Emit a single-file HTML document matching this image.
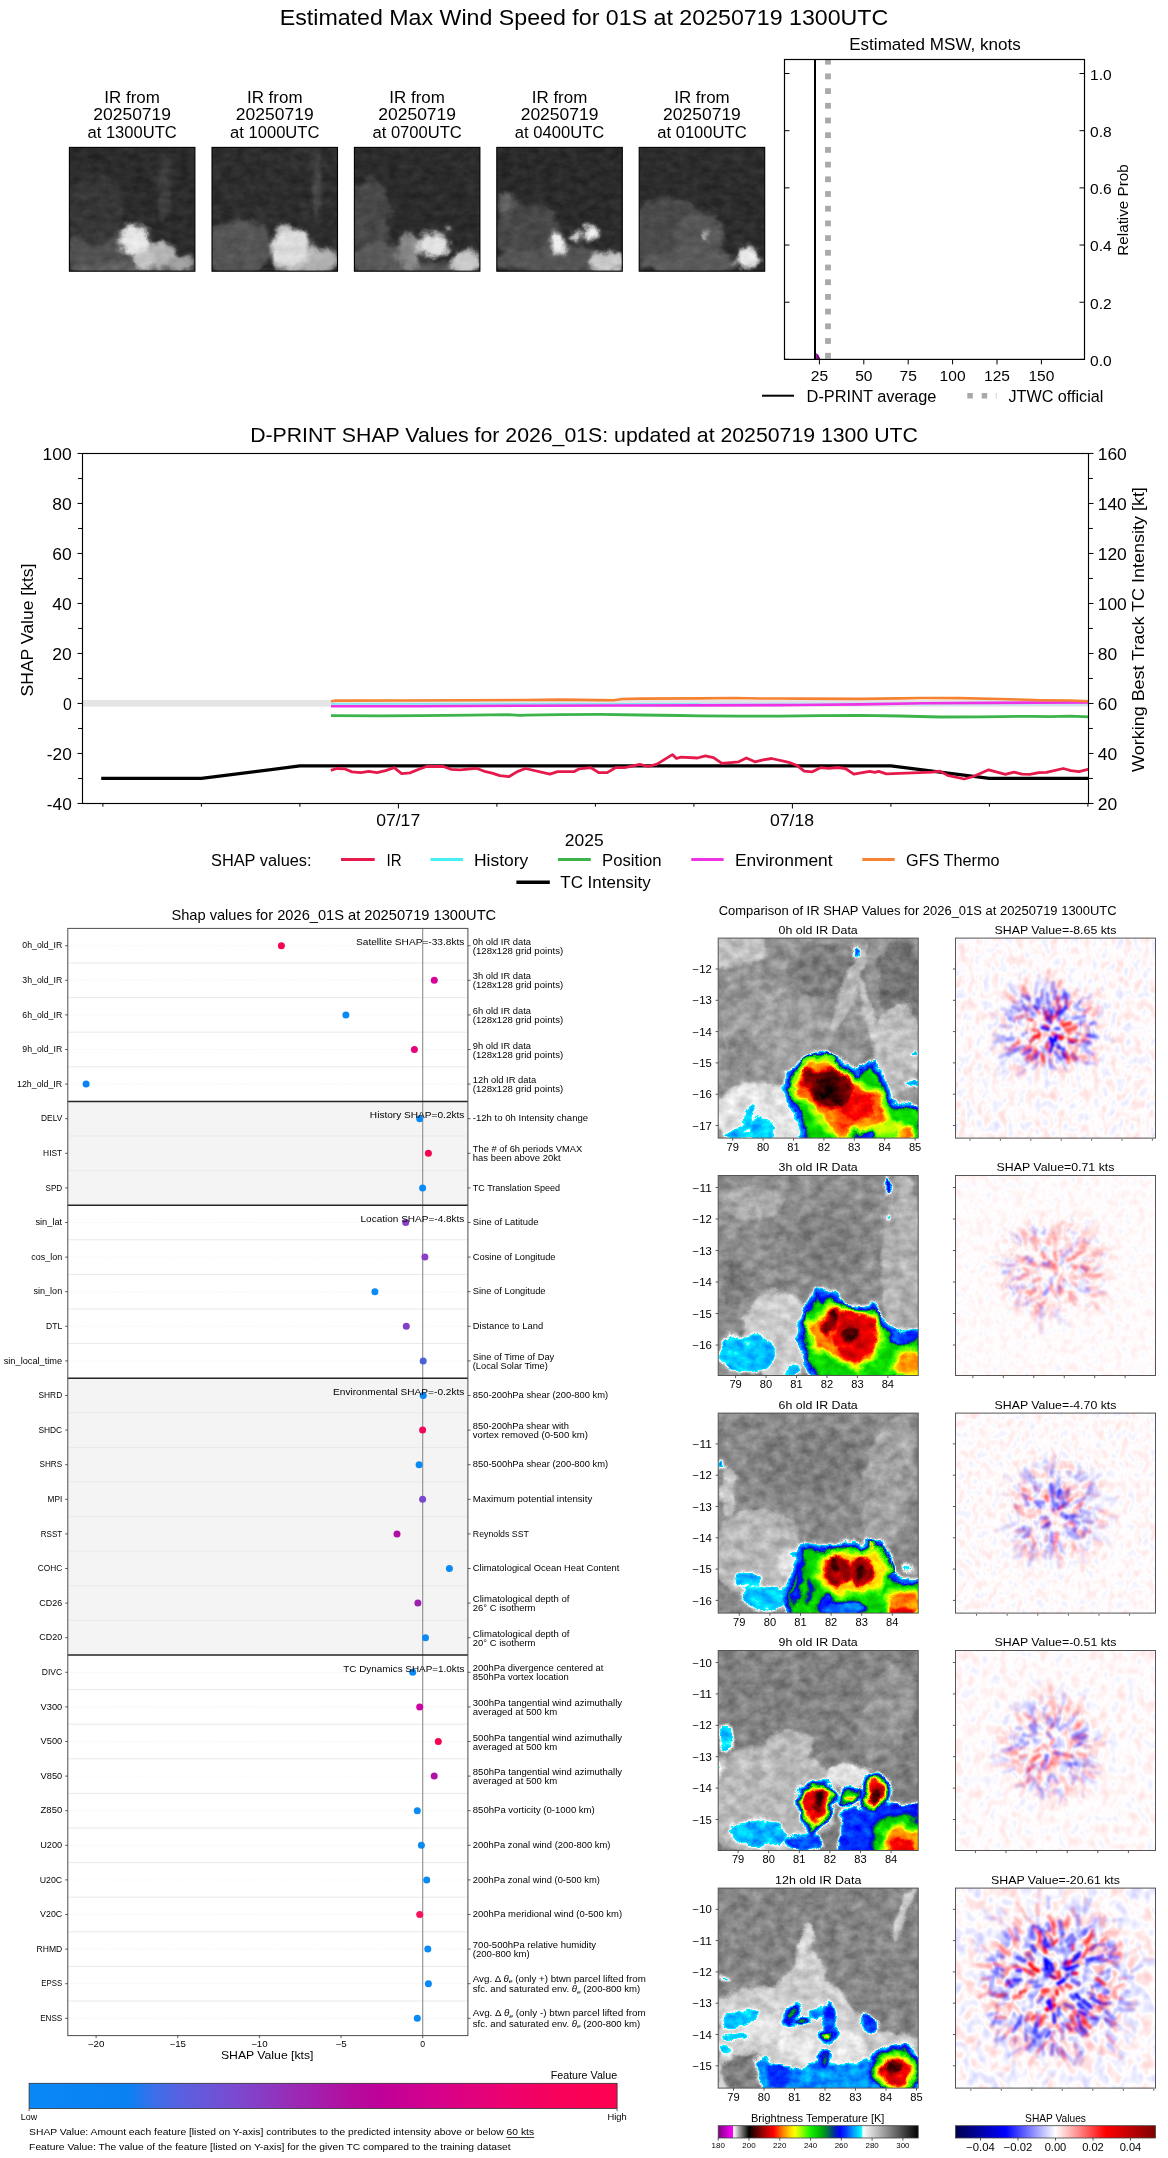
<!DOCTYPE html>
<html><head><meta charset="utf-8"><title>D-PRINT 01S</title>
<style>
html,body{margin:0;padding:0;background:#fff;}
body{width:1168px;height:2158px;overflow:hidden;}
svg{display:block;font-family:"Liberation Sans",sans-serif;}
text{fill:#000;}
</style></head><body>
<svg width="1168" height="2158" viewBox="0 0 1168 2158">
<defs>
<filter id="gt0" filterUnits="userSpaceOnUse" x="49.4" y="127.4" width="165.5" height="163.8" color-interpolation-filters="sRGB">
<feGaussianBlur in="SourceGraphic" stdDeviation="2.2" result="b"/>
<feTurbulence type="fractalNoise" baseFrequency="0.07" numOctaves="3" seed="3" result="t"/>
<feDisplacementMap in="b" in2="t" scale="12" xChannelSelector="R" yChannelSelector="G" result="d"/>
<feTurbulence type="fractalNoise" baseFrequency="0.09 0.13" numOctaves="3" seed="11" result="t2"/>
<feColorMatrix in="t2" type="matrix" values="1 0 0 0 0 1 0 0 0 0 1 0 0 0 0 0 0 0 0 1" result="n"/>
<feComposite in="d" in2="n" operator="arithmetic" k1="0" k2="1" k3="0.12" k4="-0.06"/>
</filter>
<clipPath id="ct0"><rect x="69.4" y="147.4" width="125.5" height="123.8"/></clipPath>
<filter id="gt1" filterUnits="userSpaceOnUse" x="192.0" y="127.4" width="165.5" height="163.8" color-interpolation-filters="sRGB">
<feGaussianBlur in="SourceGraphic" stdDeviation="2.2" result="b"/>
<feTurbulence type="fractalNoise" baseFrequency="0.07" numOctaves="3" seed="4" result="t"/>
<feDisplacementMap in="b" in2="t" scale="12" xChannelSelector="R" yChannelSelector="G" result="d"/>
<feTurbulence type="fractalNoise" baseFrequency="0.09 0.13" numOctaves="3" seed="12" result="t2"/>
<feColorMatrix in="t2" type="matrix" values="1 0 0 0 0 1 0 0 0 0 1 0 0 0 0 0 0 0 0 1" result="n"/>
<feComposite in="d" in2="n" operator="arithmetic" k1="0" k2="1" k3="0.12" k4="-0.06"/>
</filter>
<clipPath id="ct1"><rect x="212.0" y="147.4" width="125.5" height="123.8"/></clipPath>
<filter id="gt2" filterUnits="userSpaceOnUse" x="334.4" y="127.4" width="165.5" height="163.8" color-interpolation-filters="sRGB">
<feGaussianBlur in="SourceGraphic" stdDeviation="2.2" result="b"/>
<feTurbulence type="fractalNoise" baseFrequency="0.07" numOctaves="3" seed="5" result="t"/>
<feDisplacementMap in="b" in2="t" scale="12" xChannelSelector="R" yChannelSelector="G" result="d"/>
<feTurbulence type="fractalNoise" baseFrequency="0.09 0.13" numOctaves="3" seed="13" result="t2"/>
<feColorMatrix in="t2" type="matrix" values="1 0 0 0 0 1 0 0 0 0 1 0 0 0 0 0 0 0 0 1" result="n"/>
<feComposite in="d" in2="n" operator="arithmetic" k1="0" k2="1" k3="0.12" k4="-0.06"/>
</filter>
<clipPath id="ct2"><rect x="354.4" y="147.4" width="125.5" height="123.8"/></clipPath>
<filter id="gt3" filterUnits="userSpaceOnUse" x="476.8" y="127.4" width="165.5" height="163.8" color-interpolation-filters="sRGB">
<feGaussianBlur in="SourceGraphic" stdDeviation="2.2" result="b"/>
<feTurbulence type="fractalNoise" baseFrequency="0.07" numOctaves="3" seed="6" result="t"/>
<feDisplacementMap in="b" in2="t" scale="12" xChannelSelector="R" yChannelSelector="G" result="d"/>
<feTurbulence type="fractalNoise" baseFrequency="0.09 0.13" numOctaves="3" seed="14" result="t2"/>
<feColorMatrix in="t2" type="matrix" values="1 0 0 0 0 1 0 0 0 0 1 0 0 0 0 0 0 0 0 1" result="n"/>
<feComposite in="d" in2="n" operator="arithmetic" k1="0" k2="1" k3="0.12" k4="-0.06"/>
</filter>
<clipPath id="ct3"><rect x="496.8" y="147.4" width="125.5" height="123.8"/></clipPath>
<filter id="gt4" filterUnits="userSpaceOnUse" x="619.2" y="127.4" width="165.5" height="163.8" color-interpolation-filters="sRGB">
<feGaussianBlur in="SourceGraphic" stdDeviation="2.2" result="b"/>
<feTurbulence type="fractalNoise" baseFrequency="0.07" numOctaves="3" seed="7" result="t"/>
<feDisplacementMap in="b" in2="t" scale="12" xChannelSelector="R" yChannelSelector="G" result="d"/>
<feTurbulence type="fractalNoise" baseFrequency="0.09 0.13" numOctaves="3" seed="15" result="t2"/>
<feColorMatrix in="t2" type="matrix" values="1 0 0 0 0 1 0 0 0 0 1 0 0 0 0 0 0 0 0 1" result="n"/>
<feComposite in="d" in2="n" operator="arithmetic" k1="0" k2="1" k3="0.12" k4="-0.06"/>
</filter>
<clipPath id="ct4"><rect x="639.2" y="147.4" width="125.5" height="123.8"/></clipPath>
<linearGradient id="rb" x1="0" x2="1" y1="0" y2="0">
<stop offset="0" stop-color="#0a88f7"/><stop offset="0.17" stop-color="#0a80f2"/><stop offset="0.21" stop-color="#3a70ea"/>
<stop offset="0.26" stop-color="#5a60e0"/><stop offset="0.35" stop-color="#7a4ad0"/><stop offset="0.45" stop-color="#9a2ab6"/>
<stop offset="0.55" stop-color="#b40c9e"/><stop offset="0.60" stop-color="#c00098"/><stop offset="0.70" stop-color="#d6008a"/>
<stop offset="0.80" stop-color="#ea0072"/><stop offset="0.90" stop-color="#f8005a"/><stop offset="1" stop-color="#ff0050"/></linearGradient>
<filter id="fir0" filterUnits="userSpaceOnUse" x="693.2" y="913.1" width="250.0" height="250.0" color-interpolation-filters="sRGB">
<feGaussianBlur in="SourceGraphic" stdDeviation="1.5" result="b"/>
<feTurbulence type="fractalNoise" baseFrequency="0.06" numOctaves="4" seed="2" result="t"/>
<feDisplacementMap in="b" in2="t" scale="11" xChannelSelector="R" yChannelSelector="G" result="d"/>
<feTurbulence type="fractalNoise" baseFrequency="0.08 0.10" numOctaves="3" seed="1" result="t2"/>
<feColorMatrix in="t2" type="matrix" values="0 0 1 0 0 0 0 1 0 0 0 0 1 0 0 0 0 0 0 1" result="n"/>
<feComposite in="d" in2="n" operator="arithmetic" k1="0" k2="1" k3="0.09" k4="-0.045" result="f"/>
<feComponentTransfer in="f"><feFuncR type="table" tableValues="0.000 0.014 0.028 0.042 0.056 0.069 0.083 0.097 0.111 0.125 0.139 0.153 0.167 0.181 0.194 0.208 0.222 0.236 0.250 0.264 0.278 0.292 0.306 0.319 0.333 0.347 0.361 0.375 0.389 0.403 0.417 0.431 0.444 0.458 0.472 0.486 0.500 0.514 0.528 0.542 0.556 0.569 0.583 0.597 0.611 0.625 0.639 0.653 0.667 0.681 0.694 0.708 0.722 0.736 0.750 0.764 0.778 0.792 0.806 0.819 0.833 0.847 0.861 0.875 0.889 0.903 0.917 0.931 0.944 0.958 0.972 0.986 1.000 0.392 0.000 0.000 0.000 0.000 0.000 0.000 0.000 0.000 0.000 0.000 0.000 0.000 0.000 0.000 0.000 0.000 0.000 0.000 0.000 0.000 0.000 0.000 0.000 0.000 0.000 0.000 0.000 0.000 0.000 0.000 0.000 0.000 0.000 0.000 0.000 0.000 0.000 0.000 0.000 0.000 0.000 0.000 0.000 0.000 0.000 0.000 0.000 0.000 0.000 0.000 0.000 0.000 0.000 0.000 0.000 0.007 0.013 0.020 0.026 0.033 0.039 0.046 0.052 0.059 0.065 0.072 0.078 0.122 0.165 0.208 0.251 0.294 0.337 0.380 0.424 0.467 0.510 0.559 0.608 0.657 0.706 0.755 0.804 0.853 0.902 0.951 1.000 1.000 1.000 1.000 1.000 1.000 1.000 1.000 1.000 1.000 1.000 1.000 1.000 1.000 1.000 1.000 1.000 1.000 1.000 1.000 1.000 1.000 1.000 1.000 1.000 1.000 1.000 1.000 1.000 0.972 0.944 0.917 0.889 0.861 0.833 0.806 0.778 0.750 0.722 0.694 0.667 0.635 0.604 0.573 0.541 0.510 0.478 0.447 0.416 0.384 0.353 0.318 0.282 0.247 0.212 0.176 0.141 0.106 0.071 0.035 0.000 0.050 0.100 0.150 0.200 0.250 0.300 0.350 0.400 0.450 0.500 0.550 0.600 0.650 0.700 0.750 0.800 0.850 0.900 0.950 1.000 1.000 0.974 0.948 0.921 0.895 0.869 0.843 0.817 0.790 0.764 0.738 0.712 0.685 0.659 0.633 0.607 0.581 0.554 0.528 0.502"/><feFuncG type="table" tableValues="0.000 0.014 0.028 0.042 0.056 0.069 0.083 0.097 0.111 0.125 0.139 0.153 0.167 0.181 0.194 0.208 0.222 0.236 0.250 0.264 0.278 0.292 0.306 0.319 0.333 0.347 0.361 0.375 0.389 0.403 0.417 0.431 0.444 0.458 0.472 0.486 0.500 0.514 0.528 0.542 0.556 0.569 0.583 0.597 0.611 0.625 0.639 0.653 0.667 0.681 0.694 0.708 0.722 0.736 0.750 0.764 0.778 0.792 0.806 0.819 0.833 0.847 0.861 0.875 0.889 0.903 0.917 0.931 0.944 0.958 0.972 0.986 1.000 0.997 0.980 0.945 0.910 0.875 0.839 0.804 0.769 0.733 0.698 0.663 0.627 0.588 0.549 0.510 0.471 0.431 0.392 0.353 0.314 0.275 0.235 0.206 0.176 0.147 0.118 0.088 0.059 0.029 0.000 0.025 0.049 0.074 0.098 0.123 0.147 0.172 0.196 0.230 0.265 0.299 0.333 0.368 0.402 0.436 0.471 0.496 0.522 0.547 0.573 0.598 0.624 0.649 0.675 0.700 0.725 0.743 0.761 0.779 0.797 0.815 0.833 0.851 0.869 0.887 0.905 0.923 0.941 0.947 0.953 0.959 0.965 0.971 0.976 0.982 0.988 0.994 1.000 1.000 1.000 1.000 1.000 1.000 1.000 1.000 1.000 1.000 1.000 0.977 0.954 0.931 0.908 0.886 0.863 0.827 0.791 0.755 0.718 0.682 0.646 0.610 0.574 0.538 0.502 0.460 0.418 0.376 0.335 0.293 0.251 0.209 0.167 0.125 0.084 0.042 0.000 0.000 0.000 0.000 0.000 0.000 0.000 0.000 0.000 0.000 0.000 0.000 0.000 0.000 0.000 0.000 0.000 0.000 0.000 0.000 0.000 0.000 0.000 0.000 0.000 0.000 0.000 0.000 0.000 0.000 0.000 0.000 0.000 0.050 0.100 0.150 0.200 0.250 0.300 0.350 0.400 0.450 0.500 0.550 0.600 0.650 0.700 0.750 0.800 0.850 0.900 0.950 1.000 0.000 0.000 0.000 0.000 0.000 0.000 0.000 0.000 0.000 0.000 0.000 0.000 0.000 0.000 0.000 0.000 0.000 0.000 0.000 0.000"/><feFuncB type="table" tableValues="0.000 0.014 0.028 0.042 0.056 0.069 0.083 0.097 0.111 0.125 0.139 0.153 0.167 0.181 0.194 0.208 0.222 0.236 0.250 0.264 0.278 0.292 0.306 0.319 0.333 0.347 0.361 0.375 0.389 0.403 0.417 0.431 0.444 0.458 0.472 0.486 0.500 0.514 0.528 0.542 0.556 0.569 0.583 0.597 0.611 0.625 0.639 0.653 0.667 0.681 0.694 0.708 0.722 0.736 0.750 0.764 0.778 0.792 0.806 0.819 0.833 0.847 0.861 0.875 0.889 0.903 0.917 0.931 0.944 0.958 0.972 0.986 1.000 1.000 1.000 1.000 1.000 1.000 1.000 1.000 1.000 1.000 1.000 1.000 1.000 1.000 1.000 1.000 1.000 1.000 1.000 1.000 1.000 1.000 1.000 0.998 0.995 0.993 0.990 0.988 0.985 0.983 0.980 0.931 0.882 0.833 0.784 0.735 0.686 0.637 0.588 0.544 0.500 0.456 0.412 0.368 0.324 0.279 0.235 0.212 0.188 0.165 0.141 0.118 0.094 0.071 0.047 0.024 0.000 0.000 0.000 0.000 0.000 0.000 0.000 0.000 0.000 0.000 0.000 0.000 0.000 0.000 0.000 0.000 0.000 0.000 0.000 0.000 0.000 0.000 0.000 0.000 0.000 0.000 0.000 0.000 0.000 0.000 0.000 0.000 0.000 0.000 0.000 0.000 0.000 0.000 0.000 0.000 0.000 0.000 0.000 0.000 0.000 0.000 0.000 0.000 0.000 0.000 0.000 0.000 0.000 0.000 0.000 0.000 0.000 0.000 0.000 0.000 0.000 0.000 0.000 0.000 0.000 0.000 0.000 0.000 0.000 0.000 0.000 0.000 0.000 0.000 0.000 0.000 0.000 0.000 0.000 0.000 0.000 0.000 0.000 0.000 0.000 0.000 0.000 0.000 0.000 0.000 0.000 0.000 0.000 0.050 0.100 0.150 0.200 0.250 0.300 0.350 0.400 0.450 0.500 0.550 0.600 0.650 0.700 0.750 0.800 0.850 0.900 0.950 1.000 1.000 0.974 0.948 0.921 0.895 0.869 0.843 0.817 0.790 0.764 0.738 0.712 0.685 0.659 0.633 0.607 0.581 0.554 0.528 0.502"/></feComponentTransfer>
</filter>
<clipPath id="cir0"><rect x="718.2" y="938.1" width="200.0" height="200.0"/></clipPath>
<filter id="fsh0" filterUnits="userSpaceOnUse" x="955.5" y="938.1" width="200.0" height="200.0" color-interpolation-filters="sRGB">
<feGaussianBlur in="SourceGraphic" stdDeviation="9" result="a"/>
<feTurbulence type="fractalNoise" baseFrequency="0.12 0.09" numOctaves="2" seed="4" result="t"/>
<feColorMatrix in="t" type="matrix" values="1 0 0 0 0 1 0 0 0 0 1 0 0 0 0 0 0 0 0 1" result="n"/>
<feComposite in="n" in2="a" operator="arithmetic" k1="1.6" k2="0" k3="-0.8" k4="0.504" result="m"/>
<feColorMatrix in="m" type="matrix" values="1 0 0 0 0 1 0 0 0 0 1 0 0 0 0 0 0 0 0 1" result="m2"/>
<feComponentTransfer in="m2"><feFuncR type="table" tableValues="0 0 1 1 0.5"/><feFuncG type="table" tableValues="0 0 1 0 0"/><feFuncB type="table" tableValues="0.3 1 1 0 0"/></feComponentTransfer>
</filter>
<clipPath id="csh0"><rect x="955.5" y="938.1" width="200.0" height="200.0"/></clipPath>
<filter id="fir1" filterUnits="userSpaceOnUse" x="693.2" y="1150.5" width="250.0" height="250.0" color-interpolation-filters="sRGB">
<feGaussianBlur in="SourceGraphic" stdDeviation="1.5" result="b"/>
<feTurbulence type="fractalNoise" baseFrequency="0.06" numOctaves="4" seed="5" result="t"/>
<feDisplacementMap in="b" in2="t" scale="11" xChannelSelector="R" yChannelSelector="G" result="d"/>
<feTurbulence type="fractalNoise" baseFrequency="0.08 0.10" numOctaves="3" seed="6" result="t2"/>
<feColorMatrix in="t2" type="matrix" values="0 0 1 0 0 0 0 1 0 0 0 0 1 0 0 0 0 0 0 1" result="n"/>
<feComposite in="d" in2="n" operator="arithmetic" k1="0" k2="1" k3="0.09" k4="-0.045" result="f"/>
<feComponentTransfer in="f"><feFuncR type="table" tableValues="0.000 0.014 0.028 0.042 0.056 0.069 0.083 0.097 0.111 0.125 0.139 0.153 0.167 0.181 0.194 0.208 0.222 0.236 0.250 0.264 0.278 0.292 0.306 0.319 0.333 0.347 0.361 0.375 0.389 0.403 0.417 0.431 0.444 0.458 0.472 0.486 0.500 0.514 0.528 0.542 0.556 0.569 0.583 0.597 0.611 0.625 0.639 0.653 0.667 0.681 0.694 0.708 0.722 0.736 0.750 0.764 0.778 0.792 0.806 0.819 0.833 0.847 0.861 0.875 0.889 0.903 0.917 0.931 0.944 0.958 0.972 0.986 1.000 0.392 0.000 0.000 0.000 0.000 0.000 0.000 0.000 0.000 0.000 0.000 0.000 0.000 0.000 0.000 0.000 0.000 0.000 0.000 0.000 0.000 0.000 0.000 0.000 0.000 0.000 0.000 0.000 0.000 0.000 0.000 0.000 0.000 0.000 0.000 0.000 0.000 0.000 0.000 0.000 0.000 0.000 0.000 0.000 0.000 0.000 0.000 0.000 0.000 0.000 0.000 0.000 0.000 0.000 0.000 0.000 0.007 0.013 0.020 0.026 0.033 0.039 0.046 0.052 0.059 0.065 0.072 0.078 0.122 0.165 0.208 0.251 0.294 0.337 0.380 0.424 0.467 0.510 0.559 0.608 0.657 0.706 0.755 0.804 0.853 0.902 0.951 1.000 1.000 1.000 1.000 1.000 1.000 1.000 1.000 1.000 1.000 1.000 1.000 1.000 1.000 1.000 1.000 1.000 1.000 1.000 1.000 1.000 1.000 1.000 1.000 1.000 1.000 1.000 1.000 1.000 0.972 0.944 0.917 0.889 0.861 0.833 0.806 0.778 0.750 0.722 0.694 0.667 0.635 0.604 0.573 0.541 0.510 0.478 0.447 0.416 0.384 0.353 0.318 0.282 0.247 0.212 0.176 0.141 0.106 0.071 0.035 0.000 0.050 0.100 0.150 0.200 0.250 0.300 0.350 0.400 0.450 0.500 0.550 0.600 0.650 0.700 0.750 0.800 0.850 0.900 0.950 1.000 1.000 0.974 0.948 0.921 0.895 0.869 0.843 0.817 0.790 0.764 0.738 0.712 0.685 0.659 0.633 0.607 0.581 0.554 0.528 0.502"/><feFuncG type="table" tableValues="0.000 0.014 0.028 0.042 0.056 0.069 0.083 0.097 0.111 0.125 0.139 0.153 0.167 0.181 0.194 0.208 0.222 0.236 0.250 0.264 0.278 0.292 0.306 0.319 0.333 0.347 0.361 0.375 0.389 0.403 0.417 0.431 0.444 0.458 0.472 0.486 0.500 0.514 0.528 0.542 0.556 0.569 0.583 0.597 0.611 0.625 0.639 0.653 0.667 0.681 0.694 0.708 0.722 0.736 0.750 0.764 0.778 0.792 0.806 0.819 0.833 0.847 0.861 0.875 0.889 0.903 0.917 0.931 0.944 0.958 0.972 0.986 1.000 0.997 0.980 0.945 0.910 0.875 0.839 0.804 0.769 0.733 0.698 0.663 0.627 0.588 0.549 0.510 0.471 0.431 0.392 0.353 0.314 0.275 0.235 0.206 0.176 0.147 0.118 0.088 0.059 0.029 0.000 0.025 0.049 0.074 0.098 0.123 0.147 0.172 0.196 0.230 0.265 0.299 0.333 0.368 0.402 0.436 0.471 0.496 0.522 0.547 0.573 0.598 0.624 0.649 0.675 0.700 0.725 0.743 0.761 0.779 0.797 0.815 0.833 0.851 0.869 0.887 0.905 0.923 0.941 0.947 0.953 0.959 0.965 0.971 0.976 0.982 0.988 0.994 1.000 1.000 1.000 1.000 1.000 1.000 1.000 1.000 1.000 1.000 1.000 0.977 0.954 0.931 0.908 0.886 0.863 0.827 0.791 0.755 0.718 0.682 0.646 0.610 0.574 0.538 0.502 0.460 0.418 0.376 0.335 0.293 0.251 0.209 0.167 0.125 0.084 0.042 0.000 0.000 0.000 0.000 0.000 0.000 0.000 0.000 0.000 0.000 0.000 0.000 0.000 0.000 0.000 0.000 0.000 0.000 0.000 0.000 0.000 0.000 0.000 0.000 0.000 0.000 0.000 0.000 0.000 0.000 0.000 0.000 0.000 0.050 0.100 0.150 0.200 0.250 0.300 0.350 0.400 0.450 0.500 0.550 0.600 0.650 0.700 0.750 0.800 0.850 0.900 0.950 1.000 0.000 0.000 0.000 0.000 0.000 0.000 0.000 0.000 0.000 0.000 0.000 0.000 0.000 0.000 0.000 0.000 0.000 0.000 0.000 0.000"/><feFuncB type="table" tableValues="0.000 0.014 0.028 0.042 0.056 0.069 0.083 0.097 0.111 0.125 0.139 0.153 0.167 0.181 0.194 0.208 0.222 0.236 0.250 0.264 0.278 0.292 0.306 0.319 0.333 0.347 0.361 0.375 0.389 0.403 0.417 0.431 0.444 0.458 0.472 0.486 0.500 0.514 0.528 0.542 0.556 0.569 0.583 0.597 0.611 0.625 0.639 0.653 0.667 0.681 0.694 0.708 0.722 0.736 0.750 0.764 0.778 0.792 0.806 0.819 0.833 0.847 0.861 0.875 0.889 0.903 0.917 0.931 0.944 0.958 0.972 0.986 1.000 1.000 1.000 1.000 1.000 1.000 1.000 1.000 1.000 1.000 1.000 1.000 1.000 1.000 1.000 1.000 1.000 1.000 1.000 1.000 1.000 1.000 1.000 0.998 0.995 0.993 0.990 0.988 0.985 0.983 0.980 0.931 0.882 0.833 0.784 0.735 0.686 0.637 0.588 0.544 0.500 0.456 0.412 0.368 0.324 0.279 0.235 0.212 0.188 0.165 0.141 0.118 0.094 0.071 0.047 0.024 0.000 0.000 0.000 0.000 0.000 0.000 0.000 0.000 0.000 0.000 0.000 0.000 0.000 0.000 0.000 0.000 0.000 0.000 0.000 0.000 0.000 0.000 0.000 0.000 0.000 0.000 0.000 0.000 0.000 0.000 0.000 0.000 0.000 0.000 0.000 0.000 0.000 0.000 0.000 0.000 0.000 0.000 0.000 0.000 0.000 0.000 0.000 0.000 0.000 0.000 0.000 0.000 0.000 0.000 0.000 0.000 0.000 0.000 0.000 0.000 0.000 0.000 0.000 0.000 0.000 0.000 0.000 0.000 0.000 0.000 0.000 0.000 0.000 0.000 0.000 0.000 0.000 0.000 0.000 0.000 0.000 0.000 0.000 0.000 0.000 0.000 0.000 0.000 0.000 0.000 0.000 0.000 0.000 0.050 0.100 0.150 0.200 0.250 0.300 0.350 0.400 0.450 0.500 0.550 0.600 0.650 0.700 0.750 0.800 0.850 0.900 0.950 1.000 1.000 0.974 0.948 0.921 0.895 0.869 0.843 0.817 0.790 0.764 0.738 0.712 0.685 0.659 0.633 0.607 0.581 0.554 0.528 0.502"/></feComponentTransfer>
</filter>
<clipPath id="cir1"><rect x="718.2" y="1175.5" width="200.0" height="200.0"/></clipPath>
<filter id="fsh1" filterUnits="userSpaceOnUse" x="955.5" y="1175.5" width="200.0" height="200.0" color-interpolation-filters="sRGB">
<feGaussianBlur in="SourceGraphic" stdDeviation="9" result="a"/>
<feTurbulence type="fractalNoise" baseFrequency="0.13 0.11" numOctaves="2" seed="7" result="t"/>
<feColorMatrix in="t" type="matrix" values="1 0 0 0 0 1 0 0 0 0 1 0 0 0 0 0 0 0 0 1" result="n"/>
<feComposite in="n" in2="a" operator="arithmetic" k1="1.6" k2="0" k3="-0.8" k4="0.504" result="m"/>
<feColorMatrix in="m" type="matrix" values="1 0 0 0 0 1 0 0 0 0 1 0 0 0 0 0 0 0 0 1" result="m2"/>
<feComponentTransfer in="m2"><feFuncR type="table" tableValues="0 0 1 1 0.5"/><feFuncG type="table" tableValues="0 0 1 0 0"/><feFuncB type="table" tableValues="0.3 1 1 0 0"/></feComponentTransfer>
</filter>
<clipPath id="csh1"><rect x="955.5" y="1175.5" width="200.0" height="200.0"/></clipPath>
<filter id="fir2" filterUnits="userSpaceOnUse" x="693.2" y="1388.1" width="250.0" height="250.0" color-interpolation-filters="sRGB">
<feGaussianBlur in="SourceGraphic" stdDeviation="1.5" result="b"/>
<feTurbulence type="fractalNoise" baseFrequency="0.06" numOctaves="4" seed="8" result="t"/>
<feDisplacementMap in="b" in2="t" scale="11" xChannelSelector="R" yChannelSelector="G" result="d"/>
<feTurbulence type="fractalNoise" baseFrequency="0.08 0.10" numOctaves="3" seed="11" result="t2"/>
<feColorMatrix in="t2" type="matrix" values="0 0 1 0 0 0 0 1 0 0 0 0 1 0 0 0 0 0 0 1" result="n"/>
<feComposite in="d" in2="n" operator="arithmetic" k1="0" k2="1" k3="0.09" k4="-0.045" result="f"/>
<feComponentTransfer in="f"><feFuncR type="table" tableValues="0.000 0.014 0.028 0.042 0.056 0.069 0.083 0.097 0.111 0.125 0.139 0.153 0.167 0.181 0.194 0.208 0.222 0.236 0.250 0.264 0.278 0.292 0.306 0.319 0.333 0.347 0.361 0.375 0.389 0.403 0.417 0.431 0.444 0.458 0.472 0.486 0.500 0.514 0.528 0.542 0.556 0.569 0.583 0.597 0.611 0.625 0.639 0.653 0.667 0.681 0.694 0.708 0.722 0.736 0.750 0.764 0.778 0.792 0.806 0.819 0.833 0.847 0.861 0.875 0.889 0.903 0.917 0.931 0.944 0.958 0.972 0.986 1.000 0.392 0.000 0.000 0.000 0.000 0.000 0.000 0.000 0.000 0.000 0.000 0.000 0.000 0.000 0.000 0.000 0.000 0.000 0.000 0.000 0.000 0.000 0.000 0.000 0.000 0.000 0.000 0.000 0.000 0.000 0.000 0.000 0.000 0.000 0.000 0.000 0.000 0.000 0.000 0.000 0.000 0.000 0.000 0.000 0.000 0.000 0.000 0.000 0.000 0.000 0.000 0.000 0.000 0.000 0.000 0.000 0.007 0.013 0.020 0.026 0.033 0.039 0.046 0.052 0.059 0.065 0.072 0.078 0.122 0.165 0.208 0.251 0.294 0.337 0.380 0.424 0.467 0.510 0.559 0.608 0.657 0.706 0.755 0.804 0.853 0.902 0.951 1.000 1.000 1.000 1.000 1.000 1.000 1.000 1.000 1.000 1.000 1.000 1.000 1.000 1.000 1.000 1.000 1.000 1.000 1.000 1.000 1.000 1.000 1.000 1.000 1.000 1.000 1.000 1.000 1.000 0.972 0.944 0.917 0.889 0.861 0.833 0.806 0.778 0.750 0.722 0.694 0.667 0.635 0.604 0.573 0.541 0.510 0.478 0.447 0.416 0.384 0.353 0.318 0.282 0.247 0.212 0.176 0.141 0.106 0.071 0.035 0.000 0.050 0.100 0.150 0.200 0.250 0.300 0.350 0.400 0.450 0.500 0.550 0.600 0.650 0.700 0.750 0.800 0.850 0.900 0.950 1.000 1.000 0.974 0.948 0.921 0.895 0.869 0.843 0.817 0.790 0.764 0.738 0.712 0.685 0.659 0.633 0.607 0.581 0.554 0.528 0.502"/><feFuncG type="table" tableValues="0.000 0.014 0.028 0.042 0.056 0.069 0.083 0.097 0.111 0.125 0.139 0.153 0.167 0.181 0.194 0.208 0.222 0.236 0.250 0.264 0.278 0.292 0.306 0.319 0.333 0.347 0.361 0.375 0.389 0.403 0.417 0.431 0.444 0.458 0.472 0.486 0.500 0.514 0.528 0.542 0.556 0.569 0.583 0.597 0.611 0.625 0.639 0.653 0.667 0.681 0.694 0.708 0.722 0.736 0.750 0.764 0.778 0.792 0.806 0.819 0.833 0.847 0.861 0.875 0.889 0.903 0.917 0.931 0.944 0.958 0.972 0.986 1.000 0.997 0.980 0.945 0.910 0.875 0.839 0.804 0.769 0.733 0.698 0.663 0.627 0.588 0.549 0.510 0.471 0.431 0.392 0.353 0.314 0.275 0.235 0.206 0.176 0.147 0.118 0.088 0.059 0.029 0.000 0.025 0.049 0.074 0.098 0.123 0.147 0.172 0.196 0.230 0.265 0.299 0.333 0.368 0.402 0.436 0.471 0.496 0.522 0.547 0.573 0.598 0.624 0.649 0.675 0.700 0.725 0.743 0.761 0.779 0.797 0.815 0.833 0.851 0.869 0.887 0.905 0.923 0.941 0.947 0.953 0.959 0.965 0.971 0.976 0.982 0.988 0.994 1.000 1.000 1.000 1.000 1.000 1.000 1.000 1.000 1.000 1.000 1.000 0.977 0.954 0.931 0.908 0.886 0.863 0.827 0.791 0.755 0.718 0.682 0.646 0.610 0.574 0.538 0.502 0.460 0.418 0.376 0.335 0.293 0.251 0.209 0.167 0.125 0.084 0.042 0.000 0.000 0.000 0.000 0.000 0.000 0.000 0.000 0.000 0.000 0.000 0.000 0.000 0.000 0.000 0.000 0.000 0.000 0.000 0.000 0.000 0.000 0.000 0.000 0.000 0.000 0.000 0.000 0.000 0.000 0.000 0.000 0.000 0.050 0.100 0.150 0.200 0.250 0.300 0.350 0.400 0.450 0.500 0.550 0.600 0.650 0.700 0.750 0.800 0.850 0.900 0.950 1.000 0.000 0.000 0.000 0.000 0.000 0.000 0.000 0.000 0.000 0.000 0.000 0.000 0.000 0.000 0.000 0.000 0.000 0.000 0.000 0.000"/><feFuncB type="table" tableValues="0.000 0.014 0.028 0.042 0.056 0.069 0.083 0.097 0.111 0.125 0.139 0.153 0.167 0.181 0.194 0.208 0.222 0.236 0.250 0.264 0.278 0.292 0.306 0.319 0.333 0.347 0.361 0.375 0.389 0.403 0.417 0.431 0.444 0.458 0.472 0.486 0.500 0.514 0.528 0.542 0.556 0.569 0.583 0.597 0.611 0.625 0.639 0.653 0.667 0.681 0.694 0.708 0.722 0.736 0.750 0.764 0.778 0.792 0.806 0.819 0.833 0.847 0.861 0.875 0.889 0.903 0.917 0.931 0.944 0.958 0.972 0.986 1.000 1.000 1.000 1.000 1.000 1.000 1.000 1.000 1.000 1.000 1.000 1.000 1.000 1.000 1.000 1.000 1.000 1.000 1.000 1.000 1.000 1.000 1.000 0.998 0.995 0.993 0.990 0.988 0.985 0.983 0.980 0.931 0.882 0.833 0.784 0.735 0.686 0.637 0.588 0.544 0.500 0.456 0.412 0.368 0.324 0.279 0.235 0.212 0.188 0.165 0.141 0.118 0.094 0.071 0.047 0.024 0.000 0.000 0.000 0.000 0.000 0.000 0.000 0.000 0.000 0.000 0.000 0.000 0.000 0.000 0.000 0.000 0.000 0.000 0.000 0.000 0.000 0.000 0.000 0.000 0.000 0.000 0.000 0.000 0.000 0.000 0.000 0.000 0.000 0.000 0.000 0.000 0.000 0.000 0.000 0.000 0.000 0.000 0.000 0.000 0.000 0.000 0.000 0.000 0.000 0.000 0.000 0.000 0.000 0.000 0.000 0.000 0.000 0.000 0.000 0.000 0.000 0.000 0.000 0.000 0.000 0.000 0.000 0.000 0.000 0.000 0.000 0.000 0.000 0.000 0.000 0.000 0.000 0.000 0.000 0.000 0.000 0.000 0.000 0.000 0.000 0.000 0.000 0.000 0.000 0.000 0.000 0.000 0.000 0.050 0.100 0.150 0.200 0.250 0.300 0.350 0.400 0.450 0.500 0.550 0.600 0.650 0.700 0.750 0.800 0.850 0.900 0.950 1.000 1.000 0.974 0.948 0.921 0.895 0.869 0.843 0.817 0.790 0.764 0.738 0.712 0.685 0.659 0.633 0.607 0.581 0.554 0.528 0.502"/></feComponentTransfer>
</filter>
<clipPath id="cir2"><rect x="718.2" y="1413.1" width="200.0" height="200.0"/></clipPath>
<filter id="fsh2" filterUnits="userSpaceOnUse" x="955.5" y="1413.1" width="200.0" height="200.0" color-interpolation-filters="sRGB">
<feGaussianBlur in="SourceGraphic" stdDeviation="9" result="a"/>
<feTurbulence type="fractalNoise" baseFrequency="0.14 0.10" numOctaves="2" seed="11" result="t"/>
<feColorMatrix in="t" type="matrix" values="1 0 0 0 0 1 0 0 0 0 1 0 0 0 0 0 0 0 0 1" result="n"/>
<feComposite in="n" in2="a" operator="arithmetic" k1="1.6" k2="0" k3="-0.8" k4="0.504" result="m"/>
<feColorMatrix in="m" type="matrix" values="1 0 0 0 0 1 0 0 0 0 1 0 0 0 0 0 0 0 0 1" result="m2"/>
<feComponentTransfer in="m2"><feFuncR type="table" tableValues="0 0 1 1 0.5"/><feFuncG type="table" tableValues="0 0 1 0 0"/><feFuncB type="table" tableValues="0.3 1 1 0 0"/></feComponentTransfer>
</filter>
<clipPath id="csh2"><rect x="955.5" y="1413.1" width="200.0" height="200.0"/></clipPath>
<filter id="fir3" filterUnits="userSpaceOnUse" x="693.2" y="1625.5" width="250.0" height="250.0" color-interpolation-filters="sRGB">
<feGaussianBlur in="SourceGraphic" stdDeviation="1.5" result="b"/>
<feTurbulence type="fractalNoise" baseFrequency="0.06" numOctaves="4" seed="11" result="t"/>
<feDisplacementMap in="b" in2="t" scale="11" xChannelSelector="R" yChannelSelector="G" result="d"/>
<feTurbulence type="fractalNoise" baseFrequency="0.08 0.10" numOctaves="3" seed="16" result="t2"/>
<feColorMatrix in="t2" type="matrix" values="0 0 1 0 0 0 0 1 0 0 0 0 1 0 0 0 0 0 0 1" result="n"/>
<feComposite in="d" in2="n" operator="arithmetic" k1="0" k2="1" k3="0.09" k4="-0.045" result="f"/>
<feComponentTransfer in="f"><feFuncR type="table" tableValues="0.000 0.014 0.028 0.042 0.056 0.069 0.083 0.097 0.111 0.125 0.139 0.153 0.167 0.181 0.194 0.208 0.222 0.236 0.250 0.264 0.278 0.292 0.306 0.319 0.333 0.347 0.361 0.375 0.389 0.403 0.417 0.431 0.444 0.458 0.472 0.486 0.500 0.514 0.528 0.542 0.556 0.569 0.583 0.597 0.611 0.625 0.639 0.653 0.667 0.681 0.694 0.708 0.722 0.736 0.750 0.764 0.778 0.792 0.806 0.819 0.833 0.847 0.861 0.875 0.889 0.903 0.917 0.931 0.944 0.958 0.972 0.986 1.000 0.392 0.000 0.000 0.000 0.000 0.000 0.000 0.000 0.000 0.000 0.000 0.000 0.000 0.000 0.000 0.000 0.000 0.000 0.000 0.000 0.000 0.000 0.000 0.000 0.000 0.000 0.000 0.000 0.000 0.000 0.000 0.000 0.000 0.000 0.000 0.000 0.000 0.000 0.000 0.000 0.000 0.000 0.000 0.000 0.000 0.000 0.000 0.000 0.000 0.000 0.000 0.000 0.000 0.000 0.000 0.000 0.007 0.013 0.020 0.026 0.033 0.039 0.046 0.052 0.059 0.065 0.072 0.078 0.122 0.165 0.208 0.251 0.294 0.337 0.380 0.424 0.467 0.510 0.559 0.608 0.657 0.706 0.755 0.804 0.853 0.902 0.951 1.000 1.000 1.000 1.000 1.000 1.000 1.000 1.000 1.000 1.000 1.000 1.000 1.000 1.000 1.000 1.000 1.000 1.000 1.000 1.000 1.000 1.000 1.000 1.000 1.000 1.000 1.000 1.000 1.000 0.972 0.944 0.917 0.889 0.861 0.833 0.806 0.778 0.750 0.722 0.694 0.667 0.635 0.604 0.573 0.541 0.510 0.478 0.447 0.416 0.384 0.353 0.318 0.282 0.247 0.212 0.176 0.141 0.106 0.071 0.035 0.000 0.050 0.100 0.150 0.200 0.250 0.300 0.350 0.400 0.450 0.500 0.550 0.600 0.650 0.700 0.750 0.800 0.850 0.900 0.950 1.000 1.000 0.974 0.948 0.921 0.895 0.869 0.843 0.817 0.790 0.764 0.738 0.712 0.685 0.659 0.633 0.607 0.581 0.554 0.528 0.502"/><feFuncG type="table" tableValues="0.000 0.014 0.028 0.042 0.056 0.069 0.083 0.097 0.111 0.125 0.139 0.153 0.167 0.181 0.194 0.208 0.222 0.236 0.250 0.264 0.278 0.292 0.306 0.319 0.333 0.347 0.361 0.375 0.389 0.403 0.417 0.431 0.444 0.458 0.472 0.486 0.500 0.514 0.528 0.542 0.556 0.569 0.583 0.597 0.611 0.625 0.639 0.653 0.667 0.681 0.694 0.708 0.722 0.736 0.750 0.764 0.778 0.792 0.806 0.819 0.833 0.847 0.861 0.875 0.889 0.903 0.917 0.931 0.944 0.958 0.972 0.986 1.000 0.997 0.980 0.945 0.910 0.875 0.839 0.804 0.769 0.733 0.698 0.663 0.627 0.588 0.549 0.510 0.471 0.431 0.392 0.353 0.314 0.275 0.235 0.206 0.176 0.147 0.118 0.088 0.059 0.029 0.000 0.025 0.049 0.074 0.098 0.123 0.147 0.172 0.196 0.230 0.265 0.299 0.333 0.368 0.402 0.436 0.471 0.496 0.522 0.547 0.573 0.598 0.624 0.649 0.675 0.700 0.725 0.743 0.761 0.779 0.797 0.815 0.833 0.851 0.869 0.887 0.905 0.923 0.941 0.947 0.953 0.959 0.965 0.971 0.976 0.982 0.988 0.994 1.000 1.000 1.000 1.000 1.000 1.000 1.000 1.000 1.000 1.000 1.000 0.977 0.954 0.931 0.908 0.886 0.863 0.827 0.791 0.755 0.718 0.682 0.646 0.610 0.574 0.538 0.502 0.460 0.418 0.376 0.335 0.293 0.251 0.209 0.167 0.125 0.084 0.042 0.000 0.000 0.000 0.000 0.000 0.000 0.000 0.000 0.000 0.000 0.000 0.000 0.000 0.000 0.000 0.000 0.000 0.000 0.000 0.000 0.000 0.000 0.000 0.000 0.000 0.000 0.000 0.000 0.000 0.000 0.000 0.000 0.000 0.050 0.100 0.150 0.200 0.250 0.300 0.350 0.400 0.450 0.500 0.550 0.600 0.650 0.700 0.750 0.800 0.850 0.900 0.950 1.000 0.000 0.000 0.000 0.000 0.000 0.000 0.000 0.000 0.000 0.000 0.000 0.000 0.000 0.000 0.000 0.000 0.000 0.000 0.000 0.000"/><feFuncB type="table" tableValues="0.000 0.014 0.028 0.042 0.056 0.069 0.083 0.097 0.111 0.125 0.139 0.153 0.167 0.181 0.194 0.208 0.222 0.236 0.250 0.264 0.278 0.292 0.306 0.319 0.333 0.347 0.361 0.375 0.389 0.403 0.417 0.431 0.444 0.458 0.472 0.486 0.500 0.514 0.528 0.542 0.556 0.569 0.583 0.597 0.611 0.625 0.639 0.653 0.667 0.681 0.694 0.708 0.722 0.736 0.750 0.764 0.778 0.792 0.806 0.819 0.833 0.847 0.861 0.875 0.889 0.903 0.917 0.931 0.944 0.958 0.972 0.986 1.000 1.000 1.000 1.000 1.000 1.000 1.000 1.000 1.000 1.000 1.000 1.000 1.000 1.000 1.000 1.000 1.000 1.000 1.000 1.000 1.000 1.000 1.000 0.998 0.995 0.993 0.990 0.988 0.985 0.983 0.980 0.931 0.882 0.833 0.784 0.735 0.686 0.637 0.588 0.544 0.500 0.456 0.412 0.368 0.324 0.279 0.235 0.212 0.188 0.165 0.141 0.118 0.094 0.071 0.047 0.024 0.000 0.000 0.000 0.000 0.000 0.000 0.000 0.000 0.000 0.000 0.000 0.000 0.000 0.000 0.000 0.000 0.000 0.000 0.000 0.000 0.000 0.000 0.000 0.000 0.000 0.000 0.000 0.000 0.000 0.000 0.000 0.000 0.000 0.000 0.000 0.000 0.000 0.000 0.000 0.000 0.000 0.000 0.000 0.000 0.000 0.000 0.000 0.000 0.000 0.000 0.000 0.000 0.000 0.000 0.000 0.000 0.000 0.000 0.000 0.000 0.000 0.000 0.000 0.000 0.000 0.000 0.000 0.000 0.000 0.000 0.000 0.000 0.000 0.000 0.000 0.000 0.000 0.000 0.000 0.000 0.000 0.000 0.000 0.000 0.000 0.000 0.000 0.000 0.000 0.000 0.000 0.000 0.000 0.050 0.100 0.150 0.200 0.250 0.300 0.350 0.400 0.450 0.500 0.550 0.600 0.650 0.700 0.750 0.800 0.850 0.900 0.950 1.000 1.000 0.974 0.948 0.921 0.895 0.869 0.843 0.817 0.790 0.764 0.738 0.712 0.685 0.659 0.633 0.607 0.581 0.554 0.528 0.502"/></feComponentTransfer>
</filter>
<clipPath id="cir3"><rect x="718.2" y="1650.5" width="200.0" height="200.0"/></clipPath>
<filter id="fsh3" filterUnits="userSpaceOnUse" x="955.5" y="1650.5" width="200.0" height="200.0" color-interpolation-filters="sRGB">
<feGaussianBlur in="SourceGraphic" stdDeviation="9" result="a"/>
<feTurbulence type="fractalNoise" baseFrequency="0.11 0.08" numOctaves="2" seed="15" result="t"/>
<feColorMatrix in="t" type="matrix" values="1 0 0 0 0 1 0 0 0 0 1 0 0 0 0 0 0 0 0 1" result="n"/>
<feComposite in="n" in2="a" operator="arithmetic" k1="1.6" k2="0" k3="-0.8" k4="0.504" result="m"/>
<feColorMatrix in="m" type="matrix" values="1 0 0 0 0 1 0 0 0 0 1 0 0 0 0 0 0 0 0 1" result="m2"/>
<feComponentTransfer in="m2"><feFuncR type="table" tableValues="0 0 1 1 0.5"/><feFuncG type="table" tableValues="0 0 1 0 0"/><feFuncB type="table" tableValues="0.3 1 1 0 0"/></feComponentTransfer>
</filter>
<clipPath id="csh3"><rect x="955.5" y="1650.5" width="200.0" height="200.0"/></clipPath>
<filter id="fir4" filterUnits="userSpaceOnUse" x="693.2" y="1863.1" width="250.0" height="250.0" color-interpolation-filters="sRGB">
<feGaussianBlur in="SourceGraphic" stdDeviation="1.5" result="b"/>
<feTurbulence type="fractalNoise" baseFrequency="0.06" numOctaves="4" seed="14" result="t"/>
<feDisplacementMap in="b" in2="t" scale="11" xChannelSelector="R" yChannelSelector="G" result="d"/>
<feTurbulence type="fractalNoise" baseFrequency="0.08 0.10" numOctaves="3" seed="21" result="t2"/>
<feColorMatrix in="t2" type="matrix" values="0 0 1 0 0 0 0 1 0 0 0 0 1 0 0 0 0 0 0 1" result="n"/>
<feComposite in="d" in2="n" operator="arithmetic" k1="0" k2="1" k3="0.09" k4="-0.045" result="f"/>
<feComponentTransfer in="f"><feFuncR type="table" tableValues="0.000 0.014 0.028 0.042 0.056 0.069 0.083 0.097 0.111 0.125 0.139 0.153 0.167 0.181 0.194 0.208 0.222 0.236 0.250 0.264 0.278 0.292 0.306 0.319 0.333 0.347 0.361 0.375 0.389 0.403 0.417 0.431 0.444 0.458 0.472 0.486 0.500 0.514 0.528 0.542 0.556 0.569 0.583 0.597 0.611 0.625 0.639 0.653 0.667 0.681 0.694 0.708 0.722 0.736 0.750 0.764 0.778 0.792 0.806 0.819 0.833 0.847 0.861 0.875 0.889 0.903 0.917 0.931 0.944 0.958 0.972 0.986 1.000 0.392 0.000 0.000 0.000 0.000 0.000 0.000 0.000 0.000 0.000 0.000 0.000 0.000 0.000 0.000 0.000 0.000 0.000 0.000 0.000 0.000 0.000 0.000 0.000 0.000 0.000 0.000 0.000 0.000 0.000 0.000 0.000 0.000 0.000 0.000 0.000 0.000 0.000 0.000 0.000 0.000 0.000 0.000 0.000 0.000 0.000 0.000 0.000 0.000 0.000 0.000 0.000 0.000 0.000 0.000 0.000 0.007 0.013 0.020 0.026 0.033 0.039 0.046 0.052 0.059 0.065 0.072 0.078 0.122 0.165 0.208 0.251 0.294 0.337 0.380 0.424 0.467 0.510 0.559 0.608 0.657 0.706 0.755 0.804 0.853 0.902 0.951 1.000 1.000 1.000 1.000 1.000 1.000 1.000 1.000 1.000 1.000 1.000 1.000 1.000 1.000 1.000 1.000 1.000 1.000 1.000 1.000 1.000 1.000 1.000 1.000 1.000 1.000 1.000 1.000 1.000 0.972 0.944 0.917 0.889 0.861 0.833 0.806 0.778 0.750 0.722 0.694 0.667 0.635 0.604 0.573 0.541 0.510 0.478 0.447 0.416 0.384 0.353 0.318 0.282 0.247 0.212 0.176 0.141 0.106 0.071 0.035 0.000 0.050 0.100 0.150 0.200 0.250 0.300 0.350 0.400 0.450 0.500 0.550 0.600 0.650 0.700 0.750 0.800 0.850 0.900 0.950 1.000 1.000 0.974 0.948 0.921 0.895 0.869 0.843 0.817 0.790 0.764 0.738 0.712 0.685 0.659 0.633 0.607 0.581 0.554 0.528 0.502"/><feFuncG type="table" tableValues="0.000 0.014 0.028 0.042 0.056 0.069 0.083 0.097 0.111 0.125 0.139 0.153 0.167 0.181 0.194 0.208 0.222 0.236 0.250 0.264 0.278 0.292 0.306 0.319 0.333 0.347 0.361 0.375 0.389 0.403 0.417 0.431 0.444 0.458 0.472 0.486 0.500 0.514 0.528 0.542 0.556 0.569 0.583 0.597 0.611 0.625 0.639 0.653 0.667 0.681 0.694 0.708 0.722 0.736 0.750 0.764 0.778 0.792 0.806 0.819 0.833 0.847 0.861 0.875 0.889 0.903 0.917 0.931 0.944 0.958 0.972 0.986 1.000 0.997 0.980 0.945 0.910 0.875 0.839 0.804 0.769 0.733 0.698 0.663 0.627 0.588 0.549 0.510 0.471 0.431 0.392 0.353 0.314 0.275 0.235 0.206 0.176 0.147 0.118 0.088 0.059 0.029 0.000 0.025 0.049 0.074 0.098 0.123 0.147 0.172 0.196 0.230 0.265 0.299 0.333 0.368 0.402 0.436 0.471 0.496 0.522 0.547 0.573 0.598 0.624 0.649 0.675 0.700 0.725 0.743 0.761 0.779 0.797 0.815 0.833 0.851 0.869 0.887 0.905 0.923 0.941 0.947 0.953 0.959 0.965 0.971 0.976 0.982 0.988 0.994 1.000 1.000 1.000 1.000 1.000 1.000 1.000 1.000 1.000 1.000 1.000 0.977 0.954 0.931 0.908 0.886 0.863 0.827 0.791 0.755 0.718 0.682 0.646 0.610 0.574 0.538 0.502 0.460 0.418 0.376 0.335 0.293 0.251 0.209 0.167 0.125 0.084 0.042 0.000 0.000 0.000 0.000 0.000 0.000 0.000 0.000 0.000 0.000 0.000 0.000 0.000 0.000 0.000 0.000 0.000 0.000 0.000 0.000 0.000 0.000 0.000 0.000 0.000 0.000 0.000 0.000 0.000 0.000 0.000 0.000 0.000 0.050 0.100 0.150 0.200 0.250 0.300 0.350 0.400 0.450 0.500 0.550 0.600 0.650 0.700 0.750 0.800 0.850 0.900 0.950 1.000 0.000 0.000 0.000 0.000 0.000 0.000 0.000 0.000 0.000 0.000 0.000 0.000 0.000 0.000 0.000 0.000 0.000 0.000 0.000 0.000"/><feFuncB type="table" tableValues="0.000 0.014 0.028 0.042 0.056 0.069 0.083 0.097 0.111 0.125 0.139 0.153 0.167 0.181 0.194 0.208 0.222 0.236 0.250 0.264 0.278 0.292 0.306 0.319 0.333 0.347 0.361 0.375 0.389 0.403 0.417 0.431 0.444 0.458 0.472 0.486 0.500 0.514 0.528 0.542 0.556 0.569 0.583 0.597 0.611 0.625 0.639 0.653 0.667 0.681 0.694 0.708 0.722 0.736 0.750 0.764 0.778 0.792 0.806 0.819 0.833 0.847 0.861 0.875 0.889 0.903 0.917 0.931 0.944 0.958 0.972 0.986 1.000 1.000 1.000 1.000 1.000 1.000 1.000 1.000 1.000 1.000 1.000 1.000 1.000 1.000 1.000 1.000 1.000 1.000 1.000 1.000 1.000 1.000 1.000 0.998 0.995 0.993 0.990 0.988 0.985 0.983 0.980 0.931 0.882 0.833 0.784 0.735 0.686 0.637 0.588 0.544 0.500 0.456 0.412 0.368 0.324 0.279 0.235 0.212 0.188 0.165 0.141 0.118 0.094 0.071 0.047 0.024 0.000 0.000 0.000 0.000 0.000 0.000 0.000 0.000 0.000 0.000 0.000 0.000 0.000 0.000 0.000 0.000 0.000 0.000 0.000 0.000 0.000 0.000 0.000 0.000 0.000 0.000 0.000 0.000 0.000 0.000 0.000 0.000 0.000 0.000 0.000 0.000 0.000 0.000 0.000 0.000 0.000 0.000 0.000 0.000 0.000 0.000 0.000 0.000 0.000 0.000 0.000 0.000 0.000 0.000 0.000 0.000 0.000 0.000 0.000 0.000 0.000 0.000 0.000 0.000 0.000 0.000 0.000 0.000 0.000 0.000 0.000 0.000 0.000 0.000 0.000 0.000 0.000 0.000 0.000 0.000 0.000 0.000 0.000 0.000 0.000 0.000 0.000 0.000 0.000 0.000 0.000 0.000 0.000 0.050 0.100 0.150 0.200 0.250 0.300 0.350 0.400 0.450 0.500 0.550 0.600 0.650 0.700 0.750 0.800 0.850 0.900 0.950 1.000 1.000 0.974 0.948 0.921 0.895 0.869 0.843 0.817 0.790 0.764 0.738 0.712 0.685 0.659 0.633 0.607 0.581 0.554 0.528 0.502"/></feComponentTransfer>
</filter>
<clipPath id="cir4"><rect x="718.2" y="1888.1" width="200.0" height="200.0"/></clipPath>
<filter id="fsh4" filterUnits="userSpaceOnUse" x="955.5" y="1888.1" width="200.0" height="200.0" color-interpolation-filters="sRGB">
<feGaussianBlur in="SourceGraphic" stdDeviation="9" result="a"/>
<feTurbulence type="fractalNoise" baseFrequency="0.085 0.07" numOctaves="2" seed="21" result="t"/>
<feColorMatrix in="t" type="matrix" values="1 0 0 0 0 1 0 0 0 0 1 0 0 0 0 0 0 0 0 1" result="n"/>
<feComposite in="n" in2="a" operator="arithmetic" k1="1.9" k2="0" k3="-0.95" k4="0.5" result="m"/>
<feColorMatrix in="m" type="matrix" values="1 0 0 0 0 1 0 0 0 0 1 0 0 0 0 0 0 0 0 1" result="m2"/>
<feComponentTransfer in="m2"><feFuncR type="table" tableValues="0 0 1 1 0.5"/><feFuncG type="table" tableValues="0 0 1 0 0"/><feFuncB type="table" tableValues="0.3 1 1 0 0"/></feComponentTransfer>
</filter>
<clipPath id="csh4"><rect x="955.5" y="1888.1" width="200.0" height="200.0"/></clipPath>
<filter id="sblur" x="-5%" y="-5%" width="110%" height="110%"><feGaussianBlur stdDeviation="0.9"/></filter>
<linearGradient id="ircb" x1="0" x2="1" y1="0" y2="0"><stop offset="0.0000" stop-color="rgb(128,0,128)"/><stop offset="0.0723" stop-color="rgb(253,0,253)"/><stop offset="0.0738" stop-color="rgb(255,50,255)"/><stop offset="0.0769" stop-color="rgb(255,255,255)"/><stop offset="0.1154" stop-color="rgb(127,127,127)"/><stop offset="0.1538" stop-color="rgb(0,0,0)"/><stop offset="0.1923" stop-color="rgb(90,0,0)"/><stop offset="0.2308" stop-color="rgb(170,0,0)"/><stop offset="0.2769" stop-color="rgb(255,0,0)"/><stop offset="0.3231" stop-color="rgb(255,128,0)"/><stop offset="0.3615" stop-color="rgb(255,220,0)"/><stop offset="0.3846" stop-color="rgb(255,255,0)"/><stop offset="0.4231" stop-color="rgb(130,255,0)"/><stop offset="0.4615" stop-color="rgb(20,240,0)"/><stop offset="0.5077" stop-color="rgb(0,185,0)"/><stop offset="0.5462" stop-color="rgb(0,120,60)"/><stop offset="0.5769" stop-color="rgb(0,50,150)"/><stop offset="0.6077" stop-color="rgb(0,0,250)"/><stop offset="0.6385" stop-color="rgb(0,60,255)"/><stop offset="0.6769" stop-color="rgb(0,160,255)"/><stop offset="0.7154" stop-color="rgb(0,250,255)"/><stop offset="0.7208" stop-color="rgb(153,255,255)"/><stop offset="0.7246" stop-color="rgb(253,253,253)"/><stop offset="0.7923" stop-color="rgb(191,191,191)"/><stop offset="0.8615" stop-color="rgb(127,127,127)"/><stop offset="0.9308" stop-color="rgb(63,63,63)"/><stop offset="1.0000" stop-color="rgb(0,0,0)"/></linearGradient>
<linearGradient id="seis" x1="0" x2="1" y1="0" y2="0"><stop offset="0" stop-color="#00004c"/><stop offset="0.25" stop-color="#0000ff"/><stop offset="0.5" stop-color="#ffffff"/><stop offset="0.75" stop-color="#ff0000"/><stop offset="1" stop-color="#800000"/></linearGradient>
</defs>
<rect width="1168" height="2158" fill="#fff"/>
<g opacity="0.999">
<text x="584.00" y="24.90" font-size="21.66" text-anchor="middle" textLength="608.54" lengthAdjust="spacingAndGlyphs">Estimated Max Wind Speed for 01S at 20250719 1300UTC</text>
<text x="132.15" y="103.00" font-size="15.89" text-anchor="middle" textLength="55.54" lengthAdjust="spacingAndGlyphs">IR from</text>
<text x="132.15" y="120.00" font-size="15.89" text-anchor="middle" textLength="77.77" lengthAdjust="spacingAndGlyphs">20250719</text>
<text x="132.15" y="137.70" font-size="15.89" text-anchor="middle" textLength="89.39" lengthAdjust="spacingAndGlyphs">at 1300UTC</text>
<g clip-path="url(#ct0)"><g filter="url(#gt0)">
<rect x="49.40" y="127.40" width="165.50" height="163.80" fill="#2b2b2b"/>
<ellipse cx="99.4" cy="252.4" rx="35" ry="25" fill="#505050"/>
<ellipse cx="94.4" cy="207.4" rx="30" ry="35" fill="#363636"/>
<ellipse cx="164.4" cy="187.4" rx="6" ry="35" fill="#3e3e3e"/>
<ellipse cx="132.4" cy="269.4" rx="63" ry="6" fill="#606060"/>
<ellipse cx="157.4" cy="255.4" rx="22" ry="13" fill="#b4b4b4"/>
<ellipse cx="144.4" cy="259.4" rx="12" ry="10" fill="#c0c0c0"/>
<ellipse cx="179.4" cy="262.4" rx="14" ry="8" fill="#a0a0a0"/>
<ellipse cx="134.4" cy="239.4" rx="16" ry="15" fill="#e6e6e6"/>
</g></g>
<rect x="69.40" y="147.40" width="125.50" height="123.80" fill="none" stroke="#000" stroke-width="1.1"/>
<text x="274.75" y="103.00" font-size="15.89" text-anchor="middle" textLength="55.54" lengthAdjust="spacingAndGlyphs">IR from</text>
<text x="274.75" y="120.00" font-size="15.89" text-anchor="middle" textLength="77.77" lengthAdjust="spacingAndGlyphs">20250719</text>
<text x="274.75" y="137.70" font-size="15.89" text-anchor="middle" textLength="89.39" lengthAdjust="spacingAndGlyphs">at 1000UTC</text>
<g clip-path="url(#ct1)"><g filter="url(#gt1)">
<rect x="192.00" y="127.40" width="165.50" height="163.80" fill="#2d2d2d"/>
<ellipse cx="237.0" cy="247.4" rx="35" ry="28" fill="#555555"/>
<ellipse cx="317.0" cy="182.4" rx="5" ry="35" fill="#464646"/>
<ellipse cx="307.0" cy="265.4" rx="30" ry="8" fill="#b0b0b0"/>
<ellipse cx="322.0" cy="259.4" rx="16" ry="12" fill="#b0b0b0"/>
<ellipse cx="284.0" cy="229.4" rx="7" ry="7" fill="#c0c0c0"/>
<ellipse cx="292.0" cy="248.4" rx="21" ry="19" fill="#dcdcdc"/>
</g></g>
<rect x="212.00" y="147.40" width="125.50" height="123.80" fill="none" stroke="#000" stroke-width="1.1"/>
<text x="417.15" y="103.00" font-size="15.89" text-anchor="middle" textLength="55.54" lengthAdjust="spacingAndGlyphs">IR from</text>
<text x="417.15" y="120.00" font-size="15.89" text-anchor="middle" textLength="77.77" lengthAdjust="spacingAndGlyphs">20250719</text>
<text x="417.15" y="137.70" font-size="15.89" text-anchor="middle" textLength="89.39" lengthAdjust="spacingAndGlyphs">at 0700UTC</text>
<g clip-path="url(#ct2)"><g filter="url(#gt2)">
<rect x="334.40" y="127.40" width="165.50" height="163.80" fill="#2b2b2b"/>
<ellipse cx="369.4" cy="217.4" rx="20" ry="40" fill="#484848"/>
<ellipse cx="379.4" cy="257.4" rx="30" ry="15" fill="#5a5a5a"/>
<ellipse cx="417.4" cy="268.4" rx="63" ry="6" fill="#585858"/>
<ellipse cx="409.4" cy="252.4" rx="11" ry="20" fill="#888888"/>
<ellipse cx="466.4" cy="262.4" rx="16" ry="12" fill="#c8c8c8"/>
<ellipse cx="449.4" cy="227.4" rx="3" ry="3" fill="#d0d0d0"/>
<ellipse cx="432.4" cy="244.4" rx="16" ry="13" fill="#e2e2e2"/>
</g></g>
<rect x="354.40" y="147.40" width="125.50" height="123.80" fill="none" stroke="#000" stroke-width="1.1"/>
<text x="559.55" y="103.00" font-size="15.89" text-anchor="middle" textLength="55.54" lengthAdjust="spacingAndGlyphs">IR from</text>
<text x="559.55" y="120.00" font-size="15.89" text-anchor="middle" textLength="77.77" lengthAdjust="spacingAndGlyphs">20250719</text>
<text x="559.55" y="137.70" font-size="15.89" text-anchor="middle" textLength="89.39" lengthAdjust="spacingAndGlyphs">at 0400UTC</text>
<g clip-path="url(#ct3)"><g filter="url(#gt3)">
<rect x="476.80" y="127.40" width="165.50" height="163.80" fill="#2a2a2a"/>
<ellipse cx="526.8" cy="232.4" rx="35" ry="30" fill="#484848"/>
<ellipse cx="506.8" cy="202.4" rx="8" ry="12" fill="#606060"/>
<ellipse cx="556.8" cy="260.4" rx="60" ry="14" fill="#555555"/>
<ellipse cx="606.8" cy="262.4" rx="16" ry="12" fill="#c8c8c8"/>
<ellipse cx="557.8" cy="242.4" rx="8" ry="11" fill="#f0f0f0"/>
<ellipse cx="576.8" cy="237.4" rx="5" ry="5" fill="#d8d8d8"/>
<ellipse cx="590.8" cy="232.4" rx="7" ry="9" fill="#f0f0f0"/>
</g></g>
<rect x="496.80" y="147.40" width="125.50" height="123.80" fill="none" stroke="#000" stroke-width="1.1"/>
<text x="701.95" y="103.00" font-size="15.89" text-anchor="middle" textLength="55.54" lengthAdjust="spacingAndGlyphs">IR from</text>
<text x="701.95" y="120.00" font-size="15.89" text-anchor="middle" textLength="77.77" lengthAdjust="spacingAndGlyphs">20250719</text>
<text x="701.95" y="137.70" font-size="15.89" text-anchor="middle" textLength="89.39" lengthAdjust="spacingAndGlyphs">at 0100UTC</text>
<g clip-path="url(#ct4)"><g filter="url(#gt4)">
<rect x="619.20" y="127.40" width="165.50" height="163.80" fill="#2c2c2c"/>
<ellipse cx="669.2" cy="232.4" rx="40" ry="35" fill="#4a4a4a"/>
<ellipse cx="699.2" cy="237.4" rx="25" ry="25" fill="#565656"/>
<ellipse cx="689.2" cy="262.4" rx="50" ry="12" fill="#5a5a5a"/>
<ellipse cx="707.2" cy="235.4" rx="3" ry="3" fill="#e0e0e0"/>
<ellipse cx="747.2" cy="257.4" rx="11" ry="12" fill="#e8e8e8"/>
</g></g>
<rect x="639.20" y="147.40" width="125.50" height="123.80" fill="none" stroke="#000" stroke-width="1.1"/>
<text x="935.00" y="49.90" font-size="15.89" text-anchor="middle" textLength="171.59" lengthAdjust="spacingAndGlyphs">Estimated MSW, knots</text>
<clipPath id="cmsw"><rect x="784.5" y="59.5" width="300.0" height="299.9"/></clipPath>
<g clip-path="url(#cmsw)">
<rect x="825.10" y="58.80" width="5.80" height="5.80" fill="#a9a9a9"/>
<rect x="825.10" y="73.50" width="5.80" height="5.80" fill="#a9a9a9"/>
<rect x="825.10" y="88.20" width="5.80" height="5.80" fill="#a9a9a9"/>
<rect x="825.10" y="102.90" width="5.80" height="5.80" fill="#a9a9a9"/>
<rect x="825.10" y="117.60" width="5.80" height="5.80" fill="#a9a9a9"/>
<rect x="825.10" y="132.30" width="5.80" height="5.80" fill="#a9a9a9"/>
<rect x="825.10" y="147.00" width="5.80" height="5.80" fill="#a9a9a9"/>
<rect x="825.10" y="161.70" width="5.80" height="5.80" fill="#a9a9a9"/>
<rect x="825.10" y="176.40" width="5.80" height="5.80" fill="#a9a9a9"/>
<rect x="825.10" y="191.10" width="5.80" height="5.80" fill="#a9a9a9"/>
<rect x="825.10" y="205.80" width="5.80" height="5.80" fill="#a9a9a9"/>
<rect x="825.10" y="220.50" width="5.80" height="5.80" fill="#a9a9a9"/>
<rect x="825.10" y="235.20" width="5.80" height="5.80" fill="#a9a9a9"/>
<rect x="825.10" y="249.90" width="5.80" height="5.80" fill="#a9a9a9"/>
<rect x="825.10" y="264.60" width="5.80" height="5.80" fill="#a9a9a9"/>
<rect x="825.10" y="279.30" width="5.80" height="5.80" fill="#a9a9a9"/>
<rect x="825.10" y="294.00" width="5.80" height="5.80" fill="#a9a9a9"/>
<rect x="825.10" y="308.70" width="5.80" height="5.80" fill="#a9a9a9"/>
<rect x="825.10" y="323.40" width="5.80" height="5.80" fill="#a9a9a9"/>
<rect x="825.10" y="338.10" width="5.80" height="5.80" fill="#a9a9a9"/>
<rect x="825.10" y="352.80" width="5.80" height="5.80" fill="#a9a9a9"/>
<path d="M816.2,359.4 L816.2,353 L818.5,355 L820.5,359.4 Z" fill="#800080"/>
<line x1="815.00" y1="59.50" x2="815.00" y2="359.40" stroke="#000" stroke-width="2"/>
</g>
<rect x="784.50" y="59.50" width="300.00" height="299.90" fill="none" stroke="#000" stroke-width="1.2"/>
<line x1="819.40" y1="359.40" x2="819.40" y2="364.40" stroke="#000" stroke-width="1"/>
<text x="819.40" y="380.80" font-size="14.14" text-anchor="middle" textLength="17.31" lengthAdjust="spacingAndGlyphs">25</text>
<line x1="863.80" y1="359.40" x2="863.80" y2="364.40" stroke="#000" stroke-width="1"/>
<text x="863.80" y="380.80" font-size="14.14" text-anchor="middle" textLength="17.31" lengthAdjust="spacingAndGlyphs">50</text>
<line x1="908.20" y1="359.40" x2="908.20" y2="364.40" stroke="#000" stroke-width="1"/>
<text x="908.20" y="380.80" font-size="14.14" text-anchor="middle" textLength="17.31" lengthAdjust="spacingAndGlyphs">75</text>
<line x1="952.60" y1="359.40" x2="952.60" y2="364.40" stroke="#000" stroke-width="1"/>
<text x="952.60" y="380.80" font-size="14.14" text-anchor="middle" textLength="25.96" lengthAdjust="spacingAndGlyphs">100</text>
<line x1="997.00" y1="359.40" x2="997.00" y2="364.40" stroke="#000" stroke-width="1"/>
<text x="997.00" y="380.80" font-size="14.14" text-anchor="middle" textLength="25.96" lengthAdjust="spacingAndGlyphs">125</text>
<line x1="1041.40" y1="359.40" x2="1041.40" y2="364.40" stroke="#000" stroke-width="1"/>
<text x="1041.40" y="380.80" font-size="14.14" text-anchor="middle" textLength="25.96" lengthAdjust="spacingAndGlyphs">150</text>
<line x1="784.50" y1="359.40" x2="789.50" y2="359.40" stroke="#000" stroke-width="1"/>
<line x1="1079.50" y1="359.40" x2="1084.50" y2="359.40" stroke="#000" stroke-width="1"/>
<text x="1090.00" y="365.85" font-size="14.14" text-anchor="start" textLength="21.63" lengthAdjust="spacingAndGlyphs">0.0</text>
<line x1="784.50" y1="302.22" x2="789.50" y2="302.22" stroke="#000" stroke-width="1"/>
<line x1="1079.50" y1="302.22" x2="1084.50" y2="302.22" stroke="#000" stroke-width="1"/>
<text x="1090.00" y="308.67" font-size="14.14" text-anchor="start" textLength="21.63" lengthAdjust="spacingAndGlyphs">0.2</text>
<line x1="784.50" y1="245.04" x2="789.50" y2="245.04" stroke="#000" stroke-width="1"/>
<line x1="1079.50" y1="245.04" x2="1084.50" y2="245.04" stroke="#000" stroke-width="1"/>
<text x="1090.00" y="251.49" font-size="14.14" text-anchor="start" textLength="21.63" lengthAdjust="spacingAndGlyphs">0.4</text>
<line x1="784.50" y1="187.86" x2="789.50" y2="187.86" stroke="#000" stroke-width="1"/>
<line x1="1079.50" y1="187.86" x2="1084.50" y2="187.86" stroke="#000" stroke-width="1"/>
<text x="1090.00" y="194.31" font-size="14.14" text-anchor="start" textLength="21.63" lengthAdjust="spacingAndGlyphs">0.6</text>
<line x1="784.50" y1="130.68" x2="789.50" y2="130.68" stroke="#000" stroke-width="1"/>
<line x1="1079.50" y1="130.68" x2="1084.50" y2="130.68" stroke="#000" stroke-width="1"/>
<text x="1090.00" y="137.13" font-size="14.14" text-anchor="start" textLength="21.63" lengthAdjust="spacingAndGlyphs">0.8</text>
<line x1="784.50" y1="73.50" x2="789.50" y2="73.50" stroke="#000" stroke-width="1"/>
<line x1="1079.50" y1="73.50" x2="1084.50" y2="73.50" stroke="#000" stroke-width="1"/>
<text x="1090.00" y="79.95" font-size="14.14" text-anchor="start" textLength="21.63" lengthAdjust="spacingAndGlyphs">1.0</text>
<text x="1127.50" y="210.00" font-size="14.45" text-anchor="middle" textLength="91.28" lengthAdjust="spacingAndGlyphs" transform="rotate(-90 1127.50 210.00)">Relative Prob</text>
<line x1="762.00" y1="395.70" x2="794.00" y2="395.70" stroke="#000" stroke-width="2"/>
<text x="806.60" y="401.80" font-size="15.89" text-anchor="start" textLength="129.79" lengthAdjust="spacingAndGlyphs">D-PRINT average</text>
<rect x="967.30" y="393.00" width="5.50" height="5.50" fill="#a9a9a9"/>
<rect x="981.70" y="393.00" width="5.50" height="5.50" fill="#a9a9a9"/>
<rect x="995.70" y="393.00" width="1.00" height="5.50" fill="#d0d0d0"/>
<text x="1008.50" y="401.80" font-size="15.89" text-anchor="start" textLength="94.85" lengthAdjust="spacingAndGlyphs">JTWC official</text>
<text x="584.00" y="441.60" font-size="20.23" text-anchor="middle" textLength="667.69" lengthAdjust="spacingAndGlyphs">D-PRINT SHAP Values for 2026_01S: updated at 20250719 1300 UTC</text>
<clipPath id="cmid"><rect x="82.5" y="453.5" width="1006.0" height="350.0"/></clipPath>
<g clip-path="url(#cmid)" fill="none" stroke-linejoin="round">
<rect x="82.50" y="700.00" width="1006.00" height="6.70" fill="#e5e5e5"/>
<path d="M331.0,703.9 L700.0,703.9 L1089.0,703.6" stroke="#7eeaf2" stroke-width="1.6"/>
<path d="M700,702.6 L900,701.9 L1089,701.6 L1089,705.6 L900,705.4 L700,704.8 Z" fill="#c8e4f0" opacity="0.8"/>
<path d="M331.0,706.3 L420.0,706.2 L520.0,705.8 L620.0,705.5 L700.0,705.4 L800.0,705.0 L860.0,704.4 L922.0,703.2 L990.0,702.9 L1040.0,702.6 L1089.0,702.4" stroke="#f032e6" stroke-width="2.6"/>
<path d="M331.0,701.2 L336.0,700.6 L400.0,700.5 L470.0,700.3 L520.0,700.0 L560.0,699.6 L600.0,700.1 L614.0,700.2 L622.0,699.0 L640.0,698.6 L700.0,698.4 L735.0,698.0 L760.0,698.5 L800.0,698.6 L860.0,698.9 L900.0,698.4 L922.0,698.0 L960.0,698.1 L1000.0,699.0 L1040.0,700.2 L1070.0,700.5 L1089.0,701.2" stroke="#f58231" stroke-width="2.6"/>
<path d="M331.0,715.7 L380.0,715.8 L420.0,715.6 L470.0,715.2 L508.0,714.7 L520.0,715.3 L560.0,714.6 L600.0,714.4 L640.0,715.0 L680.0,715.5 L700.0,715.9 L740.0,716.2 L780.0,716.2 L820.0,715.6 L860.0,715.3 L900.0,716.0 L940.0,717.0 L980.0,716.8 L1020.0,716.3 L1050.0,716.6 L1070.0,716.2 L1089.0,716.8" stroke="#3cb44b" stroke-width="2.8"/>
<path d="M101.2,778.4 L201.4,778.4 L299.9,765.9 L890.9,765.9 L989.4,778.4 L1092.0,778.4" stroke="#000" stroke-width="3.3"/>
<path d="M330.8,770.3 L336.7,768.5 L344.4,768.8 L352.0,771.9 L360.6,772.6 L368.8,771.3 L377.0,772.6 L385.5,770.6 L394.0,767.7 L401.7,773.6 L409.9,772.9 L418.9,769.3 L426.6,766.5 L443.3,766.5 L451.0,769.3 L460.0,769.8 L476.2,768.3 L484.4,771.3 L492.1,773.1 L499.8,775.7 L508.8,776.7 L517.3,771.6 L525.5,768.5 L549.9,774.2 L557.6,771.6 L574.3,771.6 L579.4,768.8 L591.0,767.7 L598.7,772.6 L607.2,772.6 L615.4,767.7 L624.4,767.7 L632.1,766.2 L639.8,764.4 L648.3,766.5 L657.0,764.1 L672.4,754.6 L676.5,758.5 L680.9,757.2 L697.6,758.0 L705.3,755.9 L713.5,757.7 L722.0,763.4 L738.7,761.8 L746.4,758.0 L754.9,761.8 L763.1,759.8 L771.6,758.5 L788.8,762.3 L796.5,765.2 L804.2,771.1 L811.9,771.9 L820.4,767.7 L828.6,768.3 L837.6,767.5 L845.3,768.5 L853.8,774.2 L869.7,771.3 L874.9,772.4 L878.7,771.3 L886.4,773.9 L932.2,772.1 L939.9,771.1 L947.6,775.4 L964.3,779.0 L973.3,776.5 L988.7,769.8 L1005.4,774.4 L1013.9,772.1 L1022.1,774.2 L1029.8,774.4 L1038.8,772.6 L1046.5,772.4 L1063.2,768.5 L1070.9,770.6 L1079.1,771.6 L1089.0,769.1" stroke="#e6194b" stroke-width="2.8"/>
</g>
<rect x="82.50" y="453.50" width="1006.00" height="350.00" fill="none" stroke="#000" stroke-width="1.15"/>
<line x1="77.50" y1="803.46" x2="82.50" y2="803.46" stroke="#000" stroke-width="1"/>
<text x="71.80" y="809.86" font-size="15.89" text-anchor="end" textLength="24.96" lengthAdjust="spacingAndGlyphs">-40</text>
<line x1="78.10" y1="778.46" x2="82.50" y2="778.46" stroke="#000" stroke-width="1"/>
<line x1="77.50" y1="753.46" x2="82.50" y2="753.46" stroke="#000" stroke-width="1"/>
<text x="71.80" y="759.86" font-size="15.89" text-anchor="end" textLength="24.96" lengthAdjust="spacingAndGlyphs">-20</text>
<line x1="78.10" y1="728.46" x2="82.50" y2="728.46" stroke="#000" stroke-width="1"/>
<line x1="77.50" y1="703.46" x2="82.50" y2="703.46" stroke="#000" stroke-width="1"/>
<text x="71.80" y="709.86" font-size="15.89" text-anchor="end">0</text>
<line x1="78.10" y1="678.46" x2="82.50" y2="678.46" stroke="#000" stroke-width="1"/>
<line x1="77.50" y1="653.46" x2="82.50" y2="653.46" stroke="#000" stroke-width="1"/>
<text x="71.80" y="659.86" font-size="15.89" text-anchor="end" textLength="19.44" lengthAdjust="spacingAndGlyphs">20</text>
<line x1="78.10" y1="628.46" x2="82.50" y2="628.46" stroke="#000" stroke-width="1"/>
<line x1="77.50" y1="603.46" x2="82.50" y2="603.46" stroke="#000" stroke-width="1"/>
<text x="71.80" y="609.86" font-size="15.89" text-anchor="end" textLength="19.44" lengthAdjust="spacingAndGlyphs">40</text>
<line x1="78.10" y1="578.46" x2="82.50" y2="578.46" stroke="#000" stroke-width="1"/>
<line x1="77.50" y1="553.46" x2="82.50" y2="553.46" stroke="#000" stroke-width="1"/>
<text x="71.80" y="559.86" font-size="15.89" text-anchor="end" textLength="19.44" lengthAdjust="spacingAndGlyphs">60</text>
<line x1="78.10" y1="528.46" x2="82.50" y2="528.46" stroke="#000" stroke-width="1"/>
<line x1="77.50" y1="503.46" x2="82.50" y2="503.46" stroke="#000" stroke-width="1"/>
<text x="71.80" y="509.86" font-size="15.89" text-anchor="end" textLength="19.44" lengthAdjust="spacingAndGlyphs">80</text>
<line x1="78.10" y1="478.46" x2="82.50" y2="478.46" stroke="#000" stroke-width="1"/>
<line x1="77.50" y1="453.46" x2="82.50" y2="453.46" stroke="#000" stroke-width="1"/>
<text x="71.80" y="459.86" font-size="15.89" text-anchor="end" textLength="29.16" lengthAdjust="spacingAndGlyphs">100</text>
<line x1="1088.50" y1="803.46" x2="1093.50" y2="803.46" stroke="#000" stroke-width="1"/>
<text x="1097.70" y="809.86" font-size="15.89" text-anchor="start" textLength="19.44" lengthAdjust="spacingAndGlyphs">20</text>
<line x1="1088.50" y1="778.46" x2="1092.90" y2="778.46" stroke="#000" stroke-width="1"/>
<line x1="1088.50" y1="753.46" x2="1093.50" y2="753.46" stroke="#000" stroke-width="1"/>
<text x="1097.70" y="759.86" font-size="15.89" text-anchor="start" textLength="19.44" lengthAdjust="spacingAndGlyphs">40</text>
<line x1="1088.50" y1="728.46" x2="1092.90" y2="728.46" stroke="#000" stroke-width="1"/>
<line x1="1088.50" y1="703.46" x2="1093.50" y2="703.46" stroke="#000" stroke-width="1"/>
<text x="1097.70" y="709.86" font-size="15.89" text-anchor="start" textLength="19.44" lengthAdjust="spacingAndGlyphs">60</text>
<line x1="1088.50" y1="678.46" x2="1092.90" y2="678.46" stroke="#000" stroke-width="1"/>
<line x1="1088.50" y1="653.46" x2="1093.50" y2="653.46" stroke="#000" stroke-width="1"/>
<text x="1097.70" y="659.86" font-size="15.89" text-anchor="start" textLength="19.44" lengthAdjust="spacingAndGlyphs">80</text>
<line x1="1088.50" y1="628.46" x2="1092.90" y2="628.46" stroke="#000" stroke-width="1"/>
<line x1="1088.50" y1="603.46" x2="1093.50" y2="603.46" stroke="#000" stroke-width="1"/>
<text x="1097.70" y="609.86" font-size="15.89" text-anchor="start" textLength="29.16" lengthAdjust="spacingAndGlyphs">100</text>
<line x1="1088.50" y1="578.46" x2="1092.90" y2="578.46" stroke="#000" stroke-width="1"/>
<line x1="1088.50" y1="553.46" x2="1093.50" y2="553.46" stroke="#000" stroke-width="1"/>
<text x="1097.70" y="559.86" font-size="15.89" text-anchor="start" textLength="29.16" lengthAdjust="spacingAndGlyphs">120</text>
<line x1="1088.50" y1="528.46" x2="1092.90" y2="528.46" stroke="#000" stroke-width="1"/>
<line x1="1088.50" y1="503.46" x2="1093.50" y2="503.46" stroke="#000" stroke-width="1"/>
<text x="1097.70" y="509.86" font-size="15.89" text-anchor="start" textLength="29.16" lengthAdjust="spacingAndGlyphs">140</text>
<line x1="1088.50" y1="478.46" x2="1092.90" y2="478.46" stroke="#000" stroke-width="1"/>
<line x1="1088.50" y1="453.46" x2="1093.50" y2="453.46" stroke="#000" stroke-width="1"/>
<text x="1097.70" y="459.86" font-size="15.89" text-anchor="start" textLength="29.16" lengthAdjust="spacingAndGlyphs">160</text>
<line x1="102.90" y1="803.50" x2="102.90" y2="806.70" stroke="#000" stroke-width="1"/>
<line x1="201.40" y1="803.50" x2="201.40" y2="806.70" stroke="#000" stroke-width="1"/>
<line x1="299.90" y1="803.50" x2="299.90" y2="806.70" stroke="#000" stroke-width="1"/>
<line x1="398.40" y1="803.50" x2="398.40" y2="808.50" stroke="#000" stroke-width="1"/>
<line x1="496.90" y1="803.50" x2="496.90" y2="806.70" stroke="#000" stroke-width="1"/>
<line x1="595.40" y1="803.50" x2="595.40" y2="806.70" stroke="#000" stroke-width="1"/>
<line x1="693.90" y1="803.50" x2="693.90" y2="806.70" stroke="#000" stroke-width="1"/>
<line x1="792.40" y1="803.50" x2="792.40" y2="808.50" stroke="#000" stroke-width="1"/>
<line x1="890.90" y1="803.50" x2="890.90" y2="806.70" stroke="#000" stroke-width="1"/>
<line x1="989.40" y1="803.50" x2="989.40" y2="806.70" stroke="#000" stroke-width="1"/>
<line x1="1087.90" y1="803.50" x2="1087.90" y2="806.70" stroke="#000" stroke-width="1"/>
<text x="398.20" y="825.80" font-size="15.89" text-anchor="middle" textLength="44.03" lengthAdjust="spacingAndGlyphs">07/17</text>
<text x="792.00" y="825.80" font-size="15.89" text-anchor="middle" textLength="44.03" lengthAdjust="spacingAndGlyphs">07/18</text>
<text x="584.20" y="845.70" font-size="15.89" text-anchor="middle" textLength="38.89" lengthAdjust="spacingAndGlyphs">2025</text>
<text x="32.90" y="630.00" font-size="16.61" text-anchor="middle" textLength="133.00" lengthAdjust="spacingAndGlyphs" transform="rotate(-90 32.90 630.00)">SHAP Value [kts]</text>
<text x="1143.60" y="629.50" font-size="16.59" text-anchor="middle" textLength="284.77" lengthAdjust="spacingAndGlyphs" transform="rotate(-90 1143.60 629.50)">Working Best Track TC Intensity [kt]</text>
<text x="211.00" y="865.60" font-size="15.89" text-anchor="start" textLength="100.56" lengthAdjust="spacingAndGlyphs">SHAP values:</text>
<line x1="341.00" y1="859.50" x2="374.70" y2="859.50" stroke="#e6194b" stroke-width="3.0"/>
<text x="386.60" y="865.60" font-size="15.89" text-anchor="start" textLength="15.12" lengthAdjust="spacingAndGlyphs">IR</text>
<line x1="430.50" y1="859.50" x2="463.00" y2="859.50" stroke="#46f0f0" stroke-width="3.0"/>
<text x="474.00" y="865.60" font-size="15.89" text-anchor="start" textLength="54.36" lengthAdjust="spacingAndGlyphs">History</text>
<line x1="557.90" y1="859.50" x2="590.80" y2="859.50" stroke="#3cb44b" stroke-width="3.0"/>
<text x="602.00" y="865.60" font-size="15.89" text-anchor="start" textLength="59.49" lengthAdjust="spacingAndGlyphs">Position</text>
<line x1="691.30" y1="859.50" x2="723.60" y2="859.50" stroke="#f032e6" stroke-width="3.0"/>
<text x="735.00" y="865.60" font-size="15.89" text-anchor="start" textLength="97.57" lengthAdjust="spacingAndGlyphs">Environment</text>
<line x1="862.30" y1="859.50" x2="894.70" y2="859.50" stroke="#f58231" stroke-width="3.0"/>
<text x="906.00" y="865.60" font-size="15.89" text-anchor="start" textLength="93.58" lengthAdjust="spacingAndGlyphs">GFS Thermo</text>
<line x1="516.40" y1="882.20" x2="549.80" y2="882.20" stroke="#000" stroke-width="3.4"/>
<text x="560.30" y="887.80" font-size="15.89" text-anchor="start" textLength="90.47" lengthAdjust="spacingAndGlyphs">TC Intensity</text>
<text x="333.80" y="919.50" font-size="13.72" text-anchor="middle" textLength="324.81" lengthAdjust="spacingAndGlyphs">Shap values for 2026_01S at 20250719 1300UTC</text>
<rect x="67.80" y="1101.40" width="400.10" height="103.80" fill="#f4f4f4"/>
<rect x="67.80" y="1378.20" width="400.10" height="276.80" fill="#f4f4f4"/>
<line x1="67.80" y1="945.70" x2="467.90" y2="945.70" stroke="#efefef" stroke-width="0.8" stroke-dasharray="1 1.6"/>
<line x1="67.80" y1="963.00" x2="467.90" y2="963.00" stroke="#e9e9e9" stroke-width="1"/>
<line x1="67.80" y1="980.30" x2="467.90" y2="980.30" stroke="#efefef" stroke-width="0.8" stroke-dasharray="1 1.6"/>
<line x1="67.80" y1="997.60" x2="467.90" y2="997.60" stroke="#e9e9e9" stroke-width="1"/>
<line x1="67.80" y1="1014.90" x2="467.90" y2="1014.90" stroke="#efefef" stroke-width="0.8" stroke-dasharray="1 1.6"/>
<line x1="67.80" y1="1032.20" x2="467.90" y2="1032.20" stroke="#e9e9e9" stroke-width="1"/>
<line x1="67.80" y1="1049.50" x2="467.90" y2="1049.50" stroke="#efefef" stroke-width="0.8" stroke-dasharray="1 1.6"/>
<line x1="67.80" y1="1066.80" x2="467.90" y2="1066.80" stroke="#e9e9e9" stroke-width="1"/>
<line x1="67.80" y1="1084.10" x2="467.90" y2="1084.10" stroke="#efefef" stroke-width="0.8" stroke-dasharray="1 1.6"/>
<line x1="67.80" y1="1101.40" x2="467.90" y2="1101.40" stroke="#e9e9e9" stroke-width="1"/>
<line x1="67.80" y1="1118.70" x2="467.90" y2="1118.70" stroke="#efefef" stroke-width="0.8" stroke-dasharray="1 1.6"/>
<line x1="67.80" y1="1136.00" x2="467.90" y2="1136.00" stroke="#e9e9e9" stroke-width="1"/>
<line x1="67.80" y1="1153.30" x2="467.90" y2="1153.30" stroke="#efefef" stroke-width="0.8" stroke-dasharray="1 1.6"/>
<line x1="67.80" y1="1170.60" x2="467.90" y2="1170.60" stroke="#e9e9e9" stroke-width="1"/>
<line x1="67.80" y1="1187.90" x2="467.90" y2="1187.90" stroke="#efefef" stroke-width="0.8" stroke-dasharray="1 1.6"/>
<line x1="67.80" y1="1205.20" x2="467.90" y2="1205.20" stroke="#e9e9e9" stroke-width="1"/>
<line x1="67.80" y1="1222.50" x2="467.90" y2="1222.50" stroke="#efefef" stroke-width="0.8" stroke-dasharray="1 1.6"/>
<line x1="67.80" y1="1239.80" x2="467.90" y2="1239.80" stroke="#e9e9e9" stroke-width="1"/>
<line x1="67.80" y1="1257.10" x2="467.90" y2="1257.10" stroke="#efefef" stroke-width="0.8" stroke-dasharray="1 1.6"/>
<line x1="67.80" y1="1274.40" x2="467.90" y2="1274.40" stroke="#e9e9e9" stroke-width="1"/>
<line x1="67.80" y1="1291.70" x2="467.90" y2="1291.70" stroke="#efefef" stroke-width="0.8" stroke-dasharray="1 1.6"/>
<line x1="67.80" y1="1309.00" x2="467.90" y2="1309.00" stroke="#e9e9e9" stroke-width="1"/>
<line x1="67.80" y1="1326.30" x2="467.90" y2="1326.30" stroke="#efefef" stroke-width="0.8" stroke-dasharray="1 1.6"/>
<line x1="67.80" y1="1343.60" x2="467.90" y2="1343.60" stroke="#e9e9e9" stroke-width="1"/>
<line x1="67.80" y1="1360.90" x2="467.90" y2="1360.90" stroke="#efefef" stroke-width="0.8" stroke-dasharray="1 1.6"/>
<line x1="67.80" y1="1378.20" x2="467.90" y2="1378.20" stroke="#e9e9e9" stroke-width="1"/>
<line x1="67.80" y1="1395.50" x2="467.90" y2="1395.50" stroke="#efefef" stroke-width="0.8" stroke-dasharray="1 1.6"/>
<line x1="67.80" y1="1412.80" x2="467.90" y2="1412.80" stroke="#e9e9e9" stroke-width="1"/>
<line x1="67.80" y1="1430.10" x2="467.90" y2="1430.10" stroke="#efefef" stroke-width="0.8" stroke-dasharray="1 1.6"/>
<line x1="67.80" y1="1447.40" x2="467.90" y2="1447.40" stroke="#e9e9e9" stroke-width="1"/>
<line x1="67.80" y1="1464.70" x2="467.90" y2="1464.70" stroke="#efefef" stroke-width="0.8" stroke-dasharray="1 1.6"/>
<line x1="67.80" y1="1482.00" x2="467.90" y2="1482.00" stroke="#e9e9e9" stroke-width="1"/>
<line x1="67.80" y1="1499.30" x2="467.90" y2="1499.30" stroke="#efefef" stroke-width="0.8" stroke-dasharray="1 1.6"/>
<line x1="67.80" y1="1516.60" x2="467.90" y2="1516.60" stroke="#e9e9e9" stroke-width="1"/>
<line x1="67.80" y1="1533.90" x2="467.90" y2="1533.90" stroke="#efefef" stroke-width="0.8" stroke-dasharray="1 1.6"/>
<line x1="67.80" y1="1551.20" x2="467.90" y2="1551.20" stroke="#e9e9e9" stroke-width="1"/>
<line x1="67.80" y1="1568.50" x2="467.90" y2="1568.50" stroke="#efefef" stroke-width="0.8" stroke-dasharray="1 1.6"/>
<line x1="67.80" y1="1585.80" x2="467.90" y2="1585.80" stroke="#e9e9e9" stroke-width="1"/>
<line x1="67.80" y1="1603.10" x2="467.90" y2="1603.10" stroke="#efefef" stroke-width="0.8" stroke-dasharray="1 1.6"/>
<line x1="67.80" y1="1620.40" x2="467.90" y2="1620.40" stroke="#e9e9e9" stroke-width="1"/>
<line x1="67.80" y1="1637.70" x2="467.90" y2="1637.70" stroke="#efefef" stroke-width="0.8" stroke-dasharray="1 1.6"/>
<line x1="67.80" y1="1655.00" x2="467.90" y2="1655.00" stroke="#e9e9e9" stroke-width="1"/>
<line x1="67.80" y1="1672.30" x2="467.90" y2="1672.30" stroke="#efefef" stroke-width="0.8" stroke-dasharray="1 1.6"/>
<line x1="67.80" y1="1689.60" x2="467.90" y2="1689.60" stroke="#e9e9e9" stroke-width="1"/>
<line x1="67.80" y1="1706.90" x2="467.90" y2="1706.90" stroke="#efefef" stroke-width="0.8" stroke-dasharray="1 1.6"/>
<line x1="67.80" y1="1724.20" x2="467.90" y2="1724.20" stroke="#e9e9e9" stroke-width="1"/>
<line x1="67.80" y1="1741.50" x2="467.90" y2="1741.50" stroke="#efefef" stroke-width="0.8" stroke-dasharray="1 1.6"/>
<line x1="67.80" y1="1758.80" x2="467.90" y2="1758.80" stroke="#e9e9e9" stroke-width="1"/>
<line x1="67.80" y1="1776.10" x2="467.90" y2="1776.10" stroke="#efefef" stroke-width="0.8" stroke-dasharray="1 1.6"/>
<line x1="67.80" y1="1793.40" x2="467.90" y2="1793.40" stroke="#e9e9e9" stroke-width="1"/>
<line x1="67.80" y1="1810.70" x2="467.90" y2="1810.70" stroke="#efefef" stroke-width="0.8" stroke-dasharray="1 1.6"/>
<line x1="67.80" y1="1828.00" x2="467.90" y2="1828.00" stroke="#e9e9e9" stroke-width="1"/>
<line x1="67.80" y1="1845.30" x2="467.90" y2="1845.30" stroke="#efefef" stroke-width="0.8" stroke-dasharray="1 1.6"/>
<line x1="67.80" y1="1862.60" x2="467.90" y2="1862.60" stroke="#e9e9e9" stroke-width="1"/>
<line x1="67.80" y1="1879.90" x2="467.90" y2="1879.90" stroke="#efefef" stroke-width="0.8" stroke-dasharray="1 1.6"/>
<line x1="67.80" y1="1897.20" x2="467.90" y2="1897.20" stroke="#e9e9e9" stroke-width="1"/>
<line x1="67.80" y1="1914.50" x2="467.90" y2="1914.50" stroke="#efefef" stroke-width="0.8" stroke-dasharray="1 1.6"/>
<line x1="67.80" y1="1931.80" x2="467.90" y2="1931.80" stroke="#e9e9e9" stroke-width="1"/>
<line x1="67.80" y1="1949.10" x2="467.90" y2="1949.10" stroke="#efefef" stroke-width="0.8" stroke-dasharray="1 1.6"/>
<line x1="67.80" y1="1966.40" x2="467.90" y2="1966.40" stroke="#e9e9e9" stroke-width="1"/>
<line x1="67.80" y1="1983.70" x2="467.90" y2="1983.70" stroke="#efefef" stroke-width="0.8" stroke-dasharray="1 1.6"/>
<line x1="67.80" y1="2001.00" x2="467.90" y2="2001.00" stroke="#e9e9e9" stroke-width="1"/>
<line x1="67.80" y1="2018.30" x2="467.90" y2="2018.30" stroke="#efefef" stroke-width="0.8" stroke-dasharray="1 1.6"/>
<line x1="422.70" y1="928.40" x2="422.70" y2="2035.60" stroke="#8c8c8c" stroke-width="1.1"/>
<circle cx="281.4" cy="945.7" r="3.5" fill="#f5054f"/>
<circle cx="434.3" cy="980.3" r="3.5" fill="#d6009a"/>
<circle cx="345.9" cy="1014.9" r="3.5" fill="#0a8af5"/>
<circle cx="414.4" cy="1049.5" r="3.5" fill="#e8007c"/>
<circle cx="86.1" cy="1084.1" r="3.5" fill="#0a84f5"/>
<circle cx="419.7" cy="1118.7" r="3.5" fill="#0a8af5"/>
<circle cx="428.4" cy="1153.3" r="3.5" fill="#f5054f"/>
<circle cx="422.6" cy="1187.9" r="3.5" fill="#0a8af5"/>
<circle cx="405.7" cy="1222.5" r="3.5" fill="#8a3fc8"/>
<circle cx="424.9" cy="1257.1" r="3.5" fill="#8a3fc8"/>
<circle cx="374.9" cy="1291.7" r="3.5" fill="#0a8af5"/>
<circle cx="406.3" cy="1326.3" r="3.5" fill="#8040c8"/>
<circle cx="423.2" cy="1360.9" r="3.5" fill="#4a62d8"/>
<circle cx="423.2" cy="1395.5" r="3.5" fill="#0a8af5"/>
<circle cx="422.6" cy="1430.1" r="3.5" fill="#f0085c"/>
<circle cx="419.1" cy="1464.7" r="3.5" fill="#0a8af5"/>
<circle cx="422.6" cy="1499.3" r="3.5" fill="#7a48cc"/>
<circle cx="397.0" cy="1533.9" r="3.5" fill="#b010a0"/>
<circle cx="449.4" cy="1568.5" r="3.5" fill="#0a8af5"/>
<circle cx="417.9" cy="1603.1" r="3.5" fill="#a020b0"/>
<circle cx="425.5" cy="1637.7" r="3.5" fill="#0a8af5"/>
<circle cx="412.7" cy="1672.3" r="3.5" fill="#0a8af5"/>
<circle cx="419.7" cy="1706.9" r="3.5" fill="#d000a0"/>
<circle cx="438.3" cy="1741.5" r="3.5" fill="#f5054f"/>
<circle cx="434.2" cy="1776.1" r="3.5" fill="#b010a8"/>
<circle cx="417.3" cy="1810.7" r="3.5" fill="#0a8af5"/>
<circle cx="421.4" cy="1845.3" r="3.5" fill="#0a8af5"/>
<circle cx="426.7" cy="1879.9" r="3.5" fill="#0a8af5"/>
<circle cx="419.7" cy="1914.5" r="3.5" fill="#f8105a"/>
<circle cx="427.8" cy="1949.1" r="3.5" fill="#0a8af5"/>
<circle cx="428.4" cy="1983.7" r="3.5" fill="#0a8af5"/>
<circle cx="417.3" cy="2018.3" r="3.5" fill="#0a8af5"/>
<text x="464.40" y="945.40" font-size="9.39" text-anchor="end" textLength="108.40" lengthAdjust="spacingAndGlyphs" fill="#262626">Satellite SHAP=-33.8kts</text>
<text x="464.40" y="1118.40" font-size="9.39" text-anchor="end" textLength="94.54" lengthAdjust="spacingAndGlyphs" fill="#262626">History SHAP=0.2kts</text>
<text x="464.40" y="1222.20" font-size="9.39" text-anchor="end" textLength="103.87" lengthAdjust="spacingAndGlyphs" fill="#262626">Location SHAP=-4.8kts</text>
<text x="464.40" y="1395.20" font-size="9.39" text-anchor="end" textLength="131.38" lengthAdjust="spacingAndGlyphs" fill="#262626">Environmental SHAP=-0.2kts</text>
<text x="464.40" y="1672.00" font-size="9.39" text-anchor="end" textLength="121.11" lengthAdjust="spacingAndGlyphs" fill="#262626">TC Dynamics SHAP=1.0kts</text>
<line x1="67.80" y1="1101.40" x2="467.90" y2="1101.40" stroke="#262626" stroke-width="1.5"/>
<line x1="67.80" y1="1205.20" x2="467.90" y2="1205.20" stroke="#262626" stroke-width="1.5"/>
<line x1="67.80" y1="1378.20" x2="467.90" y2="1378.20" stroke="#262626" stroke-width="1.5"/>
<line x1="67.80" y1="1655.00" x2="467.90" y2="1655.00" stroke="#262626" stroke-width="1.5"/>
<rect x="67.80" y="928.40" width="400.10" height="1107.20" fill="none" stroke="#4d4d4d" stroke-width="1.0"/>
<line x1="65.20" y1="945.70" x2="67.80" y2="945.70" stroke="#333" stroke-width="0.8"/>
<line x1="467.90" y1="945.70" x2="470.50" y2="945.70" stroke="#333" stroke-width="0.8"/>
<text x="62.20" y="948.30" font-size="8.66" text-anchor="end" textLength="39.85" lengthAdjust="spacingAndGlyphs" fill="#262626">0h_old_IR</text>
<text x="472.80" y="944.80" font-size="8.66" text-anchor="start" textLength="58.23" lengthAdjust="spacingAndGlyphs" fill="#262626">0h old IR data</text>
<text x="472.80" y="953.80" font-size="8.66" text-anchor="start" textLength="90.42" lengthAdjust="spacingAndGlyphs" fill="#262626">(128x128 grid points)</text>
<line x1="65.20" y1="980.30" x2="67.80" y2="980.30" stroke="#333" stroke-width="0.8"/>
<line x1="467.90" y1="980.30" x2="470.50" y2="980.30" stroke="#333" stroke-width="0.8"/>
<text x="62.20" y="982.90" font-size="8.66" text-anchor="end" textLength="39.85" lengthAdjust="spacingAndGlyphs" fill="#262626">3h_old_IR</text>
<text x="472.80" y="979.40" font-size="8.66" text-anchor="start" textLength="58.23" lengthAdjust="spacingAndGlyphs" fill="#262626">3h old IR data</text>
<text x="472.80" y="988.40" font-size="8.66" text-anchor="start" textLength="90.42" lengthAdjust="spacingAndGlyphs" fill="#262626">(128x128 grid points)</text>
<line x1="65.20" y1="1014.90" x2="67.80" y2="1014.90" stroke="#333" stroke-width="0.8"/>
<line x1="467.90" y1="1014.90" x2="470.50" y2="1014.90" stroke="#333" stroke-width="0.8"/>
<text x="62.20" y="1017.50" font-size="8.66" text-anchor="end" textLength="39.85" lengthAdjust="spacingAndGlyphs" fill="#262626">6h_old_IR</text>
<text x="472.80" y="1014.00" font-size="8.66" text-anchor="start" textLength="58.23" lengthAdjust="spacingAndGlyphs" fill="#262626">6h old IR data</text>
<text x="472.80" y="1023.00" font-size="8.66" text-anchor="start" textLength="90.42" lengthAdjust="spacingAndGlyphs" fill="#262626">(128x128 grid points)</text>
<line x1="65.20" y1="1049.50" x2="67.80" y2="1049.50" stroke="#333" stroke-width="0.8"/>
<line x1="467.90" y1="1049.50" x2="470.50" y2="1049.50" stroke="#333" stroke-width="0.8"/>
<text x="62.20" y="1052.10" font-size="8.66" text-anchor="end" textLength="39.85" lengthAdjust="spacingAndGlyphs" fill="#262626">9h_old_IR</text>
<text x="472.80" y="1048.60" font-size="8.66" text-anchor="start" textLength="58.23" lengthAdjust="spacingAndGlyphs" fill="#262626">9h old IR data</text>
<text x="472.80" y="1057.60" font-size="8.66" text-anchor="start" textLength="90.42" lengthAdjust="spacingAndGlyphs" fill="#262626">(128x128 grid points)</text>
<line x1="65.20" y1="1084.10" x2="67.80" y2="1084.10" stroke="#333" stroke-width="0.8"/>
<line x1="467.90" y1="1084.10" x2="470.50" y2="1084.10" stroke="#333" stroke-width="0.8"/>
<text x="62.20" y="1086.70" font-size="8.66" text-anchor="end" textLength="45.15" lengthAdjust="spacingAndGlyphs" fill="#262626">12h_old_IR</text>
<text x="472.80" y="1083.20" font-size="8.66" text-anchor="start" textLength="63.53" lengthAdjust="spacingAndGlyphs" fill="#262626">12h old IR data</text>
<text x="472.80" y="1092.20" font-size="8.66" text-anchor="start" textLength="90.42" lengthAdjust="spacingAndGlyphs" fill="#262626">(128x128 grid points)</text>
<line x1="65.20" y1="1118.70" x2="67.80" y2="1118.70" stroke="#333" stroke-width="0.8"/>
<line x1="467.90" y1="1118.70" x2="470.50" y2="1118.70" stroke="#333" stroke-width="0.8"/>
<text x="62.20" y="1121.30" font-size="8.66" text-anchor="end" textLength="21.10" lengthAdjust="spacingAndGlyphs" fill="#262626">DELV</text>
<text x="472.80" y="1121.30" font-size="8.66" text-anchor="start" textLength="115.33" lengthAdjust="spacingAndGlyphs" fill="#262626">-12h to 0h Intensity change</text>
<line x1="65.20" y1="1153.30" x2="67.80" y2="1153.30" stroke="#333" stroke-width="0.8"/>
<line x1="467.90" y1="1153.30" x2="470.50" y2="1153.30" stroke="#333" stroke-width="0.8"/>
<text x="62.20" y="1155.90" font-size="8.66" text-anchor="end" textLength="19.10" lengthAdjust="spacingAndGlyphs" fill="#262626">HIST</text>
<text x="472.80" y="1152.40" font-size="8.66" text-anchor="start" textLength="109.49" lengthAdjust="spacingAndGlyphs" fill="#262626">The # of 6h periods VMAX</text>
<text x="472.80" y="1161.40" font-size="8.66" text-anchor="start" textLength="87.72" lengthAdjust="spacingAndGlyphs" fill="#262626">has been above 20kt</text>
<line x1="65.20" y1="1187.90" x2="67.80" y2="1187.90" stroke="#333" stroke-width="0.8"/>
<line x1="467.90" y1="1187.90" x2="470.50" y2="1187.90" stroke="#333" stroke-width="0.8"/>
<text x="62.20" y="1190.50" font-size="8.66" text-anchor="end" textLength="16.73" lengthAdjust="spacingAndGlyphs" fill="#262626">SPD</text>
<text x="472.80" y="1190.50" font-size="8.66" text-anchor="start" textLength="87.21" lengthAdjust="spacingAndGlyphs" fill="#262626">TC Translation Speed</text>
<line x1="65.20" y1="1222.50" x2="67.80" y2="1222.50" stroke="#333" stroke-width="0.8"/>
<line x1="467.90" y1="1222.50" x2="470.50" y2="1222.50" stroke="#333" stroke-width="0.8"/>
<text x="62.20" y="1225.10" font-size="8.66" text-anchor="end" textLength="26.78" lengthAdjust="spacingAndGlyphs" fill="#262626">sin_lat</text>
<text x="472.80" y="1225.10" font-size="8.66" text-anchor="start" textLength="65.62" lengthAdjust="spacingAndGlyphs" fill="#262626">Sine of Latitude</text>
<line x1="65.20" y1="1257.10" x2="67.80" y2="1257.10" stroke="#333" stroke-width="0.8"/>
<line x1="467.90" y1="1257.10" x2="470.50" y2="1257.10" stroke="#333" stroke-width="0.8"/>
<text x="62.20" y="1259.70" font-size="8.66" text-anchor="end" textLength="30.87" lengthAdjust="spacingAndGlyphs" fill="#262626">cos_lon</text>
<text x="472.80" y="1259.70" font-size="8.66" text-anchor="start" textLength="82.73" lengthAdjust="spacingAndGlyphs" fill="#262626">Cosine of Longitude</text>
<line x1="65.20" y1="1291.70" x2="67.80" y2="1291.70" stroke="#333" stroke-width="0.8"/>
<line x1="467.90" y1="1291.70" x2="470.50" y2="1291.70" stroke="#333" stroke-width="0.8"/>
<text x="62.20" y="1294.30" font-size="8.66" text-anchor="end" textLength="28.79" lengthAdjust="spacingAndGlyphs" fill="#262626">sin_lon</text>
<text x="472.80" y="1294.30" font-size="8.66" text-anchor="start" textLength="72.76" lengthAdjust="spacingAndGlyphs" fill="#262626">Sine of Longitude</text>
<line x1="65.20" y1="1326.30" x2="67.80" y2="1326.30" stroke="#333" stroke-width="0.8"/>
<line x1="467.90" y1="1326.30" x2="470.50" y2="1326.30" stroke="#333" stroke-width="0.8"/>
<text x="62.20" y="1328.90" font-size="8.66" text-anchor="end" textLength="16.14" lengthAdjust="spacingAndGlyphs" fill="#262626">DTL</text>
<text x="472.80" y="1328.90" font-size="8.66" text-anchor="start" textLength="70.39" lengthAdjust="spacingAndGlyphs" fill="#262626">Distance to Land</text>
<line x1="65.20" y1="1360.90" x2="67.80" y2="1360.90" stroke="#333" stroke-width="0.8"/>
<line x1="467.90" y1="1360.90" x2="470.50" y2="1360.90" stroke="#333" stroke-width="0.8"/>
<text x="62.20" y="1363.50" font-size="8.66" text-anchor="end" textLength="58.49" lengthAdjust="spacingAndGlyphs" fill="#262626">sin_local_time</text>
<text x="472.80" y="1360.00" font-size="8.66" text-anchor="start" textLength="81.49" lengthAdjust="spacingAndGlyphs" fill="#262626">Sine of Time of Day</text>
<text x="472.80" y="1369.00" font-size="8.66" text-anchor="start" textLength="75.00" lengthAdjust="spacingAndGlyphs" fill="#262626">(Local Solar Time)</text>
<line x1="65.20" y1="1395.50" x2="67.80" y2="1395.50" stroke="#333" stroke-width="0.8"/>
<line x1="467.90" y1="1395.50" x2="470.50" y2="1395.50" stroke="#333" stroke-width="0.8"/>
<text x="62.20" y="1398.10" font-size="8.66" text-anchor="end" textLength="23.75" lengthAdjust="spacingAndGlyphs" fill="#262626">SHRD</text>
<text x="472.80" y="1398.10" font-size="8.66" text-anchor="start" textLength="135.30" lengthAdjust="spacingAndGlyphs" fill="#262626">850-200hPa shear (200-800 km)</text>
<line x1="65.20" y1="1430.10" x2="67.80" y2="1430.10" stroke="#333" stroke-width="0.8"/>
<line x1="467.90" y1="1430.10" x2="470.50" y2="1430.10" stroke="#333" stroke-width="0.8"/>
<text x="62.20" y="1432.70" font-size="8.66" text-anchor="end" textLength="23.78" lengthAdjust="spacingAndGlyphs" fill="#262626">SHDC</text>
<text x="472.80" y="1429.20" font-size="8.66" text-anchor="start" textLength="96.08" lengthAdjust="spacingAndGlyphs" fill="#262626">850-200hPa shear with</text>
<text x="472.80" y="1438.20" font-size="8.66" text-anchor="start" textLength="115.13" lengthAdjust="spacingAndGlyphs" fill="#262626">vortex removed (0-500 km)</text>
<line x1="65.20" y1="1464.70" x2="67.80" y2="1464.70" stroke="#333" stroke-width="0.8"/>
<line x1="467.90" y1="1464.70" x2="470.50" y2="1464.70" stroke="#333" stroke-width="0.8"/>
<text x="62.20" y="1467.30" font-size="8.66" text-anchor="end" textLength="22.63" lengthAdjust="spacingAndGlyphs" fill="#262626">SHRS</text>
<text x="472.80" y="1467.30" font-size="8.66" text-anchor="start" textLength="135.30" lengthAdjust="spacingAndGlyphs" fill="#262626">850-500hPa shear (200-800 km)</text>
<line x1="65.20" y1="1499.30" x2="67.80" y2="1499.30" stroke="#333" stroke-width="0.8"/>
<line x1="467.90" y1="1499.30" x2="470.50" y2="1499.30" stroke="#333" stroke-width="0.8"/>
<text x="62.20" y="1501.90" font-size="8.66" text-anchor="end" textLength="14.67" lengthAdjust="spacingAndGlyphs" fill="#262626">MPI</text>
<text x="472.80" y="1501.90" font-size="8.66" text-anchor="start" textLength="119.51" lengthAdjust="spacingAndGlyphs" fill="#262626">Maximum potential intensity</text>
<line x1="65.20" y1="1533.90" x2="67.80" y2="1533.90" stroke="#333" stroke-width="0.8"/>
<line x1="467.90" y1="1533.90" x2="470.50" y2="1533.90" stroke="#333" stroke-width="0.8"/>
<text x="62.20" y="1536.50" font-size="8.66" text-anchor="end" textLength="21.45" lengthAdjust="spacingAndGlyphs" fill="#262626">RSST</text>
<text x="472.80" y="1536.50" font-size="8.66" text-anchor="start" textLength="56.10" lengthAdjust="spacingAndGlyphs" fill="#262626">Reynolds SST</text>
<line x1="65.20" y1="1568.50" x2="67.80" y2="1568.50" stroke="#333" stroke-width="0.8"/>
<line x1="467.90" y1="1568.50" x2="470.50" y2="1568.50" stroke="#333" stroke-width="0.8"/>
<text x="62.20" y="1571.10" font-size="8.66" text-anchor="end" textLength="24.45" lengthAdjust="spacingAndGlyphs" fill="#262626">COHC</text>
<text x="472.80" y="1571.10" font-size="8.66" text-anchor="start" textLength="146.52" lengthAdjust="spacingAndGlyphs" fill="#262626">Climatological Ocean Heat Content</text>
<line x1="65.20" y1="1603.10" x2="67.80" y2="1603.10" stroke="#333" stroke-width="0.8"/>
<line x1="467.90" y1="1603.10" x2="470.50" y2="1603.10" stroke="#333" stroke-width="0.8"/>
<text x="62.20" y="1605.70" font-size="8.66" text-anchor="end" textLength="22.83" lengthAdjust="spacingAndGlyphs" fill="#262626">CD26</text>
<text x="472.80" y="1602.20" font-size="8.66" text-anchor="start" textLength="96.61" lengthAdjust="spacingAndGlyphs" fill="#262626">Climatological depth of</text>
<text x="472.80" y="1611.20" font-size="8.66" text-anchor="start" textLength="62.69" lengthAdjust="spacingAndGlyphs" fill="#262626">26° C isotherm</text>
<line x1="65.20" y1="1637.70" x2="67.80" y2="1637.70" stroke="#333" stroke-width="0.8"/>
<line x1="467.90" y1="1637.70" x2="470.50" y2="1637.70" stroke="#333" stroke-width="0.8"/>
<text x="62.20" y="1640.30" font-size="8.66" text-anchor="end" textLength="22.83" lengthAdjust="spacingAndGlyphs" fill="#262626">CD20</text>
<text x="472.80" y="1636.80" font-size="8.66" text-anchor="start" textLength="96.61" lengthAdjust="spacingAndGlyphs" fill="#262626">Climatological depth of</text>
<text x="472.80" y="1645.80" font-size="8.66" text-anchor="start" textLength="62.69" lengthAdjust="spacingAndGlyphs" fill="#262626">20° C isotherm</text>
<line x1="65.20" y1="1672.30" x2="67.80" y2="1672.30" stroke="#333" stroke-width="0.8"/>
<line x1="467.90" y1="1672.30" x2="470.50" y2="1672.30" stroke="#333" stroke-width="0.8"/>
<text x="62.20" y="1674.90" font-size="8.66" text-anchor="end" textLength="20.39" lengthAdjust="spacingAndGlyphs" fill="#262626">DIVC</text>
<text x="472.80" y="1671.40" font-size="8.66" text-anchor="start" textLength="130.61" lengthAdjust="spacingAndGlyphs" fill="#262626">200hPa divergence centered at</text>
<text x="472.80" y="1680.40" font-size="8.66" text-anchor="start" textLength="95.91" lengthAdjust="spacingAndGlyphs" fill="#262626">850hPa vortex location</text>
<line x1="65.20" y1="1706.90" x2="67.80" y2="1706.90" stroke="#333" stroke-width="0.8"/>
<line x1="467.90" y1="1706.90" x2="470.50" y2="1706.90" stroke="#333" stroke-width="0.8"/>
<text x="62.20" y="1709.50" font-size="8.66" text-anchor="end" textLength="21.60" lengthAdjust="spacingAndGlyphs" fill="#262626">V300</text>
<text x="472.80" y="1706.00" font-size="8.66" text-anchor="start" textLength="149.31" lengthAdjust="spacingAndGlyphs" fill="#262626">300hPa tangential wind azimuthally</text>
<text x="472.80" y="1715.00" font-size="8.66" text-anchor="start" textLength="84.54" lengthAdjust="spacingAndGlyphs" fill="#262626">averaged at 500 km</text>
<line x1="65.20" y1="1741.50" x2="67.80" y2="1741.50" stroke="#333" stroke-width="0.8"/>
<line x1="467.90" y1="1741.50" x2="470.50" y2="1741.50" stroke="#333" stroke-width="0.8"/>
<text x="62.20" y="1744.10" font-size="8.66" text-anchor="end" textLength="21.60" lengthAdjust="spacingAndGlyphs" fill="#262626">V500</text>
<text x="472.80" y="1740.60" font-size="8.66" text-anchor="start" textLength="149.31" lengthAdjust="spacingAndGlyphs" fill="#262626">500hPa tangential wind azimuthally</text>
<text x="472.80" y="1749.60" font-size="8.66" text-anchor="start" textLength="84.54" lengthAdjust="spacingAndGlyphs" fill="#262626">averaged at 500 km</text>
<line x1="65.20" y1="1776.10" x2="67.80" y2="1776.10" stroke="#333" stroke-width="0.8"/>
<line x1="467.90" y1="1776.10" x2="470.50" y2="1776.10" stroke="#333" stroke-width="0.8"/>
<text x="62.20" y="1778.70" font-size="8.66" text-anchor="end" textLength="21.60" lengthAdjust="spacingAndGlyphs" fill="#262626">V850</text>
<text x="472.80" y="1775.20" font-size="8.66" text-anchor="start" textLength="149.31" lengthAdjust="spacingAndGlyphs" fill="#262626">850hPa tangential wind azimuthally</text>
<text x="472.80" y="1784.20" font-size="8.66" text-anchor="start" textLength="84.54" lengthAdjust="spacingAndGlyphs" fill="#262626">averaged at 500 km</text>
<line x1="65.20" y1="1810.70" x2="67.80" y2="1810.70" stroke="#333" stroke-width="0.8"/>
<line x1="467.90" y1="1810.70" x2="470.50" y2="1810.70" stroke="#333" stroke-width="0.8"/>
<text x="62.20" y="1813.30" font-size="8.66" text-anchor="end" textLength="21.61" lengthAdjust="spacingAndGlyphs" fill="#262626">Z850</text>
<text x="472.80" y="1813.30" font-size="8.66" text-anchor="start" textLength="121.94" lengthAdjust="spacingAndGlyphs" fill="#262626">850hPa vorticity (0-1000 km)</text>
<line x1="65.20" y1="1845.30" x2="67.80" y2="1845.30" stroke="#333" stroke-width="0.8"/>
<line x1="467.90" y1="1845.30" x2="470.50" y2="1845.30" stroke="#333" stroke-width="0.8"/>
<text x="62.20" y="1847.90" font-size="8.66" text-anchor="end" textLength="22.00" lengthAdjust="spacingAndGlyphs" fill="#262626">U200</text>
<text x="472.80" y="1847.90" font-size="8.66" text-anchor="start" textLength="137.63" lengthAdjust="spacingAndGlyphs" fill="#262626">200hPa zonal wind (200-800 km)</text>
<line x1="65.20" y1="1879.90" x2="67.80" y2="1879.90" stroke="#333" stroke-width="0.8"/>
<line x1="467.90" y1="1879.90" x2="470.50" y2="1879.90" stroke="#333" stroke-width="0.8"/>
<text x="62.20" y="1882.50" font-size="8.66" text-anchor="end" textLength="22.51" lengthAdjust="spacingAndGlyphs" fill="#262626">U20C</text>
<text x="472.80" y="1882.50" font-size="8.66" text-anchor="start" textLength="127.03" lengthAdjust="spacingAndGlyphs" fill="#262626">200hPa zonal wind (0-500 km)</text>
<line x1="65.20" y1="1914.50" x2="67.80" y2="1914.50" stroke="#333" stroke-width="0.8"/>
<line x1="467.90" y1="1914.50" x2="470.50" y2="1914.50" stroke="#333" stroke-width="0.8"/>
<text x="62.20" y="1917.10" font-size="8.66" text-anchor="end" textLength="22.11" lengthAdjust="spacingAndGlyphs" fill="#262626">V20C</text>
<text x="472.80" y="1917.10" font-size="8.66" text-anchor="start" textLength="149.24" lengthAdjust="spacingAndGlyphs" fill="#262626">200hPa meridional wind (0-500 km)</text>
<line x1="65.20" y1="1949.10" x2="67.80" y2="1949.10" stroke="#333" stroke-width="0.8"/>
<line x1="467.90" y1="1949.10" x2="470.50" y2="1949.10" stroke="#333" stroke-width="0.8"/>
<text x="62.20" y="1951.70" font-size="8.66" text-anchor="end" textLength="25.65" lengthAdjust="spacingAndGlyphs" fill="#262626">RHMD</text>
<text x="472.80" y="1948.20" font-size="8.66" text-anchor="start" textLength="123.34" lengthAdjust="spacingAndGlyphs" fill="#262626">700-500hPa relative humidity</text>
<text x="472.80" y="1957.20" font-size="8.66" text-anchor="start" textLength="56.89" lengthAdjust="spacingAndGlyphs" fill="#262626">(200-800 km)</text>
<line x1="65.20" y1="1983.70" x2="67.80" y2="1983.70" stroke="#333" stroke-width="0.8"/>
<line x1="467.90" y1="1983.70" x2="470.50" y2="1983.70" stroke="#333" stroke-width="0.8"/>
<text x="62.20" y="1986.30" font-size="8.66" text-anchor="end" textLength="20.86" lengthAdjust="spacingAndGlyphs" fill="#262626">EPSS</text>
<text x="472.8" y="1981.5" font-size="8.33" fill="#262626" textLength="173" lengthAdjust="spacingAndGlyphs">Avg. Δ <tspan font-style="italic">θ</tspan><tspan font-size="5.8" dy="1.6" font-style="italic">e</tspan><tspan dy="-1.6"> (only +) btwn parcel lifted from</tspan></text>
<text x="472.8" y="1992.0" font-size="8.33" fill="#262626" textLength="167.5" lengthAdjust="spacingAndGlyphs">sfc. and saturated env. <tspan font-style="italic">θ</tspan><tspan font-size="5.8" dy="1.6" font-style="italic">e</tspan><tspan dy="-1.6"> (200-800 km)</tspan></text>
<line x1="65.20" y1="2018.30" x2="67.80" y2="2018.30" stroke="#333" stroke-width="0.8"/>
<line x1="467.90" y1="2018.30" x2="470.50" y2="2018.30" stroke="#333" stroke-width="0.8"/>
<text x="62.20" y="2020.90" font-size="8.66" text-anchor="end" textLength="22.07" lengthAdjust="spacingAndGlyphs" fill="#262626">ENSS</text>
<text x="472.8" y="2016.1" font-size="8.33" fill="#262626" textLength="173" lengthAdjust="spacingAndGlyphs">Avg. Δ <tspan font-style="italic">θ</tspan><tspan font-size="5.8" dy="1.6" font-style="italic">e</tspan><tspan dy="-1.6"> (only -) btwn parcel lifted from</tspan></text>
<text x="472.8" y="2026.6" font-size="8.33" fill="#262626" textLength="167.5" lengthAdjust="spacingAndGlyphs">sfc. and saturated env. <tspan font-style="italic">θ</tspan><tspan font-size="5.8" dy="1.6" font-style="italic">e</tspan><tspan dy="-1.6"> (200-800 km)</tspan></text>
<line x1="96.10" y1="2035.60" x2="96.10" y2="2038.20" stroke="#333" stroke-width="0.8"/>
<text x="96.10" y="2047.40" font-size="8.66" text-anchor="middle" textLength="16.50" lengthAdjust="spacingAndGlyphs" fill="#262626">−20</text>
<line x1="177.75" y1="2035.60" x2="177.75" y2="2038.20" stroke="#333" stroke-width="0.8"/>
<text x="177.75" y="2047.40" font-size="8.66" text-anchor="middle" textLength="16.50" lengthAdjust="spacingAndGlyphs" fill="#262626">−15</text>
<line x1="259.40" y1="2035.60" x2="259.40" y2="2038.20" stroke="#333" stroke-width="0.8"/>
<text x="259.40" y="2047.40" font-size="8.66" text-anchor="middle" textLength="16.50" lengthAdjust="spacingAndGlyphs" fill="#262626">−10</text>
<line x1="341.05" y1="2035.60" x2="341.05" y2="2038.20" stroke="#333" stroke-width="0.8"/>
<text x="341.05" y="2047.40" font-size="8.66" text-anchor="middle" textLength="11.20" lengthAdjust="spacingAndGlyphs" fill="#262626">−5</text>
<line x1="422.70" y1="2035.60" x2="422.70" y2="2038.20" stroke="#333" stroke-width="0.8"/>
<text x="422.70" y="2047.40" font-size="8.66" text-anchor="middle" fill="#262626">0</text>
<text x="267.20" y="2059.40" font-size="11.55" text-anchor="middle" textLength="92.53" lengthAdjust="spacingAndGlyphs" fill="#262626">SHAP Value [kts]</text>
<rect x="29.10" y="2083.30" width="588.00" height="25.20" fill="url(#rb)" stroke="#333" stroke-width="0.8"/>
<line x1="29.10" y1="2108.50" x2="29.10" y2="2111.10" stroke="#333" stroke-width="0.8"/>
<line x1="617.10" y1="2108.50" x2="617.10" y2="2111.10" stroke="#333" stroke-width="0.8"/>
<text x="617.10" y="2078.80" font-size="10.09" text-anchor="end" textLength="66.38" lengthAdjust="spacingAndGlyphs" fill="#262626">Feature Value</text>
<text x="29.00" y="2120.10" font-size="8.66" text-anchor="middle" textLength="16.40" lengthAdjust="spacingAndGlyphs" fill="#262626">Low</text>
<text x="617.00" y="2120.10" font-size="8.66" text-anchor="middle" textLength="19.15" lengthAdjust="spacingAndGlyphs" fill="#262626">High</text>
<text x="29.10" y="2135.30" font-size="9.39" text-anchor="start" textLength="504.98" lengthAdjust="spacingAndGlyphs" fill="#262626">SHAP Value: Amount each feature [listed on Y-axis] contributes to the predicted intensity above or below 60 kts</text>
<line x1="506.25" y1="2137.50" x2="534.08" y2="2137.50" stroke="#262626" stroke-width="0.9"/>
<text x="29.10" y="2149.80" font-size="9.39" text-anchor="start" textLength="481.60" lengthAdjust="spacingAndGlyphs" fill="#262626">Feature Value: The value of the feature [listed on Y-axis] for the given TC compared to the training dataset</text>
<text x="917.70" y="915.30" font-size="12.28" text-anchor="middle" textLength="397.90" lengthAdjust="spacingAndGlyphs" fill="#262626">Comparison of IR SHAP Values for 2026_01S at 20250719 1300UTC</text>
<text x="818.20" y="934.00" font-size="11.55" text-anchor="middle" textLength="79.16" lengthAdjust="spacingAndGlyphs" fill="#262626">0h old IR Data</text>
<g clip-path="url(#cir0)"><g filter="url(#fir0)">
<rect x="693.20" y="913.10" width="250.00" height="250.00" fill="#292929"/>
<ellipse cx="728.2" cy="946.1" rx="38" ry="22" fill="#353535"/>
<ellipse cx="778.2" cy="1033.1" rx="55" ry="45" fill="#2c2c2c"/>
<ellipse cx="828.2" cy="970.1" rx="40" ry="28" fill="#232323"/>
<ellipse cx="900.2" cy="983.1" rx="24" ry="42" fill="#202020"/>
<ellipse cx="898.2" cy="1048.1" rx="24" ry="45" fill="#353535"/>
<ellipse cx="850.2" cy="988.1" rx="7" ry="48" fill="#333333" transform="rotate(20 850.2 988.1)"/>
<ellipse cx="870.2" cy="1018.1" rx="5" ry="40" fill="#373737" transform="rotate(-15 870.2 1018.1)"/>
<ellipse cx="743.2" cy="1053.1" rx="14" ry="22" fill="#272727"/>
<ellipse cx="763.2" cy="1116.1" rx="50" ry="34" fill="#3f3f3f"/>
<ellipse cx="748.2" cy="1116.1" rx="5" ry="13" fill="#4e4e4e" transform="rotate(15 748.2 1116.1)"/>
<ellipse cx="762.2" cy="1128.1" rx="13" ry="10" fill="#4e4e4e"/>
<ellipse cx="740.2" cy="1129.1" rx="10" ry="3.5" fill="#4e4e4e" transform="rotate(-25 740.2 1129.1)"/>
<ellipse cx="748.2" cy="1136.1" rx="24" ry="5" fill="#4e4e4e"/>
<ellipse cx="912.2" cy="1083.1" rx="8" ry="4" fill="#525252"/>
<ellipse cx="915.2" cy="1055.1" rx="4" ry="3" fill="#525252"/>
<ellipse cx="856.2" cy="950.1" rx="2.5" ry="7" fill="#5e5e5e" transform="rotate(15 856.2 950.1)"/>
<polygon points="788.2,1073.1 810.2,1057.1 821.2,1053.1 832.2,1059.1 845.2,1065.1 859.2,1075.1 868.2,1064.1 873.2,1062.1 879.2,1073.1 889.2,1093.1 898.2,1106.1 918.2,1109.1 924.2,1110.1 924.2,1144.1 806.2,1144.1 800.2,1118.1 791.2,1103.1 787.2,1084.1" fill="#858585" stroke="#5a5a5a" stroke-width="6" stroke-linejoin="round"/>
<polygon points="792.8,1079.5 810.4,1057.9 825.8,1057.9 852.2,1078.4 866.5,1089.2 881.9,1093.6 888.5,1110.8 885.2,1132.4 856.6,1130.3 842.3,1140.0 824.7,1129.2 817.0,1113.0 798.3,1099.0" fill="#afafaf" stroke="#959595" stroke-width="6" stroke-linejoin="round"/>
<ellipse cx="858.2" cy="1108.1" rx="17" ry="12" fill="#bababa"/>
<ellipse cx="890.2" cy="1130.1" rx="20" ry="9" fill="#979797"/>
<ellipse cx="906.2" cy="1132.1" rx="9" ry="6" fill="#ababab"/>
<ellipse cx="864.2" cy="1137.1" rx="11" ry="5" fill="#5e5e5e"/>
<ellipse cx="831.2" cy="1088.1" rx="21" ry="20" fill="#cccccc" transform="rotate(30 831.2 1088.1)"/>
<ellipse cx="808.2" cy="1078.1" rx="7" ry="8" fill="#c8c8c8"/>
<ellipse cx="831.2" cy="1088.1" rx="15" ry="14" fill="#d2d2d2" transform="rotate(30 831.2 1088.1)"/>
</g></g>
<rect x="718.20" y="938.10" width="200.00" height="200.00" fill="none" stroke="#555" stroke-width="1.0"/>
<line x1="715.60" y1="969.00" x2="718.20" y2="969.00" stroke="#333" stroke-width="0.8"/>
<line x1="952.90" y1="969.00" x2="955.50" y2="969.00" stroke="#333" stroke-width="0.8"/>
<text x="711.80" y="973.10" font-size="10.11" text-anchor="end" textLength="19.25" lengthAdjust="spacingAndGlyphs" fill="#262626">−12</text>
<line x1="715.60" y1="1000.30" x2="718.20" y2="1000.30" stroke="#333" stroke-width="0.8"/>
<line x1="952.90" y1="1000.30" x2="955.50" y2="1000.30" stroke="#333" stroke-width="0.8"/>
<text x="711.80" y="1004.40" font-size="10.11" text-anchor="end" textLength="19.25" lengthAdjust="spacingAndGlyphs" fill="#262626">−13</text>
<line x1="715.60" y1="1031.60" x2="718.20" y2="1031.60" stroke="#333" stroke-width="0.8"/>
<line x1="952.90" y1="1031.60" x2="955.50" y2="1031.60" stroke="#333" stroke-width="0.8"/>
<text x="711.80" y="1035.70" font-size="10.11" text-anchor="end" textLength="19.25" lengthAdjust="spacingAndGlyphs" fill="#262626">−14</text>
<line x1="715.60" y1="1062.90" x2="718.20" y2="1062.90" stroke="#333" stroke-width="0.8"/>
<line x1="952.90" y1="1062.90" x2="955.50" y2="1062.90" stroke="#333" stroke-width="0.8"/>
<text x="711.80" y="1067.00" font-size="10.11" text-anchor="end" textLength="19.25" lengthAdjust="spacingAndGlyphs" fill="#262626">−15</text>
<line x1="715.60" y1="1094.20" x2="718.20" y2="1094.20" stroke="#333" stroke-width="0.8"/>
<line x1="952.90" y1="1094.20" x2="955.50" y2="1094.20" stroke="#333" stroke-width="0.8"/>
<text x="711.80" y="1098.30" font-size="10.11" text-anchor="end" textLength="19.25" lengthAdjust="spacingAndGlyphs" fill="#262626">−16</text>
<line x1="715.60" y1="1125.50" x2="718.20" y2="1125.50" stroke="#333" stroke-width="0.8"/>
<line x1="952.90" y1="1125.50" x2="955.50" y2="1125.50" stroke="#333" stroke-width="0.8"/>
<text x="711.80" y="1129.60" font-size="10.11" text-anchor="end" textLength="19.25" lengthAdjust="spacingAndGlyphs" fill="#262626">−17</text>
<line x1="732.70" y1="1138.10" x2="732.70" y2="1140.70" stroke="#333" stroke-width="0.8"/>
<line x1="970.00" y1="1138.10" x2="970.00" y2="1140.70" stroke="#333" stroke-width="0.8"/>
<text x="732.70" y="1150.70" font-size="10.11" text-anchor="middle" textLength="12.37" lengthAdjust="spacingAndGlyphs" fill="#262626">79</text>
<line x1="763.10" y1="1138.10" x2="763.10" y2="1140.70" stroke="#333" stroke-width="0.8"/>
<line x1="1000.40" y1="1138.10" x2="1000.40" y2="1140.70" stroke="#333" stroke-width="0.8"/>
<text x="763.10" y="1150.70" font-size="10.11" text-anchor="middle" textLength="12.37" lengthAdjust="spacingAndGlyphs" fill="#262626">80</text>
<line x1="793.50" y1="1138.10" x2="793.50" y2="1140.70" stroke="#333" stroke-width="0.8"/>
<line x1="1030.80" y1="1138.10" x2="1030.80" y2="1140.70" stroke="#333" stroke-width="0.8"/>
<text x="793.50" y="1150.70" font-size="10.11" text-anchor="middle" textLength="12.37" lengthAdjust="spacingAndGlyphs" fill="#262626">81</text>
<line x1="823.90" y1="1138.10" x2="823.90" y2="1140.70" stroke="#333" stroke-width="0.8"/>
<line x1="1061.20" y1="1138.10" x2="1061.20" y2="1140.70" stroke="#333" stroke-width="0.8"/>
<text x="823.90" y="1150.70" font-size="10.11" text-anchor="middle" textLength="12.37" lengthAdjust="spacingAndGlyphs" fill="#262626">82</text>
<line x1="854.30" y1="1138.10" x2="854.30" y2="1140.70" stroke="#333" stroke-width="0.8"/>
<line x1="1091.60" y1="1138.10" x2="1091.60" y2="1140.70" stroke="#333" stroke-width="0.8"/>
<text x="854.30" y="1150.70" font-size="10.11" text-anchor="middle" textLength="12.37" lengthAdjust="spacingAndGlyphs" fill="#262626">83</text>
<line x1="884.70" y1="1138.10" x2="884.70" y2="1140.70" stroke="#333" stroke-width="0.8"/>
<line x1="1122.00" y1="1138.10" x2="1122.00" y2="1140.70" stroke="#333" stroke-width="0.8"/>
<text x="884.70" y="1150.70" font-size="10.11" text-anchor="middle" textLength="12.37" lengthAdjust="spacingAndGlyphs" fill="#262626">84</text>
<line x1="915.10" y1="1138.10" x2="915.10" y2="1140.70" stroke="#333" stroke-width="0.8"/>
<line x1="1152.40" y1="1138.10" x2="1152.40" y2="1140.70" stroke="#333" stroke-width="0.8"/>
<text x="915.10" y="1150.70" font-size="10.11" text-anchor="middle" textLength="12.37" lengthAdjust="spacingAndGlyphs" fill="#262626">85</text>
<text x="1055.50" y="934.00" font-size="11.55" text-anchor="middle" textLength="121.91" lengthAdjust="spacingAndGlyphs" fill="#262626">SHAP Value=-8.65 kts</text>
<g filter="url(#fsh0)">
<rect x="925.50" y="908.10" width="260.00" height="260.00" fill="#0e0e0e"/>
<ellipse cx="1050.5" cy="1030.1" rx="45" ry="40" fill="#262626"/>
</g>
<g clip-path="url(#csh0)"><g filter="url(#sblur)" stroke-linecap="round" fill="none">
<g stroke="#ff0000"><path d="M1030.5,1055.4l-3.9,3.3" stroke-width="3.3" opacity="0.31"/><path d="M1055.5,1016.8l2.1,-4.8" stroke-width="3.5" opacity="0.71"/><path d="M1039.7,1013.5l-5.6,-6.8" stroke-width="2.9" opacity="0.50"/><path d="M1057.8,987.2l3.1,-6.4" stroke-width="3.3" opacity="0.27"/><path d="M1041.3,1053.4l2.0,4.8" stroke-width="3.9" opacity="0.50"/><path d="M1091.9,1055.6l5.7,5.4" stroke-width="4.3" opacity="0.18"/><path d="M1035.8,1051.3l-4.3,8.6" stroke-width="4.4" opacity="0.54"/><path d="M1058.0,1036.1l3.4,2.3" stroke-width="3.7" opacity="0.92"/><path d="M1068.4,1038.8l2.9,3.5" stroke-width="3.3" opacity="0.63"/><path d="M1083.8,1039.2l4.5,2.3" stroke-width="4.8" opacity="0.33"/><path d="M1091.6,1049.6l11.2,-2.5" stroke-width="3.0" opacity="0.11"/><path d="M1056.9,1014.8l0.8,-3.9" stroke-width="2.9" opacity="0.42"/><path d="M1084.0,1013.5l6.5,-5.8" stroke-width="4.0" opacity="0.36"/><path d="M1038.1,1030.5l-6.1,-0.4" stroke-width="2.8" opacity="0.58"/><path d="M1058.1,1002.5l-0.5,-5.7" stroke-width="3.9" opacity="0.49"/><path d="M1053.3,1033.9l5.5,3.4" stroke-width="4.5" opacity="0.66"/><path d="M1072.8,1040.6l9.6,0.2" stroke-width="3.5" opacity="0.28"/><path d="M1022.2,1068.1l-6.2,1.7" stroke-width="4.0" opacity="0.10"/><path d="M1031.9,1047.3l-4.9,2.0" stroke-width="4.0" opacity="0.32"/><path d="M1062.8,1053.9l4.0,3.8" stroke-width="4.2" opacity="0.53"/><path d="M1017.9,1042.3l-4.7,4.9" stroke-width="3.3" opacity="0.29"/><path d="M1071.1,1056.6l3.1,3.9" stroke-width="3.4" opacity="0.47"/><path d="M1081.2,997.8l8.7,0.5" stroke-width="2.9" opacity="0.11"/><path d="M1020.4,979.8l-1.9,-4.6" stroke-width="3.0" opacity="0.08"/><path d="M1009.9,995.7l-5.2,-3.1" stroke-width="4.4" opacity="0.15"/><path d="M1047.2,981.8l1.6,-10.2" stroke-width="4.5" opacity="0.16"/><path d="M1094.8,1011.1l3.7,-3.9" stroke-width="4.2" opacity="0.20"/><path d="M1074.9,994.7l1.9,-5.1" stroke-width="3.2" opacity="0.20"/><path d="M1049.5,1048.4l0.1,6.4" stroke-width="4.2" opacity="0.37"/><path d="M1042.5,1056.6l1.6,5.0" stroke-width="3.3" opacity="0.56"/><path d="M1030.2,1050.5l-1.8,6.2" stroke-width="3.4" opacity="0.29"/><path d="M1041.6,1060.8l0.7,4.8" stroke-width="3.5" opacity="0.30"/><path d="M1055.5,1007.7l1.9,-8.1" stroke-width="4.2" opacity="0.29"/><path d="M1086.5,1006.0l5.6,-3.5" stroke-width="3.1" opacity="0.15"/><path d="M1066.4,1031.7l3.9,1.3" stroke-width="3.3" opacity="0.40"/><path d="M1047.8,1027.7l-2.8,-1.5" stroke-width="4.2" opacity="0.77"/><path d="M1025.1,985.6l0.7,-7.6" stroke-width="2.9" opacity="0.13"/><path d="M1065.8,1029.6l8.4,0.0" stroke-width="3.1" opacity="0.55"/><path d="M1054.5,992.8l-1.8,-10.3" stroke-width="3.3" opacity="0.15"/><path d="M1072.4,1054.0l4.2,6.3" stroke-width="3.2" opacity="0.21"/><path d="M1015.5,1066.1l-4.9,2.6" stroke-width="4.4" opacity="0.13"/><path d="M1005.3,999.1l-4.3,-4.2" stroke-width="4.5" opacity="0.07"/><path d="M1039.4,1033.9l-1.5,3.0" stroke-width="4.1" opacity="0.77"/><path d="M1023.1,996.2l0.5,-7.1" stroke-width="3.9" opacity="0.24"/><path d="M1034.4,1036.4l-3.7,5.1" stroke-width="3.4" opacity="0.69"/><path d="M1023.4,1016.1l-8.0,2.2" stroke-width="3.9" opacity="0.35"/><path d="M1080.7,1056.6l4.1,1.5" stroke-width="4.4" opacity="0.29"/><path d="M1066.0,1002.7l-0.4,-5.6" stroke-width="3.1" opacity="0.52"/><path d="M1072.9,1052.8l3.6,5.7" stroke-width="3.1" opacity="0.48"/><path d="M1067.4,1006.2l3.9,-4.2" stroke-width="3.9" opacity="0.33"/><path d="M1017.4,1043.0l-7.5,6.6" stroke-width="4.1" opacity="0.29"/><path d="M1093.8,1014.8l4.2,-2.0" stroke-width="3.8" opacity="0.21"/><path d="M1046.0,1019.4l4.6,-3.3" stroke-width="4.5" opacity="0.52"/><path d="M1058.1,1011.5l2.3,-5.2" stroke-width="3.4" opacity="0.58"/><path d="M1032.6,1020.2l-4.7,-0.9" stroke-width="3.2" opacity="0.58"/><path d="M1085.6,1053.6l3.3,5.1" stroke-width="3.4" opacity="0.13"/><path d="M1017.5,1002.9l-6.6,-4.3" stroke-width="4.0" opacity="0.19"/><path d="M1058.8,1036.2l4.6,1.1" stroke-width="3.1" opacity="0.66"/><path d="M1027.3,995.2l-3.7,-8.4" stroke-width="4.1" opacity="0.27"/><path d="M1070.8,1040.5l4.3,0.8" stroke-width="4.5" opacity="0.66"/><path d="M1038.2,1035.9l-3.2,0.8" stroke-width="3.4" opacity="0.75"/><path d="M1076.0,1032.7l6.9,2.4" stroke-width="3.1" opacity="0.30"/><path d="M1051.0,1020.9l1.2,-3.5" stroke-width="3.8" opacity="0.73"/><path d="M1013.6,1002.9l-7.3,-7.2" stroke-width="4.3" opacity="0.10"/><path d="M1027.6,1015.0l-1.8,-5.4" stroke-width="4.2" opacity="0.27"/><path d="M1048.3,1043.2l-1.8,4.5" stroke-width="3.9" opacity="0.62"/><path d="M1081.4,1060.6l6.0,2.4" stroke-width="3.1" opacity="0.20"/><path d="M1046.9,1017.2l-0.9,-4.7" stroke-width="4.5" opacity="0.79"/><path d="M1065.8,1051.2l2.6,7.9" stroke-width="3.0" opacity="0.34"/><path d="M1063.5,1025.1l6.6,-1.7" stroke-width="4.4" opacity="0.74"/><path d="M1092.5,996.6l9.4,-7.6" stroke-width="4.5" opacity="0.08"/><path d="M1081.2,1024.7l4.7,0.1" stroke-width="4.0" opacity="0.24"/><path d="M1024.3,1072.6l-5.0,5.0" stroke-width="4.4" opacity="0.09"/><path d="M1029.5,1046.1l-5.0,4.1" stroke-width="4.5" opacity="0.37"/><path d="M1072.4,1027.0l4.0,0.2" stroke-width="3.0" opacity="0.49"/><path d="M1027.3,1054.7l-0.1,6.0" stroke-width="4.7" opacity="0.21"/><path d="M1060.5,1023.3l3.1,-3.0" stroke-width="2.9" opacity="0.54"/><path d="M1066.2,1053.7l2.4,8.5" stroke-width="4.2" opacity="0.46"/></g>
<g stroke="#0000ff"><path d="M1062.2,997.4l3.2,-3.7" stroke-width="4.0" opacity="0.42"/><path d="M1015.8,994.6l-6.2,-10.2" stroke-width="4.0" opacity="0.16"/><path d="M1077.4,1044.6l7.7,2.5" stroke-width="3.3" opacity="0.24"/><path d="M1066.0,997.8l-2.1,-7.1" stroke-width="4.2" opacity="0.35"/><path d="M1084.3,1042.2l5.6,1.0" stroke-width="4.8" opacity="0.41"/><path d="M997.7,1019.4l-6.0,-6.1" stroke-width="3.4" opacity="0.09"/><path d="M1044.5,1014.1l-0.4,-5.8" stroke-width="3.8" opacity="0.44"/><path d="M1090.7,1023.7l4.8,0.0" stroke-width="3.4" opacity="0.31"/><path d="M1088.2,1035.5l5.6,0.6" stroke-width="3.6" opacity="0.38"/><path d="M1008.3,1053.7l-8.8,3.2" stroke-width="4.0" opacity="0.15"/><path d="M1051.9,1014.5l-0.6,-3.6" stroke-width="3.0" opacity="0.60"/><path d="M1071.8,1054.6l5.5,5.1" stroke-width="4.6" opacity="0.28"/><path d="M1105.5,1036.7l8.0,4.5" stroke-width="3.5" opacity="0.10"/><path d="M1057.2,999.4l4.2,-0.8" stroke-width="4.7" opacity="0.24"/><path d="M1087.0,1027.1l3.1,7.7" stroke-width="3.9" opacity="0.22"/><path d="M1055.6,1028.7l3.6,-0.1" stroke-width="3.1" opacity="0.73"/><path d="M1060.2,1011.2l-2.0,-6.3" stroke-width="3.1" opacity="0.43"/><path d="M1007.8,1040.2l-7.4,1.7" stroke-width="3.0" opacity="0.24"/><path d="M1069.2,1042.0l4.1,0.7" stroke-width="3.4" opacity="0.42"/><path d="M1027.9,998.7l-5.6,-3.3" stroke-width="3.8" opacity="0.37"/><path d="M1011.5,1026.5l-11.1,-0.4" stroke-width="3.8" opacity="0.19"/><path d="M1038.9,1007.5l-1.8,-8.0" stroke-width="4.0" opacity="0.52"/><path d="M997.8,1041.0l-7.2,8.6" stroke-width="3.6" opacity="0.10"/><path d="M1056.2,1036.3l-1.1,4.0" stroke-width="4.3" opacity="1.00"/><path d="M1024.8,1070.0l-6.6,4.9" stroke-width="3.7" opacity="0.17"/><path d="M1020.4,1010.1l-7.0,-3.0" stroke-width="4.2" opacity="0.39"/><path d="M1041.9,998.8l0.7,-9.0" stroke-width="3.5" opacity="0.37"/><path d="M1040.4,983.0l-1.7,-6.8" stroke-width="4.6" opacity="0.09"/><path d="M1023.5,1046.9l-8.6,3.6" stroke-width="4.7" opacity="0.32"/><path d="M1033.3,1014.0l-5.1,-6.0" stroke-width="4.8" opacity="0.35"/><path d="M1087.3,1035.6l10.1,1.8" stroke-width="4.2" opacity="0.35"/><path d="M1048.2,1029.3l-5.8,-1.8" stroke-width="3.6" opacity="0.87"/><path d="M1003.6,1037.2l-9.4,4.8" stroke-width="4.2" opacity="0.19"/><path d="M1076.1,1018.3l8.4,-2.4" stroke-width="3.0" opacity="0.32"/><path d="M1050.6,1038.4l2.0,6.5" stroke-width="4.2" opacity="0.98"/><path d="M1016.5,1048.9l-8.0,6.3" stroke-width="4.3" opacity="0.31"/><path d="M1072.5,1018.0l3.5,-1.7" stroke-width="3.5" opacity="0.31"/><path d="M1055.1,1052.3l5.3,6.3" stroke-width="3.8" opacity="0.49"/><path d="M1014.5,1020.6l-5.1,-1.8" stroke-width="3.5" opacity="0.34"/><path d="M1008.4,1071.2l-12.2,3.7" stroke-width="2.8" opacity="0.07"/><path d="M1050.3,1022.5l-2.7,-4.8" stroke-width="4.3" opacity="0.64"/><path d="M1014.3,1038.6l-7.6,0.6" stroke-width="3.7" opacity="0.28"/><path d="M1029.4,999.6l-2.4,-3.9" stroke-width="3.2" opacity="0.29"/><path d="M1003.7,1037.6l-9.4,-2.6" stroke-width="4.3" opacity="0.18"/><path d="M1006.7,1059.6l-5.2,2.5" stroke-width="3.3" opacity="0.07"/><path d="M1055.1,1012.0l-2.3,-4.4" stroke-width="3.2" opacity="0.46"/><path d="M1083.9,1062.7l11.7,0.9" stroke-width="3.5" opacity="0.18"/><path d="M1061.6,1011.4l5.2,-3.6" stroke-width="3.6" opacity="0.35"/><path d="M1063.1,1052.6l1.8,4.4" stroke-width="4.2" opacity="0.59"/><path d="M1029.8,1002.2l-0.4,-5.7" stroke-width="3.1" opacity="0.20"/><path d="M1087.5,1051.6l5.3,2.4" stroke-width="4.1" opacity="0.28"/><path d="M1051.3,1047.6l-1.4,4.0" stroke-width="3.4" opacity="0.82"/><path d="M1049.2,1058.3l1.8,9.8" stroke-width="3.2" opacity="0.35"/><path d="M1063.2,1062.0l2.4,7.8" stroke-width="3.2" opacity="0.20"/><path d="M1038.5,1051.9l-2.8,7.0" stroke-width="2.8" opacity="0.52"/><path d="M1010.5,1016.6l-4.3,-2.7" stroke-width="4.4" opacity="0.25"/><path d="M1026.4,1032.5l-3.9,2.2" stroke-width="3.5" opacity="0.31"/><path d="M1017.8,1012.0l-7.6,-0.5" stroke-width="3.6" opacity="0.16"/><path d="M1052.7,990.3l0.1,-7.0" stroke-width="4.6" opacity="0.32"/><path d="M1048.5,1010.8l0.8,-8.7" stroke-width="3.3" opacity="0.38"/><path d="M1030.4,1050.1l-6.7,3.9" stroke-width="4.2" opacity="0.51"/><path d="M1010.0,1011.1l-8.3,-2.6" stroke-width="3.0" opacity="0.20"/><path d="M1078.1,1004.5l5.0,-6.6" stroke-width="3.0" opacity="0.21"/><path d="M1009.6,1051.5l-9.7,6.2" stroke-width="2.9" opacity="0.14"/><path d="M1100.1,1011.4l4.5,-6.2" stroke-width="3.8" opacity="0.08"/><path d="M1090.0,1024.4l3.9,-2.5" stroke-width="2.9" opacity="0.35"/><path d="M1059.7,1047.3l4.2,2.6" stroke-width="3.3" opacity="0.69"/><path d="M1042.4,1003.3l-2.1,-4.8" stroke-width="4.0" opacity="0.25"/><path d="M1077.4,1009.9l7.5,0.5" stroke-width="3.7" opacity="0.25"/><path d="M1050.8,1017.1l-1.8,-7.4" stroke-width="3.4" opacity="0.39"/><path d="M1024.8,1006.2l-3.4,-5.1" stroke-width="3.0" opacity="0.27"/><path d="M1037.1,1009.2l-3.3,-3.0" stroke-width="3.1" opacity="0.64"/><path d="M1018.3,1004.7l-4.5,-2.5" stroke-width="3.8" opacity="0.20"/><path d="M1059.8,1013.2l6.1,-6.2" stroke-width="4.2" opacity="0.60"/><path d="M1010.6,1049.0l-4.6,-0.8" stroke-width="3.8" opacity="0.25"/><path d="M1079.0,1024.2l5.1,-3.5" stroke-width="4.1" opacity="0.32"/><path d="M1029.7,1061.6l-8.9,5.3" stroke-width="3.1" opacity="0.17"/><path d="M1036.8,1054.3l-3.9,3.8" stroke-width="4.5" opacity="0.29"/><path d="M1098.0,1017.5l4.4,-4.7" stroke-width="2.8" opacity="0.14"/><path d="M1054.2,998.2l1.8,-7.1" stroke-width="3.4" opacity="0.47"/><path d="M1058.9,1019.8l-0.4,-7.2" stroke-width="4.1" opacity="0.50"/><path d="M1020.8,990.1l-6.3,-4.6" stroke-width="2.9" opacity="0.07"/><path d="M1088.3,999.6l2.4,-4.9" stroke-width="3.7" opacity="0.17"/><path d="M1037.9,1062.9l-4.9,5.7" stroke-width="2.9" opacity="0.27"/><path d="M1076.8,1005.8l3.5,-4.3" stroke-width="3.5" opacity="0.24"/><path d="M1051.3,1065.3l4.2,3.7" stroke-width="3.4" opacity="0.23"/><path d="M1026.4,1009.9l-3.7,-3.6" stroke-width="3.9" opacity="0.44"/><path d="M1035.5,993.5l1.5,-10.6" stroke-width="3.2" opacity="0.23"/><path d="M1047.4,1002.8l0.0,-8.7" stroke-width="4.1" opacity="0.40"/><path d="M1066.2,1003.8l2.4,-8.9" stroke-width="3.8" opacity="0.37"/><path d="M1002.9,1063.7l-7.0,6.9" stroke-width="3.0" opacity="0.08"/><path d="M1057.7,1044.4l0.6,3.3" stroke-width="3.4" opacity="0.67"/></g>
</g></g>
<rect x="955.50" y="938.10" width="200.00" height="200.00" fill="none" stroke="#555" stroke-width="1.0"/>
<text x="818.20" y="1171.40" font-size="11.55" text-anchor="middle" textLength="79.16" lengthAdjust="spacingAndGlyphs" fill="#262626">3h old IR Data</text>
<g clip-path="url(#cir1)"><g filter="url(#fir1)">
<rect x="693.20" y="1150.50" width="250.00" height="250.00" fill="#272727"/>
<ellipse cx="903.2" cy="1265.5" rx="22" ry="90" fill="#313131"/>
<ellipse cx="778.2" cy="1335.5" rx="35" ry="45" fill="#393939"/>
<ellipse cx="753.2" cy="1203.5" rx="32" ry="16" fill="#303030"/>
<ellipse cx="736.2" cy="1285.5" rx="14" ry="25" fill="#222222"/>
<ellipse cx="828.2" cy="1245.5" rx="45" ry="35" fill="#242424"/>
<ellipse cx="748.2" cy="1355.5" rx="28" ry="20" fill="#4e4e4e"/>
<ellipse cx="733.2" cy="1343.5" rx="12" ry="10" fill="#4e4e4e"/>
<ellipse cx="793.2" cy="1370.5" rx="10" ry="6" fill="#4e4e4e"/>
<ellipse cx="888.2" cy="1185.5" rx="3" ry="11" fill="#666666" transform="rotate(10 888.2 1185.5)"/>
<ellipse cx="886.2" cy="1215.5" rx="1.5" ry="5" fill="#5e5e5e"/>
<polygon points="800.2,1326.5 813.2,1299.5 815.2,1289.5 832.2,1294.5 845.2,1309.5 870.2,1305.5 879.2,1318.5 889.2,1328.5 898.2,1336.5 924.2,1327.5 924.2,1381.5 817.2,1381.5 804.2,1356.5" fill="#858585" stroke="#5a5a5a" stroke-width="6" stroke-linejoin="round"/>
<ellipse cx="904.2" cy="1337.5" rx="17" ry="7" fill="#5c5c5c" transform="rotate(-8 904.2 1337.5)"/>
<ellipse cx="823.2" cy="1297.5" rx="5" ry="4" fill="#666666"/>
<polygon points="806.4,1328.1 821.6,1313.0 831.3,1302.2 845.3,1310.8 874.5,1315.1 881.0,1333.5 875.6,1358.3 854.0,1367.0 833.4,1359.4 812.9,1347.5" fill="#adadad" stroke="#959595" stroke-width="5" stroke-linejoin="round"/>
<ellipse cx="908.2" cy="1363.5" rx="16" ry="14" fill="#a9a9a9" stroke="#919191" stroke-width="5"/>
<ellipse cx="855.2" cy="1335.5" rx="21" ry="25" fill="#bcbcbc"/>
<ellipse cx="831.2" cy="1320.5" rx="6" ry="14" fill="#cccccc" transform="rotate(30 831.2 1320.5)"/>
<ellipse cx="850.2" cy="1335.5" rx="9" ry="10" fill="#d0d0d0"/>
</g></g>
<rect x="718.20" y="1175.50" width="200.00" height="200.00" fill="none" stroke="#555" stroke-width="1.0"/>
<line x1="715.60" y1="1187.50" x2="718.20" y2="1187.50" stroke="#333" stroke-width="0.8"/>
<line x1="952.90" y1="1187.50" x2="955.50" y2="1187.50" stroke="#333" stroke-width="0.8"/>
<text x="711.80" y="1191.60" font-size="10.11" text-anchor="end" textLength="19.25" lengthAdjust="spacingAndGlyphs" fill="#262626">−11</text>
<line x1="715.60" y1="1219.00" x2="718.20" y2="1219.00" stroke="#333" stroke-width="0.8"/>
<line x1="952.90" y1="1219.00" x2="955.50" y2="1219.00" stroke="#333" stroke-width="0.8"/>
<text x="711.80" y="1223.10" font-size="10.11" text-anchor="end" textLength="19.25" lengthAdjust="spacingAndGlyphs" fill="#262626">−12</text>
<line x1="715.60" y1="1250.50" x2="718.20" y2="1250.50" stroke="#333" stroke-width="0.8"/>
<line x1="952.90" y1="1250.50" x2="955.50" y2="1250.50" stroke="#333" stroke-width="0.8"/>
<text x="711.80" y="1254.60" font-size="10.11" text-anchor="end" textLength="19.25" lengthAdjust="spacingAndGlyphs" fill="#262626">−13</text>
<line x1="715.60" y1="1282.00" x2="718.20" y2="1282.00" stroke="#333" stroke-width="0.8"/>
<line x1="952.90" y1="1282.00" x2="955.50" y2="1282.00" stroke="#333" stroke-width="0.8"/>
<text x="711.80" y="1286.10" font-size="10.11" text-anchor="end" textLength="19.25" lengthAdjust="spacingAndGlyphs" fill="#262626">−14</text>
<line x1="715.60" y1="1313.50" x2="718.20" y2="1313.50" stroke="#333" stroke-width="0.8"/>
<line x1="952.90" y1="1313.50" x2="955.50" y2="1313.50" stroke="#333" stroke-width="0.8"/>
<text x="711.80" y="1317.60" font-size="10.11" text-anchor="end" textLength="19.25" lengthAdjust="spacingAndGlyphs" fill="#262626">−15</text>
<line x1="715.60" y1="1345.00" x2="718.20" y2="1345.00" stroke="#333" stroke-width="0.8"/>
<line x1="952.90" y1="1345.00" x2="955.50" y2="1345.00" stroke="#333" stroke-width="0.8"/>
<text x="711.80" y="1349.10" font-size="10.11" text-anchor="end" textLength="19.25" lengthAdjust="spacingAndGlyphs" fill="#262626">−16</text>
<line x1="735.60" y1="1375.50" x2="735.60" y2="1378.10" stroke="#333" stroke-width="0.8"/>
<line x1="972.90" y1="1375.50" x2="972.90" y2="1378.10" stroke="#333" stroke-width="0.8"/>
<text x="735.60" y="1388.10" font-size="10.11" text-anchor="middle" textLength="12.37" lengthAdjust="spacingAndGlyphs" fill="#262626">79</text>
<line x1="766.05" y1="1375.50" x2="766.05" y2="1378.10" stroke="#333" stroke-width="0.8"/>
<line x1="1003.35" y1="1375.50" x2="1003.35" y2="1378.10" stroke="#333" stroke-width="0.8"/>
<text x="766.05" y="1388.10" font-size="10.11" text-anchor="middle" textLength="12.37" lengthAdjust="spacingAndGlyphs" fill="#262626">80</text>
<line x1="796.50" y1="1375.50" x2="796.50" y2="1378.10" stroke="#333" stroke-width="0.8"/>
<line x1="1033.80" y1="1375.50" x2="1033.80" y2="1378.10" stroke="#333" stroke-width="0.8"/>
<text x="796.50" y="1388.10" font-size="10.11" text-anchor="middle" textLength="12.37" lengthAdjust="spacingAndGlyphs" fill="#262626">81</text>
<line x1="826.95" y1="1375.50" x2="826.95" y2="1378.10" stroke="#333" stroke-width="0.8"/>
<line x1="1064.25" y1="1375.50" x2="1064.25" y2="1378.10" stroke="#333" stroke-width="0.8"/>
<text x="826.95" y="1388.10" font-size="10.11" text-anchor="middle" textLength="12.37" lengthAdjust="spacingAndGlyphs" fill="#262626">82</text>
<line x1="857.40" y1="1375.50" x2="857.40" y2="1378.10" stroke="#333" stroke-width="0.8"/>
<line x1="1094.70" y1="1375.50" x2="1094.70" y2="1378.10" stroke="#333" stroke-width="0.8"/>
<text x="857.40" y="1388.10" font-size="10.11" text-anchor="middle" textLength="12.37" lengthAdjust="spacingAndGlyphs" fill="#262626">83</text>
<line x1="887.85" y1="1375.50" x2="887.85" y2="1378.10" stroke="#333" stroke-width="0.8"/>
<line x1="1125.15" y1="1375.50" x2="1125.15" y2="1378.10" stroke="#333" stroke-width="0.8"/>
<text x="887.85" y="1388.10" font-size="10.11" text-anchor="middle" textLength="12.37" lengthAdjust="spacingAndGlyphs" fill="#262626">84</text>
<text x="1055.50" y="1171.40" font-size="11.55" text-anchor="middle" textLength="117.90" lengthAdjust="spacingAndGlyphs" fill="#262626">SHAP Value=0.71 kts</text>
<g filter="url(#fsh1)">
<rect x="925.50" y="1145.50" width="260.00" height="260.00" fill="#070707"/>
<ellipse cx="1050.5" cy="1265.5" rx="55" ry="45" fill="#161616"/>
</g>
<g clip-path="url(#csh1)"><g filter="url(#sblur)" stroke-linecap="round" fill="none">
<g stroke="#ff0000"><path d="M1059.4,1286.5l0.2,8.3" stroke-width="4.4" opacity="0.25"/><path d="M1016.8,1308.5l-8.8,0.2" stroke-width="2.9" opacity="0.08"/><path d="M1052.8,1268.8l-3.0,-1.5" stroke-width="2.9" opacity="0.24"/><path d="M1043.0,1304.2l-3.9,2.7" stroke-width="4.4" opacity="0.18"/><path d="M1090.0,1274.3l5.9,1.1" stroke-width="3.3" opacity="0.12"/><path d="M1076.7,1253.3l7.8,-2.4" stroke-width="4.2" opacity="0.25"/><path d="M1027.9,1257.6l-5.3,2.1" stroke-width="3.1" opacity="0.26"/><path d="M1034.0,1262.9l-7.4,0.9" stroke-width="3.5" opacity="0.17"/><path d="M1073.4,1266.3l4.0,0.9" stroke-width="4.3" opacity="0.22"/><path d="M1082.5,1266.4l3.9,0.2" stroke-width="4.5" opacity="0.22"/><path d="M1048.9,1308.0l-5.7,6.0" stroke-width="4.5" opacity="0.09"/><path d="M1028.2,1274.2l-8.0,4.3" stroke-width="3.6" opacity="0.15"/><path d="M1065.5,1231.0l7.2,-7.8" stroke-width="4.3" opacity="0.10"/><path d="M1107.5,1250.9l6.4,-3.7" stroke-width="3.6" opacity="0.08"/><path d="M1046.5,1298.7l-3.6,4.5" stroke-width="3.4" opacity="0.20"/><path d="M1052.3,1314.1l-2.2,4.8" stroke-width="4.6" opacity="0.11"/><path d="M1053.3,1265.8l-3.5,-2.4" stroke-width="4.6" opacity="0.27"/><path d="M1084.0,1274.4l2.9,-3.2" stroke-width="4.5" opacity="0.26"/><path d="M1059.5,1280.4l-0.6,3.7" stroke-width="4.4" opacity="0.16"/><path d="M1088.1,1288.4l9.9,-0.8" stroke-width="4.2" opacity="0.15"/><path d="M1086.5,1269.0l7.9,-0.5" stroke-width="3.4" opacity="0.11"/><path d="M1055.9,1260.5l-1.3,-7.7" stroke-width="3.0" opacity="0.36"/><path d="M1034.6,1240.9l-0.2,-9.7" stroke-width="4.6" opacity="0.13"/><path d="M1082.8,1247.4l5.1,-3.8" stroke-width="4.7" opacity="0.20"/><path d="M1037.2,1271.8l-5.5,0.1" stroke-width="4.8" opacity="0.14"/><path d="M1073.4,1266.1l2.4,2.6" stroke-width="4.1" opacity="0.21"/><path d="M1071.7,1293.1l4.2,6.1" stroke-width="4.5" opacity="0.21"/><path d="M1017.2,1237.7l-6.7,-5.9" stroke-width="3.0" opacity="0.11"/><path d="M1051.3,1235.5l1.7,-8.5" stroke-width="4.3" opacity="0.17"/><path d="M1019.8,1245.8l-6.5,-4.3" stroke-width="3.9" opacity="0.09"/><path d="M1093.6,1252.9l4.4,-2.4" stroke-width="4.8" opacity="0.15"/><path d="M1036.3,1265.6l-4.6,-1.8" stroke-width="4.8" opacity="0.26"/><path d="M1071.8,1251.3l-1.2,-6.9" stroke-width="3.7" opacity="0.19"/><path d="M1054.7,1265.8l-5.9,-4.6" stroke-width="4.5" opacity="0.29"/><path d="M1029.9,1299.4l-7.6,6.5" stroke-width="4.0" opacity="0.12"/><path d="M1042.2,1303.4l-4.3,2.2" stroke-width="3.0" opacity="0.14"/><path d="M1035.0,1291.1l-8.6,0.8" stroke-width="4.4" opacity="0.23"/><path d="M1073.8,1232.3l4.8,-7.4" stroke-width="3.7" opacity="0.08"/><path d="M1010.7,1257.8l-8.7,-2.0" stroke-width="3.7" opacity="0.09"/><path d="M1105.8,1292.2l6.0,9.4" stroke-width="3.5" opacity="0.08"/><path d="M1059.2,1301.4l0.4,8.9" stroke-width="3.2" opacity="0.12"/><path d="M1049.3,1243.4l-0.6,-9.6" stroke-width="3.8" opacity="0.12"/><path d="M1044.4,1257.3l-2.0,-3.1" stroke-width="4.7" opacity="0.21"/><path d="M1069.4,1292.1l1.2,7.3" stroke-width="3.4" opacity="0.26"/><path d="M1038.1,1303.4l-3.1,3.6" stroke-width="3.3" opacity="0.21"/><path d="M1012.6,1281.2l-8.0,4.0" stroke-width="3.0" opacity="0.08"/><path d="M1036.2,1248.8l-4.2,-9.0" stroke-width="4.5" opacity="0.20"/><path d="M1072.6,1282.8l4.0,2.8" stroke-width="3.5" opacity="0.26"/><path d="M1023.9,1285.6l-4.3,8.1" stroke-width="3.2" opacity="0.13"/><path d="M1026.0,1239.7l-4.3,-6.1" stroke-width="3.7" opacity="0.13"/><path d="M1085.4,1256.7l10.2,-1.3" stroke-width="3.7" opacity="0.13"/><path d="M1055.2,1244.7l1.4,-6.6" stroke-width="4.5" opacity="0.19"/><path d="M1059.1,1234.2l-0.3,-7.0" stroke-width="4.5" opacity="0.20"/><path d="M1066.7,1250.7l0.2,-6.7" stroke-width="4.7" opacity="0.13"/><path d="M1030.5,1237.7l-8.0,-5.9" stroke-width="3.6" opacity="0.12"/><path d="M1037.3,1287.4l-7.0,6.4" stroke-width="4.3" opacity="0.18"/><path d="M1094.5,1295.3l6.9,-1.2" stroke-width="4.7" opacity="0.12"/><path d="M999.3,1252.3l-3.6,-7.0" stroke-width="2.8" opacity="0.08"/><path d="M1092.8,1301.3l5.2,6.9" stroke-width="3.0" opacity="0.10"/><path d="M1055.8,1268.6l-0.1,4.9" stroke-width="3.9" opacity="0.31"/><path d="M1082.8,1241.0l4.7,-8.1" stroke-width="3.6" opacity="0.10"/><path d="M1009.0,1280.0l-6.4,4.3" stroke-width="3.9" opacity="0.07"/><path d="M1103.0,1279.2l9.9,-1.3" stroke-width="3.0" opacity="0.10"/><path d="M1023.2,1261.8l-6.4,-1.1" stroke-width="4.6" opacity="0.19"/><path d="M1091.4,1272.3l7.8,-7.2" stroke-width="3.7" opacity="0.12"/><path d="M1089.4,1294.4l6.2,1.4" stroke-width="3.7" opacity="0.14"/><path d="M1025.9,1233.1l-7.2,-4.0" stroke-width="4.2" opacity="0.13"/><path d="M1093.0,1253.2l8.8,-1.3" stroke-width="3.9" opacity="0.11"/><path d="M1061.0,1276.5l3.0,4.2" stroke-width="3.6" opacity="0.25"/><path d="M1056.8,1226.4l7.3,-5.0" stroke-width="4.0" opacity="0.10"/><path d="M1072.0,1216.3l3.5,-4.9" stroke-width="3.4" opacity="0.08"/><path d="M1038.4,1242.8l-5.2,-4.8" stroke-width="4.6" opacity="0.17"/><path d="M1096.9,1252.9l9.4,-4.1" stroke-width="3.8" opacity="0.08"/><path d="M1090.3,1238.2l4.1,-3.9" stroke-width="4.4" opacity="0.13"/><path d="M1017.3,1303.2l-0.7,11.5" stroke-width="4.2" opacity="0.08"/><path d="M1081.3,1238.5l5.0,-9.3" stroke-width="3.6" opacity="0.11"/><path d="M1055.0,1253.3l0.3,-4.1" stroke-width="4.7" opacity="0.15"/><path d="M1040.5,1309.4l-8.6,7.0" stroke-width="4.6" opacity="0.08"/><path d="M1029.5,1273.5l-5.6,1.5" stroke-width="3.8" opacity="0.14"/><path d="M1090.5,1276.2l10.3,-0.2" stroke-width="4.6" opacity="0.12"/><path d="M1036.6,1310.3l-1.7,10.7" stroke-width="4.0" opacity="0.13"/><path d="M1048.9,1245.5l-0.7,-5.0" stroke-width="3.4" opacity="0.12"/><path d="M1032.5,1292.7l-7.3,5.3" stroke-width="2.8" opacity="0.16"/><path d="M1068.8,1298.2l6.0,6.3" stroke-width="3.9" opacity="0.14"/><path d="M1096.4,1231.7l1.7,-4.9" stroke-width="4.4" opacity="0.07"/><path d="M1073.5,1297.1l0.9,7.1" stroke-width="3.1" opacity="0.11"/><path d="M1016.2,1267.4l-5.8,4.2" stroke-width="4.1" opacity="0.08"/><path d="M1027.4,1270.8l-4.4,-2.6" stroke-width="3.0" opacity="0.24"/><path d="M1087.2,1275.5l6.7,2.7" stroke-width="3.7" opacity="0.18"/><path d="M1083.3,1262.0l10.0,-0.7" stroke-width="3.3" opacity="0.17"/><path d="M1095.0,1304.0l4.0,4.1" stroke-width="3.7" opacity="0.09"/><path d="M1094.4,1275.1l6.2,0.6" stroke-width="3.3" opacity="0.13"/><path d="M1100.5,1292.2l4.9,2.1" stroke-width="3.1" opacity="0.10"/><path d="M1097.5,1264.3l4.5,-2.2" stroke-width="3.1" opacity="0.08"/><path d="M1090.4,1288.7l7.5,4.9" stroke-width="4.1" opacity="0.08"/><path d="M1025.0,1258.2l-8.6,-1.9" stroke-width="3.9" opacity="0.18"/><path d="M1047.2,1265.6l-5.8,-0.3" stroke-width="4.0" opacity="0.33"/><path d="M1068.8,1260.1l6.0,-3.1" stroke-width="4.0" opacity="0.31"/><path d="M1073.9,1257.4l7.1,-5.0" stroke-width="3.8" opacity="0.23"/><path d="M1093.6,1257.0l8.5,-2.3" stroke-width="4.1" opacity="0.11"/><path d="M1025.7,1243.3l-4.4,-1.9" stroke-width="3.4" opacity="0.09"/><path d="M1075.3,1276.9l7.4,-0.0" stroke-width="3.8" opacity="0.15"/><path d="M1038.5,1297.2l-6.2,3.5" stroke-width="3.9" opacity="0.17"/><path d="M1013.7,1285.6l-10.7,2.4" stroke-width="4.0" opacity="0.09"/><path d="M1060.2,1288.2l2.4,3.2" stroke-width="3.9" opacity="0.32"/><path d="M1045.2,1257.7l-2.6,-5.0" stroke-width="4.2" opacity="0.22"/><path d="M1077.5,1244.0l6.5,-3.2" stroke-width="4.1" opacity="0.17"/><path d="M1003.5,1265.1l-9.8,-2.8" stroke-width="4.5" opacity="0.08"/><path d="M1012.5,1265.2l-6.8,-1.0" stroke-width="3.7" opacity="0.10"/><path d="M1053.8,1306.6l-2.8,7.2" stroke-width="4.5" opacity="0.09"/><path d="M1040.9,1323.2l-0.6,9.2" stroke-width="4.5" opacity="0.09"/><path d="M1082.5,1268.0l6.8,0.7" stroke-width="4.0" opacity="0.20"/><path d="M1026.6,1241.4l-3.0,-6.5" stroke-width="3.0" opacity="0.14"/><path d="M1091.4,1302.6l-5.7,6.2" stroke-width="4.4" opacity="0.09"/><path d="M1051.5,1285.0l-1.2,4.2" stroke-width="3.7" opacity="0.33"/><path d="M1041.0,1305.3l-3.4,7.8" stroke-width="2.8" opacity="0.12"/><path d="M1026.7,1287.1l-4.4,2.7" stroke-width="2.8" opacity="0.10"/><path d="M1110.3,1257.5l6.0,-0.0" stroke-width="3.8" opacity="0.09"/><path d="M1098.7,1274.7l9.8,-4.4" stroke-width="4.5" opacity="0.07"/><path d="M1094.9,1306.5l8.2,7.1" stroke-width="3.2" opacity="0.09"/><path d="M1090.3,1228.4l4.9,-7.4" stroke-width="4.7" opacity="0.07"/><path d="M1035.2,1310.6l-3.3,3.0" stroke-width="4.5" opacity="0.11"/><path d="M1018.4,1298.9l-4.3,6.3" stroke-width="4.1" opacity="0.08"/><path d="M1080.7,1247.6l4.9,-5.2" stroke-width="3.1" opacity="0.20"/><path d="M1061.4,1254.5l-0.3,-3.8" stroke-width="3.5" opacity="0.26"/><path d="M1031.4,1231.9l-7.0,-9.2" stroke-width="3.1" opacity="0.09"/><path d="M1021.2,1278.2l-9.6,0.5" stroke-width="2.9" opacity="0.19"/><path d="M1054.2,1239.3l0.1,-7.2" stroke-width="3.9" opacity="0.24"/><path d="M1039.2,1278.6l-5.5,2.8" stroke-width="4.3" opacity="0.31"/><path d="M1053.4,1290.1l2.0,6.0" stroke-width="3.4" opacity="0.25"/></g>
<g stroke="#0000ff"><path d="M1059.0,1286.6l-0.7,4.9" stroke-width="4.6" opacity="0.18"/><path d="M1081.5,1267.2l4.4,2.4" stroke-width="4.3" opacity="0.21"/><path d="M1032.4,1260.1l-3.3,2.3" stroke-width="4.0" opacity="0.20"/><path d="M1048.4,1263.7l-6.0,-0.3" stroke-width="3.2" opacity="0.24"/><path d="M1047.1,1290.4l-3.3,4.6" stroke-width="3.0" opacity="0.32"/><path d="M1059.6,1317.1l0.3,6.0" stroke-width="3.0" opacity="0.11"/><path d="M1018.4,1286.9l-6.6,1.2" stroke-width="3.9" opacity="0.14"/><path d="M1086.4,1229.6l1.2,-5.2" stroke-width="2.8" opacity="0.08"/><path d="M1081.4,1279.6l6.9,3.3" stroke-width="3.7" opacity="0.11"/><path d="M1041.6,1308.5l-1.6,7.4" stroke-width="4.5" opacity="0.17"/><path d="M1060.5,1264.5l2.2,-2.9" stroke-width="3.2" opacity="0.19"/><path d="M1051.1,1278.2l0.1,5.6" stroke-width="2.9" opacity="0.32"/><path d="M1021.4,1286.6l-8.2,7.0" stroke-width="3.1" opacity="0.14"/><path d="M1079.1,1289.7l7.1,2.5" stroke-width="3.1" opacity="0.20"/><path d="M1074.7,1246.1l3.7,-6.9" stroke-width="3.4" opacity="0.15"/><path d="M1018.9,1278.5l-7.2,-1.9" stroke-width="3.4" opacity="0.09"/><path d="M1044.2,1233.5l0.4,-4.9" stroke-width="2.9" opacity="0.16"/><path d="M1009.8,1265.7l-9.4,-2.0" stroke-width="3.0" opacity="0.08"/><path d="M1044.7,1313.7l-4.4,5.8" stroke-width="3.3" opacity="0.10"/><path d="M1020.4,1295.2l-3.5,9.0" stroke-width="4.3" opacity="0.10"/><path d="M1049.3,1266.5l-4.9,-2.7" stroke-width="4.2" opacity="0.18"/><path d="M1062.3,1319.5l7.6,6.7" stroke-width="3.0" opacity="0.07"/><path d="M1027.2,1303.2l-10.3,2.7" stroke-width="3.6" opacity="0.08"/><path d="M1007.8,1271.6l-4.8,0.4" stroke-width="3.7" opacity="0.14"/><path d="M1098.3,1291.5l6.3,1.1" stroke-width="4.3" opacity="0.09"/><path d="M1098.5,1254.4l7.5,-0.3" stroke-width="2.9" opacity="0.11"/><path d="M1025.3,1273.9l-8.5,4.8" stroke-width="3.2" opacity="0.11"/><path d="M1085.8,1288.6l3.6,2.2" stroke-width="3.7" opacity="0.21"/><path d="M1035.2,1235.5l-2.6,-8.4" stroke-width="3.9" opacity="0.16"/><path d="M1062.8,1260.7l-1.6,-3.7" stroke-width="3.1" opacity="0.16"/><path d="M1057.4,1310.1l-2.2,5.7" stroke-width="4.7" opacity="0.13"/><path d="M1048.2,1288.4l-3.0,5.2" stroke-width="4.3" opacity="0.19"/><path d="M1039.1,1323.5l3.9,9.8" stroke-width="3.9" opacity="0.08"/><path d="M1020.2,1240.4l-3.9,-5.0" stroke-width="3.3" opacity="0.11"/><path d="M1030.1,1260.1l-3.7,-2.3" stroke-width="4.7" opacity="0.25"/><path d="M1011.4,1270.8l-7.6,2.3" stroke-width="4.3" opacity="0.10"/><path d="M1019.7,1239.1l-4.2,-4.1" stroke-width="4.0" opacity="0.08"/><path d="M1031.9,1299.0l-5.7,6.3" stroke-width="3.3" opacity="0.13"/><path d="M1063.9,1255.7l3.8,-3.4" stroke-width="4.6" opacity="0.21"/><path d="M1015.7,1264.4l-7.6,1.7" stroke-width="4.0" opacity="0.17"/></g>
</g></g>
<rect x="955.50" y="1175.50" width="200.00" height="200.00" fill="none" stroke="#555" stroke-width="1.0"/>
<text x="818.20" y="1409.00" font-size="11.55" text-anchor="middle" textLength="79.16" lengthAdjust="spacingAndGlyphs" fill="#262626">6h old IR Data</text>
<g clip-path="url(#cir2)"><g filter="url(#fir2)">
<rect x="693.20" y="1388.10" width="250.00" height="250.00" fill="#262626"/>
<ellipse cx="758.2" cy="1553.1" rx="45" ry="45" fill="#333333"/>
<ellipse cx="888.2" cy="1483.1" rx="25" ry="70" fill="#2d2d2d" transform="rotate(10 888.2 1483.1)"/>
<ellipse cx="798.2" cy="1563.1" rx="20" ry="20" fill="#3d3d3d"/>
<ellipse cx="728.2" cy="1493.1" rx="8" ry="25" fill="#373737"/>
<ellipse cx="808.2" cy="1463.1" rx="60" ry="30" fill="#232323"/>
<ellipse cx="748.2" cy="1581.1" rx="14" ry="8" fill="#4e4e4e"/>
<ellipse cx="763.2" cy="1598.1" rx="22" ry="14" fill="#4e4e4e"/>
<ellipse cx="722.2" cy="1465.1" rx="4" ry="3" fill="#565656"/>
<ellipse cx="908.2" cy="1568.1" rx="6" ry="3" fill="#525252"/>
<ellipse cx="793.2" cy="1553.1" rx="6" ry="3" fill="#4e4e4e"/>
<polygon points="787.2,1586.1 795.2,1567.1 802.2,1546.1 827.2,1549.1 851.2,1542.1 861.2,1550.1 870.2,1541.1 879.2,1541.1 887.2,1556.1 889.2,1574.1 898.2,1580.1 924.2,1580.1 924.2,1619.1 787.2,1619.1" fill="#838383" stroke="#5a5a5a" stroke-width="6" stroke-linejoin="round"/>
<ellipse cx="798.2" cy="1585.1" rx="3.5" ry="24" fill="#606060" transform="rotate(10 798.2 1585.1)"/>
<ellipse cx="809.2" cy="1593.1" rx="2.5" ry="16" fill="#646464" transform="rotate(8 809.2 1593.1)"/>
<ellipse cx="843.2" cy="1609.1" rx="24" ry="8" fill="#585858"/>
<ellipse cx="826.2" cy="1601.1" rx="6" ry="10" fill="#5e5e5e" transform="rotate(30 826.2 1601.1)"/>
<polygon points="817.2,1576.1 821.2,1554.1 843.2,1549.1 858.2,1554.1 880.2,1549.1 889.2,1568.1 882.2,1589.1 865.2,1594.1 836.2,1596.1 822.2,1588.1" fill="#a3a3a3" stroke="#919191" stroke-width="5" stroke-linejoin="round"/>
<ellipse cx="904.2" cy="1604.1" rx="18" ry="15" fill="#adadad" stroke="#919191" stroke-width="5"/>
<ellipse cx="904.2" cy="1611.1" rx="10" ry="5" fill="#bcbcbc"/>
<ellipse cx="837.2" cy="1571.1" rx="13" ry="15" fill="#c4c4c4"/>
<ellipse cx="861.2" cy="1571.1" rx="12" ry="14" fill="#c4c4c4"/>
<ellipse cx="835.2" cy="1565.1" rx="5" ry="8" fill="#d2d2d2"/>
<ellipse cx="860.2" cy="1571.1" rx="5" ry="7" fill="#d2d2d2"/>
<ellipse cx="874.2" cy="1545.1" rx="3" ry="4" fill="#b1b1b1"/>
</g></g>
<rect x="718.20" y="1413.10" width="200.00" height="200.00" fill="none" stroke="#555" stroke-width="1.0"/>
<line x1="715.60" y1="1443.90" x2="718.20" y2="1443.90" stroke="#333" stroke-width="0.8"/>
<line x1="952.90" y1="1443.90" x2="955.50" y2="1443.90" stroke="#333" stroke-width="0.8"/>
<text x="711.80" y="1448.00" font-size="10.11" text-anchor="end" textLength="19.25" lengthAdjust="spacingAndGlyphs" fill="#262626">−11</text>
<line x1="715.60" y1="1475.20" x2="718.20" y2="1475.20" stroke="#333" stroke-width="0.8"/>
<line x1="952.90" y1="1475.20" x2="955.50" y2="1475.20" stroke="#333" stroke-width="0.8"/>
<text x="711.80" y="1479.30" font-size="10.11" text-anchor="end" textLength="19.25" lengthAdjust="spacingAndGlyphs" fill="#262626">−12</text>
<line x1="715.60" y1="1506.50" x2="718.20" y2="1506.50" stroke="#333" stroke-width="0.8"/>
<line x1="952.90" y1="1506.50" x2="955.50" y2="1506.50" stroke="#333" stroke-width="0.8"/>
<text x="711.80" y="1510.60" font-size="10.11" text-anchor="end" textLength="19.25" lengthAdjust="spacingAndGlyphs" fill="#262626">−13</text>
<line x1="715.60" y1="1537.80" x2="718.20" y2="1537.80" stroke="#333" stroke-width="0.8"/>
<line x1="952.90" y1="1537.80" x2="955.50" y2="1537.80" stroke="#333" stroke-width="0.8"/>
<text x="711.80" y="1541.90" font-size="10.11" text-anchor="end" textLength="19.25" lengthAdjust="spacingAndGlyphs" fill="#262626">−14</text>
<line x1="715.60" y1="1569.10" x2="718.20" y2="1569.10" stroke="#333" stroke-width="0.8"/>
<line x1="952.90" y1="1569.10" x2="955.50" y2="1569.10" stroke="#333" stroke-width="0.8"/>
<text x="711.80" y="1573.20" font-size="10.11" text-anchor="end" textLength="19.25" lengthAdjust="spacingAndGlyphs" fill="#262626">−15</text>
<line x1="715.60" y1="1600.40" x2="718.20" y2="1600.40" stroke="#333" stroke-width="0.8"/>
<line x1="952.90" y1="1600.40" x2="955.50" y2="1600.40" stroke="#333" stroke-width="0.8"/>
<text x="711.80" y="1604.50" font-size="10.11" text-anchor="end" textLength="19.25" lengthAdjust="spacingAndGlyphs" fill="#262626">−16</text>
<line x1="739.30" y1="1613.10" x2="739.30" y2="1615.70" stroke="#333" stroke-width="0.8"/>
<line x1="976.60" y1="1613.10" x2="976.60" y2="1615.70" stroke="#333" stroke-width="0.8"/>
<text x="739.30" y="1625.70" font-size="10.11" text-anchor="middle" textLength="12.37" lengthAdjust="spacingAndGlyphs" fill="#262626">79</text>
<line x1="769.90" y1="1613.10" x2="769.90" y2="1615.70" stroke="#333" stroke-width="0.8"/>
<line x1="1007.20" y1="1613.10" x2="1007.20" y2="1615.70" stroke="#333" stroke-width="0.8"/>
<text x="769.90" y="1625.70" font-size="10.11" text-anchor="middle" textLength="12.37" lengthAdjust="spacingAndGlyphs" fill="#262626">80</text>
<line x1="800.50" y1="1613.10" x2="800.50" y2="1615.70" stroke="#333" stroke-width="0.8"/>
<line x1="1037.80" y1="1613.10" x2="1037.80" y2="1615.70" stroke="#333" stroke-width="0.8"/>
<text x="800.50" y="1625.70" font-size="10.11" text-anchor="middle" textLength="12.37" lengthAdjust="spacingAndGlyphs" fill="#262626">81</text>
<line x1="831.10" y1="1613.10" x2="831.10" y2="1615.70" stroke="#333" stroke-width="0.8"/>
<line x1="1068.40" y1="1613.10" x2="1068.40" y2="1615.70" stroke="#333" stroke-width="0.8"/>
<text x="831.10" y="1625.70" font-size="10.11" text-anchor="middle" textLength="12.37" lengthAdjust="spacingAndGlyphs" fill="#262626">82</text>
<line x1="861.70" y1="1613.10" x2="861.70" y2="1615.70" stroke="#333" stroke-width="0.8"/>
<line x1="1099.00" y1="1613.10" x2="1099.00" y2="1615.70" stroke="#333" stroke-width="0.8"/>
<text x="861.70" y="1625.70" font-size="10.11" text-anchor="middle" textLength="12.37" lengthAdjust="spacingAndGlyphs" fill="#262626">83</text>
<line x1="892.30" y1="1613.10" x2="892.30" y2="1615.70" stroke="#333" stroke-width="0.8"/>
<line x1="1129.60" y1="1613.10" x2="1129.60" y2="1615.70" stroke="#333" stroke-width="0.8"/>
<text x="892.30" y="1625.70" font-size="10.11" text-anchor="middle" textLength="12.37" lengthAdjust="spacingAndGlyphs" fill="#262626">84</text>
<text x="1055.50" y="1409.00" font-size="11.55" text-anchor="middle" textLength="121.91" lengthAdjust="spacingAndGlyphs" fill="#262626">SHAP Value=-4.70 kts</text>
<g filter="url(#fsh2)">
<rect x="925.50" y="1383.10" width="260.00" height="260.00" fill="#0a0a0a"/>
<ellipse cx="1055.5" cy="1508.1" rx="45" ry="50" fill="#1c1c1c"/>
</g>
<g clip-path="url(#csh2)"><g filter="url(#sblur)" stroke-linecap="round" fill="none">
<g stroke="#ff0000"><path d="M1074.1,1544.3l0.3,5.2" stroke-width="3.4" opacity="0.21"/><path d="M1055.1,1513.0l-2.4,-3.6" stroke-width="4.4" opacity="0.30"/><path d="M1059.5,1471.6l-0.7,-8.6" stroke-width="4.3" opacity="0.08"/><path d="M1022.3,1489.6l-2.3,-6.0" stroke-width="4.1" opacity="0.16"/><path d="M1053.8,1493.6l-1.3,-3.4" stroke-width="3.3" opacity="0.32"/><path d="M1093.7,1539.0l8.1,5.4" stroke-width="3.8" opacity="0.12"/><path d="M1059.9,1508.5l6.3,-4.0" stroke-width="3.9" opacity="0.35"/><path d="M1069.3,1489.2l6.6,-2.9" stroke-width="4.6" opacity="0.21"/><path d="M1111.3,1514.6l4.8,1.9" stroke-width="4.1" opacity="0.08"/><path d="M1045.8,1518.6l-4.0,3.1" stroke-width="4.3" opacity="0.22"/><path d="M1068.5,1474.0l2.0,-3.8" stroke-width="4.6" opacity="0.11"/><path d="M1025.7,1547.5l-4.0,9.5" stroke-width="3.0" opacity="0.14"/><path d="M1065.9,1492.9l-1.6,-9.1" stroke-width="3.6" opacity="0.23"/><path d="M1051.6,1473.4l-1.2,-9.8" stroke-width="3.3" opacity="0.12"/><path d="M1021.1,1507.9l-6.9,-3.0" stroke-width="3.9" opacity="0.18"/><path d="M1024.8,1546.1l-3.9,3.0" stroke-width="4.5" opacity="0.16"/><path d="M1077.5,1507.8l4.6,-4.8" stroke-width="4.3" opacity="0.37"/><path d="M1025.7,1505.5l-5.5,-0.2" stroke-width="3.4" opacity="0.13"/><path d="M1103.9,1514.3l8.7,1.3" stroke-width="4.6" opacity="0.10"/><path d="M1095.0,1495.8l4.7,-0.6" stroke-width="3.0" opacity="0.10"/><path d="M1026.7,1531.7l-7.7,-1.6" stroke-width="4.4" opacity="0.18"/><path d="M1033.0,1499.1l-5.9,-1.4" stroke-width="3.1" opacity="0.22"/><path d="M1073.8,1527.4l2.2,5.0" stroke-width="3.2" opacity="0.25"/><path d="M1060.1,1499.0l2.8,-3.6" stroke-width="3.3" opacity="0.33"/><path d="M1040.5,1549.7l2.8,8.2" stroke-width="3.8" opacity="0.09"/><path d="M1047.5,1500.2l-1.4,-3.3" stroke-width="4.6" opacity="0.37"/><path d="M1056.6,1533.6l-0.5,7.8" stroke-width="4.8" opacity="0.39"/><path d="M1030.8,1499.8l-4.0,-3.2" stroke-width="3.8" opacity="0.20"/><path d="M1012.3,1494.7l-10.4,-0.6" stroke-width="3.5" opacity="0.09"/><path d="M1046.1,1500.5l-0.9,-3.7" stroke-width="3.0" opacity="0.22"/><path d="M1024.7,1545.7l2.4,9.9" stroke-width="4.1" opacity="0.14"/><path d="M1032.8,1538.0l0.2,8.6" stroke-width="3.9" opacity="0.21"/><path d="M1026.3,1499.4l-5.8,-4.9" stroke-width="4.4" opacity="0.18"/><path d="M1036.3,1542.0l-3.4,7.0" stroke-width="3.1" opacity="0.17"/><path d="M1058.0,1509.4l4.7,-3.8" stroke-width="2.9" opacity="0.45"/><path d="M1032.5,1469.1l1.7,-10.2" stroke-width="3.5" opacity="0.09"/><path d="M1099.4,1510.0l7.0,1.6" stroke-width="4.3" opacity="0.15"/><path d="M1093.4,1552.7l4.1,2.8" stroke-width="2.8" opacity="0.08"/><path d="M1079.8,1530.7l4.4,4.3" stroke-width="2.8" opacity="0.24"/><path d="M1068.7,1501.3l3.0,-2.2" stroke-width="3.2" opacity="0.43"/><path d="M1083.5,1550.1l3.7,4.9" stroke-width="3.5" opacity="0.12"/><path d="M1048.7,1522.1l-2.3,3.5" stroke-width="4.6" opacity="0.39"/><path d="M1058.2,1553.9l3.9,5.0" stroke-width="4.1" opacity="0.17"/><path d="M1068.2,1522.8l5.1,1.3" stroke-width="3.2" opacity="0.39"/><path d="M1027.8,1490.7l-4.3,-1.1" stroke-width="3.9" opacity="0.26"/><path d="M1096.7,1520.3l9.5,2.7" stroke-width="4.4" opacity="0.14"/><path d="M1022.8,1514.1l-7.0,-6.9" stroke-width="4.4" opacity="0.28"/><path d="M1026.0,1482.4l-3.6,-3.2" stroke-width="3.7" opacity="0.08"/><path d="M1084.4,1486.8l6.3,-3.9" stroke-width="4.7" opacity="0.19"/><path d="M1083.2,1531.7l6.1,0.7" stroke-width="3.9" opacity="0.21"/><path d="M1053.5,1543.1l2.0,6.5" stroke-width="4.3" opacity="0.32"/><path d="M1071.2,1521.4l3.8,4.8" stroke-width="3.0" opacity="0.20"/><path d="M1028.1,1480.9l-4.0,-8.5" stroke-width="4.1" opacity="0.08"/><path d="M1020.1,1541.7l-5.4,5.0" stroke-width="3.8" opacity="0.12"/><path d="M1032.4,1550.0l-2.0,8.7" stroke-width="3.8" opacity="0.10"/><path d="M1030.2,1535.4l-4.5,1.1" stroke-width="3.4" opacity="0.21"/><path d="M1038.6,1490.1l-3.9,-3.5" stroke-width="4.2" opacity="0.23"/><path d="M1032.9,1510.2l-4.1,0.9" stroke-width="3.8" opacity="0.19"/><path d="M1098.1,1527.2l6.1,-0.3" stroke-width="3.6" opacity="0.07"/><path d="M1093.5,1542.2l6.4,6.1" stroke-width="3.3" opacity="0.07"/><path d="M1080.0,1559.9l4.0,7.9" stroke-width="4.4" opacity="0.09"/><path d="M1072.3,1546.3l5.8,5.7" stroke-width="4.4" opacity="0.14"/><path d="M1035.9,1553.5l-6.8,7.3" stroke-width="3.2" opacity="0.14"/><path d="M1066.8,1498.9l0.4,-8.6" stroke-width="4.0" opacity="0.22"/><path d="M1096.6,1489.4l9.7,-6.4" stroke-width="4.8" opacity="0.08"/></g>
<g stroke="#0000ff"><path d="M1057.9,1498.0l1.4,-7.8" stroke-width="3.2" opacity="0.47"/><path d="M1055.3,1488.1l2.7,-8.1" stroke-width="3.1" opacity="0.27"/><path d="M1028.3,1533.2l-4.4,3.8" stroke-width="4.4" opacity="0.28"/><path d="M1079.6,1544.8l7.1,5.4" stroke-width="3.2" opacity="0.12"/><path d="M1018.5,1492.1l-3.8,-5.2" stroke-width="3.0" opacity="0.08"/><path d="M1083.2,1521.2l9.6,0.9" stroke-width="4.2" opacity="0.30"/><path d="M1076.9,1478.7l3.4,-10.1" stroke-width="4.0" opacity="0.17"/><path d="M1074.0,1516.4l7.6,-0.1" stroke-width="3.8" opacity="0.35"/><path d="M1094.4,1479.1l5.2,-4.9" stroke-width="3.5" opacity="0.10"/><path d="M1031.4,1558.9l-2.7,7.8" stroke-width="3.8" opacity="0.07"/><path d="M1029.5,1477.8l-4.2,-5.1" stroke-width="3.3" opacity="0.10"/><path d="M1018.8,1545.7l-4.4,3.7" stroke-width="4.7" opacity="0.12"/><path d="M1050.5,1491.0l1.3,-6.1" stroke-width="4.6" opacity="0.41"/><path d="M1052.0,1533.5l-0.3,7.2" stroke-width="4.0" opacity="0.42"/><path d="M1049.4,1523.2l-6.1,4.0" stroke-width="3.8" opacity="0.50"/><path d="M1070.7,1520.4l5.1,2.1" stroke-width="3.2" opacity="0.28"/><path d="M1089.6,1499.2l8.9,-5.1" stroke-width="4.7" opacity="0.14"/><path d="M1047.9,1472.1l-5.3,-4.5" stroke-width="3.3" opacity="0.09"/><path d="M1023.3,1546.3l-4.3,10.8" stroke-width="3.5" opacity="0.11"/><path d="M1072.3,1519.6l6.1,3.3" stroke-width="3.8" opacity="0.30"/><path d="M1060.9,1494.3l-1.4,-8.5" stroke-width="3.0" opacity="0.21"/><path d="M1083.4,1527.1l8.2,5.7" stroke-width="3.6" opacity="0.14"/><path d="M1058.1,1494.7l0.6,-3.4" stroke-width="4.5" opacity="0.33"/><path d="M1036.5,1490.9l-1.4,-3.7" stroke-width="3.7" opacity="0.22"/><path d="M1078.5,1481.3l6.3,-4.2" stroke-width="4.3" opacity="0.13"/><path d="M1085.5,1529.0l-2.5,7.3" stroke-width="4.5" opacity="0.28"/><path d="M1053.6,1510.7l0.2,-7.0" stroke-width="2.8" opacity="0.48"/><path d="M1047.7,1548.5l-3.4,7.2" stroke-width="3.7" opacity="0.21"/><path d="M1043.0,1502.7l-7.4,-0.7" stroke-width="4.3" opacity="0.42"/><path d="M1065.9,1525.3l1.2,3.7" stroke-width="4.3" opacity="0.25"/><path d="M1074.4,1532.5l4.1,5.4" stroke-width="4.1" opacity="0.31"/><path d="M1034.0,1479.0l-3.9,-2.9" stroke-width="4.1" opacity="0.14"/><path d="M1054.4,1462.3l0.1,-6.5" stroke-width="3.3" opacity="0.10"/><path d="M1024.7,1483.2l-1.1,-11.3" stroke-width="4.2" opacity="0.10"/><path d="M1001.5,1529.2l-6.5,1.4" stroke-width="3.2" opacity="0.08"/><path d="M1029.5,1480.9l-8.9,-7.0" stroke-width="3.8" opacity="0.14"/><path d="M1030.0,1530.9l-2.7,4.8" stroke-width="3.9" opacity="0.18"/><path d="M1027.5,1496.5l-5.5,-2.1" stroke-width="3.1" opacity="0.17"/><path d="M1048.8,1525.4l-1.6,4.3" stroke-width="4.2" opacity="0.21"/><path d="M1016.0,1540.5l-4.6,-0.2" stroke-width="3.7" opacity="0.11"/><path d="M1027.8,1505.3l-3.4,-9.2" stroke-width="3.9" opacity="0.29"/><path d="M1106.9,1500.2l11.2,-3.0" stroke-width="3.4" opacity="0.07"/><path d="M1089.4,1487.4l3.2,-7.4" stroke-width="3.0" opacity="0.16"/><path d="M1036.2,1551.3l-1.4,7.6" stroke-width="4.8" opacity="0.09"/><path d="M1035.3,1490.1l-0.9,-7.3" stroke-width="3.3" opacity="0.22"/><path d="M1102.3,1498.3l10.9,1.3" stroke-width="3.2" opacity="0.07"/><path d="M1020.3,1554.2l-6.2,3.3" stroke-width="4.7" opacity="0.09"/><path d="M1031.0,1480.9l-4.1,-10.0" stroke-width="3.0" opacity="0.12"/><path d="M1061.9,1514.1l3.8,2.2" stroke-width="4.8" opacity="0.45"/><path d="M1097.7,1526.7l10.0,-0.5" stroke-width="4.2" opacity="0.09"/><path d="M1063.2,1506.2l3.5,-3.0" stroke-width="4.2" opacity="0.43"/><path d="M1110.8,1519.4l5.8,-2.5" stroke-width="3.9" opacity="0.08"/><path d="M1089.2,1488.7l3.9,-2.9" stroke-width="4.4" opacity="0.09"/><path d="M1029.5,1528.4l-6.0,1.6" stroke-width="4.1" opacity="0.25"/><path d="M1052.0,1548.4l-1.9,10.3" stroke-width="3.4" opacity="0.18"/><path d="M1031.9,1554.7l-2.7,10.4" stroke-width="3.8" opacity="0.07"/><path d="M1072.1,1529.7l3.6,-0.7" stroke-width="4.1" opacity="0.40"/><path d="M1047.0,1518.0l-5.0,-0.2" stroke-width="4.6" opacity="0.34"/><path d="M1063.4,1502.6l-0.4,-4.2" stroke-width="3.7" opacity="0.48"/><path d="M1057.6,1556.3l1.1,10.6" stroke-width="3.6" opacity="0.10"/><path d="M1051.7,1475.2l1.5,-10.1" stroke-width="4.4" opacity="0.21"/><path d="M1092.1,1508.4l10.1,2.2" stroke-width="2.9" opacity="0.14"/><path d="M1087.7,1492.9l4.6,-3.2" stroke-width="4.3" opacity="0.23"/><path d="M1032.9,1477.6l-7.0,-8.5" stroke-width="4.1" opacity="0.12"/><path d="M1066.6,1496.6l2.1,-3.5" stroke-width="4.2" opacity="0.27"/><path d="M1068.8,1532.3l6.0,6.0" stroke-width="3.8" opacity="0.26"/><path d="M1085.1,1517.8l5.0,-0.7" stroke-width="3.8" opacity="0.17"/><path d="M1076.7,1501.8l8.7,-3.6" stroke-width="2.8" opacity="0.35"/><path d="M1057.9,1508.2l-0.7,-3.6" stroke-width="4.3" opacity="0.55"/><path d="M1040.5,1506.9l-2.9,-2.2" stroke-width="3.9" opacity="0.46"/><path d="M1111.2,1504.5l4.4,-4.1" stroke-width="3.7" opacity="0.07"/><path d="M1051.4,1542.0l1.1,10.0" stroke-width="4.8" opacity="0.17"/><path d="M1105.0,1537.3l4.4,6.9" stroke-width="4.4" opacity="0.08"/><path d="M1012.7,1524.2l-9.4,4.0" stroke-width="4.5" opacity="0.13"/><path d="M1077.0,1476.4l7.3,-3.3" stroke-width="3.6" opacity="0.17"/><path d="M1081.5,1480.5l6.6,-3.9" stroke-width="3.3" opacity="0.16"/><path d="M1080.5,1511.0l8.4,2.2" stroke-width="4.6" opacity="0.29"/><path d="M1010.1,1479.1l-5.1,-3.6" stroke-width="4.5" opacity="0.08"/><path d="M1035.6,1549.3l-6.8,3.5" stroke-width="3.0" opacity="0.15"/><path d="M1066.3,1517.5l7.4,-1.7" stroke-width="4.4" opacity="0.49"/><path d="M1018.1,1522.1l-4.3,2.3" stroke-width="3.3" opacity="0.11"/><path d="M1091.9,1475.0l1.0,-6.4" stroke-width="3.3" opacity="0.10"/><path d="M1081.8,1553.0l2.8,9.6" stroke-width="2.9" opacity="0.11"/><path d="M1059.6,1542.7l2.5,7.6" stroke-width="3.7" opacity="0.23"/><path d="M1094.4,1538.1l6.0,2.1" stroke-width="3.7" opacity="0.13"/><path d="M1023.6,1527.9l-7.1,3.1" stroke-width="3.4" opacity="0.24"/><path d="M1053.2,1500.6l-1.6,-7.0" stroke-width="3.9" opacity="0.46"/><path d="M1047.8,1470.4l0.4,-8.8" stroke-width="3.1" opacity="0.13"/><path d="M1086.2,1495.3l9.0,-2.5" stroke-width="4.0" opacity="0.14"/><path d="M1031.8,1552.5l0.8,7.6" stroke-width="3.1" opacity="0.09"/><path d="M1057.8,1485.3l2.7,-8.3" stroke-width="2.9" opacity="0.15"/><path d="M1063.5,1494.1l5.6,-4.6" stroke-width="3.5" opacity="0.24"/><path d="M1045.9,1535.6l0.9,4.7" stroke-width="4.0" opacity="0.17"/><path d="M1088.7,1489.2l5.4,-4.9" stroke-width="3.8" opacity="0.18"/><path d="M1054.8,1492.9l-4.2,-7.7" stroke-width="3.9" opacity="0.40"/><path d="M1045.4,1467.2l-1.1,-11.6" stroke-width="4.0" opacity="0.07"/><path d="M1050.4,1477.4l1.0,-8.4" stroke-width="2.9" opacity="0.10"/><path d="M1035.4,1543.5l-3.8,4.9" stroke-width="3.3" opacity="0.20"/><path d="M1059.1,1497.3l2.6,-6.1" stroke-width="4.7" opacity="0.25"/><path d="M1022.1,1532.2l-6.2,4.1" stroke-width="3.2" opacity="0.16"/></g>
</g></g>
<rect x="955.50" y="1413.10" width="200.00" height="200.00" fill="none" stroke="#555" stroke-width="1.0"/>
<text x="818.20" y="1646.40" font-size="11.55" text-anchor="middle" textLength="79.16" lengthAdjust="spacingAndGlyphs" fill="#262626">9h old IR Data</text>
<g clip-path="url(#cir3)"><g filter="url(#fir3)">
<rect x="693.20" y="1625.50" width="250.00" height="250.00" fill="#242424"/>
<ellipse cx="768.2" cy="1800.5" rx="70" ry="55" fill="#333333"/>
<ellipse cx="848.2" cy="1775.5" rx="22" ry="12" fill="#3f3f3f"/>
<ellipse cx="788.2" cy="1745.5" rx="25" ry="15" fill="#333333"/>
<ellipse cx="888.2" cy="1710.5" rx="25" ry="50" fill="#292929" transform="rotate(20 888.2 1710.5)"/>
<ellipse cx="726.2" cy="1738.5" rx="8" ry="13" fill="#4e4e4e"/>
<ellipse cx="758.2" cy="1833.5" rx="28" ry="14" fill="#505050"/>
<ellipse cx="718.2" cy="1770.5" rx="2" ry="8" fill="#4e4e4e"/>
<polygon points="842.2,1810.5 868.2,1808.5 893.2,1802.5 924.2,1802.5 924.2,1856.5 838.2,1856.5" fill="#5e5e5e"/>
<ellipse cx="803.2" cy="1842.5" rx="20" ry="9" fill="#5c5c5c"/>
<ellipse cx="900.2" cy="1840.5" rx="30" ry="27" fill="#838383" stroke="#686868" stroke-width="4"/>
<ellipse cx="902.2" cy="1843.5" rx="21" ry="18" fill="#a9a9a9" stroke="#939393" stroke-width="4"/>
<ellipse cx="901.2" cy="1846.5" rx="13" ry="10" fill="#bcbcbc"/>
<polygon points="798.3,1798.2 801.5,1787.6 815.2,1782.3 828.0,1782.3 835.4,1791.8 832.2,1811.9 819.5,1824.7 812.1,1835.3 803.6,1821.5 799.3,1807.7" fill="#898989" stroke="#5c5c5c" stroke-width="4" stroke-linejoin="round"/>
<polygon points="802.3,1798.1 805.5,1790.5 816.3,1786.2 826.0,1786.2 831.4,1793.8 828.2,1810.0 817.4,1820.8 812.0,1827.2 806.6,1817.5 803.3,1806.7" fill="#bcbcbc" stroke="#9b9b9b" stroke-width="3" stroke-linejoin="round"/>
<ellipse cx="819.2" cy="1800.5" rx="4" ry="10" fill="#d0d0d0" transform="rotate(15 819.2 1800.5)"/>
<ellipse cx="849.2" cy="1797.5" rx="10" ry="9" fill="#818181" stroke="#5c5c5c" stroke-width="3"/>
<ellipse cx="850.2" cy="1798.5" rx="5" ry="3" fill="#a9a9a9" transform="rotate(20 850.2 1798.5)"/>
<ellipse cx="875.2" cy="1792.5" rx="14" ry="18" fill="#898989" stroke="#5c5c5c" stroke-width="4" transform="rotate(15 875.2 1792.5)"/>
<ellipse cx="875.2" cy="1792.5" rx="9.5" ry="13.5" fill="#bebebe" stroke="#9b9b9b" stroke-width="3" transform="rotate(15 875.2 1792.5)"/>
<ellipse cx="874.2" cy="1796.5" rx="5" ry="6" fill="#d0d0d0"/>
</g></g>
<rect x="718.20" y="1650.50" width="200.00" height="200.00" fill="none" stroke="#555" stroke-width="1.0"/>
<line x1="715.60" y1="1662.50" x2="718.20" y2="1662.50" stroke="#333" stroke-width="0.8"/>
<line x1="952.90" y1="1662.50" x2="955.50" y2="1662.50" stroke="#333" stroke-width="0.8"/>
<text x="711.80" y="1666.60" font-size="10.11" text-anchor="end" textLength="19.25" lengthAdjust="spacingAndGlyphs" fill="#262626">−10</text>
<line x1="715.60" y1="1693.90" x2="718.20" y2="1693.90" stroke="#333" stroke-width="0.8"/>
<line x1="952.90" y1="1693.90" x2="955.50" y2="1693.90" stroke="#333" stroke-width="0.8"/>
<text x="711.80" y="1698.00" font-size="10.11" text-anchor="end" textLength="19.25" lengthAdjust="spacingAndGlyphs" fill="#262626">−11</text>
<line x1="715.60" y1="1725.30" x2="718.20" y2="1725.30" stroke="#333" stroke-width="0.8"/>
<line x1="952.90" y1="1725.30" x2="955.50" y2="1725.30" stroke="#333" stroke-width="0.8"/>
<text x="711.80" y="1729.40" font-size="10.11" text-anchor="end" textLength="19.25" lengthAdjust="spacingAndGlyphs" fill="#262626">−12</text>
<line x1="715.60" y1="1756.70" x2="718.20" y2="1756.70" stroke="#333" stroke-width="0.8"/>
<line x1="952.90" y1="1756.70" x2="955.50" y2="1756.70" stroke="#333" stroke-width="0.8"/>
<text x="711.80" y="1760.80" font-size="10.11" text-anchor="end" textLength="19.25" lengthAdjust="spacingAndGlyphs" fill="#262626">−13</text>
<line x1="715.60" y1="1788.10" x2="718.20" y2="1788.10" stroke="#333" stroke-width="0.8"/>
<line x1="952.90" y1="1788.10" x2="955.50" y2="1788.10" stroke="#333" stroke-width="0.8"/>
<text x="711.80" y="1792.20" font-size="10.11" text-anchor="end" textLength="19.25" lengthAdjust="spacingAndGlyphs" fill="#262626">−14</text>
<line x1="715.60" y1="1819.50" x2="718.20" y2="1819.50" stroke="#333" stroke-width="0.8"/>
<line x1="952.90" y1="1819.50" x2="955.50" y2="1819.50" stroke="#333" stroke-width="0.8"/>
<text x="711.80" y="1823.60" font-size="10.11" text-anchor="end" textLength="19.25" lengthAdjust="spacingAndGlyphs" fill="#262626">−15</text>
<line x1="738.10" y1="1850.50" x2="738.10" y2="1853.10" stroke="#333" stroke-width="0.8"/>
<line x1="975.40" y1="1850.50" x2="975.40" y2="1853.10" stroke="#333" stroke-width="0.8"/>
<text x="738.10" y="1863.10" font-size="10.11" text-anchor="middle" textLength="12.37" lengthAdjust="spacingAndGlyphs" fill="#262626">79</text>
<line x1="768.70" y1="1850.50" x2="768.70" y2="1853.10" stroke="#333" stroke-width="0.8"/>
<line x1="1006.00" y1="1850.50" x2="1006.00" y2="1853.10" stroke="#333" stroke-width="0.8"/>
<text x="768.70" y="1863.10" font-size="10.11" text-anchor="middle" textLength="12.37" lengthAdjust="spacingAndGlyphs" fill="#262626">80</text>
<line x1="799.30" y1="1850.50" x2="799.30" y2="1853.10" stroke="#333" stroke-width="0.8"/>
<line x1="1036.60" y1="1850.50" x2="1036.60" y2="1853.10" stroke="#333" stroke-width="0.8"/>
<text x="799.30" y="1863.10" font-size="10.11" text-anchor="middle" textLength="12.37" lengthAdjust="spacingAndGlyphs" fill="#262626">81</text>
<line x1="829.90" y1="1850.50" x2="829.90" y2="1853.10" stroke="#333" stroke-width="0.8"/>
<line x1="1067.20" y1="1850.50" x2="1067.20" y2="1853.10" stroke="#333" stroke-width="0.8"/>
<text x="829.90" y="1863.10" font-size="10.11" text-anchor="middle" textLength="12.37" lengthAdjust="spacingAndGlyphs" fill="#262626">82</text>
<line x1="860.50" y1="1850.50" x2="860.50" y2="1853.10" stroke="#333" stroke-width="0.8"/>
<line x1="1097.80" y1="1850.50" x2="1097.80" y2="1853.10" stroke="#333" stroke-width="0.8"/>
<text x="860.50" y="1863.10" font-size="10.11" text-anchor="middle" textLength="12.37" lengthAdjust="spacingAndGlyphs" fill="#262626">83</text>
<line x1="891.10" y1="1850.50" x2="891.10" y2="1853.10" stroke="#333" stroke-width="0.8"/>
<line x1="1128.40" y1="1850.50" x2="1128.40" y2="1853.10" stroke="#333" stroke-width="0.8"/>
<text x="891.10" y="1863.10" font-size="10.11" text-anchor="middle" textLength="12.37" lengthAdjust="spacingAndGlyphs" fill="#262626">84</text>
<text x="1055.50" y="1646.40" font-size="11.55" text-anchor="middle" textLength="121.91" lengthAdjust="spacingAndGlyphs" fill="#262626">SHAP Value=-0.51 kts</text>
<g filter="url(#fsh3)">
<rect x="925.50" y="1620.50" width="260.00" height="260.00" fill="#0a0a0a"/>
<ellipse cx="1050.5" cy="1745.5" rx="50" ry="50" fill="#1c1c1c"/>
</g>
<g clip-path="url(#csh3)"><g filter="url(#sblur)" stroke-linecap="round" fill="none">
<g stroke="#ff0000"><path d="M1045.4,1692.9l-5.8,-9.9" stroke-width="4.4" opacity="0.07"/><path d="M1088.9,1768.2l1.4,6.5" stroke-width="3.5" opacity="0.08"/><path d="M1034.2,1765.1l-4.7,5.3" stroke-width="3.0" opacity="0.29"/><path d="M1085.6,1770.5l8.8,5.7" stroke-width="3.7" opacity="0.14"/><path d="M1052.4,1705.4l1.6,-4.7" stroke-width="4.7" opacity="0.12"/><path d="M1053.2,1689.4l-5.5,-8.0" stroke-width="4.8" opacity="0.07"/><path d="M1040.5,1789.6l-5.5,5.5" stroke-width="3.9" opacity="0.13"/><path d="M1076.1,1736.7l7.9,-2.6" stroke-width="3.1" opacity="0.26"/><path d="M1039.0,1713.7l-5.5,-6.0" stroke-width="3.9" opacity="0.12"/><path d="M1052.8,1712.7l4.1,-7.7" stroke-width="4.2" opacity="0.17"/><path d="M1012.2,1763.9l-6.8,2.2" stroke-width="4.7" opacity="0.08"/><path d="M1064.1,1795.1l1.9,9.3" stroke-width="4.2" opacity="0.12"/><path d="M1060.3,1775.8l0.7,4.5" stroke-width="3.9" opacity="0.16"/><path d="M1002.2,1742.3l-5.4,-0.7" stroke-width="3.2" opacity="0.12"/><path d="M1030.1,1716.7l-5.0,-2.0" stroke-width="3.2" opacity="0.13"/><path d="M1034.5,1759.4l-3.7,2.4" stroke-width="4.6" opacity="0.34"/><path d="M1074.3,1713.5l9.7,-2.2" stroke-width="4.5" opacity="0.14"/><path d="M1056.3,1800.3l-5.1,7.7" stroke-width="3.5" opacity="0.10"/><path d="M1078.2,1739.8l7.4,-4.3" stroke-width="4.5" opacity="0.21"/><path d="M1091.7,1765.5l4.5,2.4" stroke-width="3.3" opacity="0.15"/><path d="M1040.8,1779.3l-3.4,9.2" stroke-width="3.3" opacity="0.17"/><path d="M1024.6,1747.5l-9.3,2.1" stroke-width="2.9" opacity="0.21"/><path d="M1083.4,1773.0l10.1,4.9" stroke-width="3.5" opacity="0.17"/><path d="M1009.3,1789.0l-5.5,5.3" stroke-width="3.2" opacity="0.08"/><path d="M1024.0,1783.3l-9.5,3.6" stroke-width="3.8" opacity="0.13"/><path d="M1093.2,1740.0l10.5,3.4" stroke-width="4.5" opacity="0.10"/><path d="M1014.8,1735.4l-10.6,-3.1" stroke-width="3.8" opacity="0.09"/><path d="M1028.4,1718.0l-2.4,-4.0" stroke-width="3.8" opacity="0.11"/><path d="M1073.2,1768.1l3.1,3.4" stroke-width="3.5" opacity="0.16"/><path d="M1054.8,1788.3l0.1,5.1" stroke-width="4.0" opacity="0.12"/><path d="M1073.7,1781.4l-2.6,7.7" stroke-width="3.1" opacity="0.14"/><path d="M1050.4,1695.3l0.5,-9.0" stroke-width="4.8" opacity="0.10"/><path d="M1040.3,1748.5l-6.0,3.1" stroke-width="3.3" opacity="0.32"/><path d="M1084.7,1745.9l6.9,1.9" stroke-width="4.6" opacity="0.20"/><path d="M1066.6,1788.5l-0.1,4.4" stroke-width="3.6" opacity="0.11"/><path d="M1074.6,1774.9l5.2,5.1" stroke-width="4.0" opacity="0.14"/><path d="M1005.7,1763.6l-11.6,2.3" stroke-width="3.4" opacity="0.12"/><path d="M1074.5,1728.7l4.4,-3.5" stroke-width="4.7" opacity="0.26"/><path d="M1071.8,1739.0l6.6,-2.3" stroke-width="3.1" opacity="0.30"/><path d="M999.5,1754.4l-10.4,2.7" stroke-width="3.1" opacity="0.09"/><path d="M1075.3,1787.3l1.8,6.1" stroke-width="2.8" opacity="0.11"/><path d="M1045.0,1759.9l-3.3,5.2" stroke-width="3.1" opacity="0.45"/><path d="M1047.9,1792.7l3.1,9.3" stroke-width="2.9" opacity="0.08"/><path d="M1019.9,1718.8l-4.6,-4.8" stroke-width="3.2" opacity="0.15"/><path d="M1054.7,1792.5l-1.4,4.9" stroke-width="4.5" opacity="0.08"/><path d="M1077.7,1706.7l5.9,-9.9" stroke-width="4.6" opacity="0.09"/><path d="M1015.9,1754.1l-9.0,-1.4" stroke-width="4.4" opacity="0.20"/><path d="M1052.9,1781.1l-2.5,6.0" stroke-width="3.2" opacity="0.16"/><path d="M1056.4,1757.6l1.8,6.2" stroke-width="3.9" opacity="0.29"/><path d="M1094.7,1744.6l7.9,0.6" stroke-width="4.1" opacity="0.14"/><path d="M1071.2,1742.4l4.0,-2.5" stroke-width="3.5" opacity="0.20"/><path d="M1071.7,1775.9l1.8,4.3" stroke-width="2.9" opacity="0.12"/><path d="M1052.5,1760.3l1.6,2.9" stroke-width="4.8" opacity="0.35"/><path d="M1049.9,1791.0l-0.9,6.2" stroke-width="4.2" opacity="0.10"/><path d="M1033.1,1778.1l-5.6,4.1" stroke-width="4.3" opacity="0.19"/><path d="M1051.0,1762.6l-4.2,6.1" stroke-width="3.7" opacity="0.41"/><path d="M1097.1,1772.1l5.4,6.3" stroke-width="3.4" opacity="0.08"/><path d="M1032.4,1763.1l-4.4,5.9" stroke-width="4.6" opacity="0.15"/><path d="M1011.1,1745.4l-9.9,-4.7" stroke-width="2.9" opacity="0.10"/><path d="M1055.5,1751.8l2.7,3.9" stroke-width="4.7" opacity="0.39"/><path d="M1034.0,1766.5l-4.5,3.2" stroke-width="4.0" opacity="0.27"/><path d="M1077.1,1742.3l3.5,2.1" stroke-width="4.0" opacity="0.29"/><path d="M1006.8,1738.8l-8.9,-1.3" stroke-width="3.2" opacity="0.14"/><path d="M1024.7,1786.8l-4.0,9.1" stroke-width="3.8" opacity="0.12"/><path d="M1016.4,1752.7l-5.4,-3.6" stroke-width="4.3" opacity="0.25"/><path d="M1059.5,1712.9l2.8,-6.2" stroke-width="3.7" opacity="0.24"/><path d="M1051.8,1752.5l2.4,5.8" stroke-width="3.0" opacity="0.26"/><path d="M1067.6,1785.8l-0.1,8.0" stroke-width="3.9" opacity="0.13"/><path d="M1065.5,1733.1l1.6,-3.3" stroke-width="4.6" opacity="0.18"/><path d="M1028.3,1772.5l-1.1,9.8" stroke-width="4.6" opacity="0.19"/><path d="M1055.9,1720.7l-0.7,-6.3" stroke-width="3.2" opacity="0.31"/><path d="M1081.1,1778.8l3.5,10.2" stroke-width="3.6" opacity="0.15"/><path d="M1046.1,1747.0l-2.7,-1.5" stroke-width="4.0" opacity="0.34"/><path d="M1066.7,1710.2l3.7,-8.2" stroke-width="4.1" opacity="0.11"/><path d="M1073.4,1715.4l5.8,-7.0" stroke-width="4.2" opacity="0.20"/><path d="M1021.6,1765.8l-7.7,-4.5" stroke-width="3.5" opacity="0.22"/><path d="M1077.8,1727.6l5.1,-6.7" stroke-width="4.2" opacity="0.23"/><path d="M1021.8,1759.6l-5.0,1.6" stroke-width="3.7" opacity="0.17"/><path d="M1050.9,1745.0l2.9,-5.7" stroke-width="3.3" opacity="0.36"/><path d="M1050.9,1727.8l3.3,-4.6" stroke-width="3.0" opacity="0.40"/><path d="M1012.5,1765.7l-6.6,2.2" stroke-width="3.2" opacity="0.10"/><path d="M1036.1,1724.7l-6.4,-7.3" stroke-width="4.1" opacity="0.22"/><path d="M1039.9,1755.5l-5.5,2.7" stroke-width="3.6" opacity="0.44"/><path d="M1081.4,1790.8l2.9,6.5" stroke-width="4.4" opacity="0.11"/><path d="M1040.6,1769.1l-1.9,8.0" stroke-width="4.6" opacity="0.28"/><path d="M1026.3,1755.6l-6.2,1.3" stroke-width="3.5" opacity="0.35"/><path d="M1028.2,1717.4l-4.4,-4.5" stroke-width="3.6" opacity="0.12"/><path d="M1011.5,1747.5l-9.8,2.9" stroke-width="3.7" opacity="0.10"/><path d="M1047.5,1705.2l5.5,-7.7" stroke-width="3.9" opacity="0.18"/><path d="M1076.9,1753.3l8.6,2.0" stroke-width="3.3" opacity="0.28"/><path d="M1017.4,1712.6l-1.9,-8.3" stroke-width="4.2" opacity="0.10"/><path d="M1065.1,1754.4l7.0,2.0" stroke-width="4.2" opacity="0.42"/></g>
<g stroke="#0000ff"><path d="M1029.7,1736.2l-6.8,-1.3" stroke-width="2.9" opacity="0.33"/><path d="M1028.5,1742.5l-6.7,5.0" stroke-width="3.1" opacity="0.20"/><path d="M997.2,1761.6l-4.8,2.0" stroke-width="3.4" opacity="0.08"/><path d="M1067.6,1762.0l4.5,6.5" stroke-width="3.1" opacity="0.23"/><path d="M1064.9,1762.5l5.9,3.7" stroke-width="3.0" opacity="0.23"/><path d="M1034.1,1778.0l3.0,9.5" stroke-width="3.4" opacity="0.14"/><path d="M1021.5,1728.8l-4.2,-0.7" stroke-width="3.6" opacity="0.25"/><path d="M1047.1,1723.8l1.3,-6.7" stroke-width="3.3" opacity="0.30"/><path d="M1026.4,1743.3l-5.3,-1.7" stroke-width="4.6" opacity="0.22"/><path d="M1036.2,1725.9l-4.6,-2.2" stroke-width="4.4" opacity="0.19"/><path d="M1060.6,1729.4l3.4,-4.0" stroke-width="4.0" opacity="0.29"/><path d="M1034.2,1779.7l-2.3,5.7" stroke-width="3.6" opacity="0.16"/><path d="M1064.2,1699.0l0.6,-5.0" stroke-width="3.1" opacity="0.12"/><path d="M1080.8,1738.7l5.6,-2.2" stroke-width="4.7" opacity="0.31"/><path d="M1063.0,1795.1l-3.5,8.2" stroke-width="2.8" opacity="0.14"/><path d="M1017.5,1710.7l-6.8,-4.3" stroke-width="4.4" opacity="0.10"/><path d="M1039.8,1703.9l2.3,-7.3" stroke-width="3.8" opacity="0.08"/><path d="M1055.1,1753.1l7.0,1.0" stroke-width="3.9" opacity="0.39"/><path d="M1013.3,1769.2l-10.3,3.1" stroke-width="2.9" opacity="0.13"/><path d="M1072.8,1736.4l6.0,-2.2" stroke-width="4.7" opacity="0.30"/><path d="M1079.2,1744.7l6.3,-3.0" stroke-width="4.6" opacity="0.16"/><path d="M1039.2,1763.8l-8.1,2.0" stroke-width="3.2" opacity="0.17"/><path d="M1096.0,1739.6l5.1,-4.2" stroke-width="3.2" opacity="0.17"/><path d="M1037.9,1784.9l2.2,5.1" stroke-width="3.3" opacity="0.19"/><path d="M1055.6,1725.9l2.9,-6.8" stroke-width="4.5" opacity="0.23"/><path d="M1056.9,1790.2l3.4,4.9" stroke-width="4.5" opacity="0.15"/><path d="M1103.4,1743.0l8.0,-1.5" stroke-width="3.1" opacity="0.08"/><path d="M1023.4,1785.5l-6.6,0.4" stroke-width="4.5" opacity="0.13"/><path d="M1087.5,1763.0l10.5,2.0" stroke-width="4.7" opacity="0.09"/><path d="M1033.3,1782.8l-1.3,6.8" stroke-width="3.8" opacity="0.11"/><path d="M1084.3,1776.2l9.3,6.0" stroke-width="2.8" opacity="0.13"/><path d="M1016.4,1734.0l-4.5,-2.3" stroke-width="3.4" opacity="0.10"/><path d="M1044.1,1764.9l-2.5,3.2" stroke-width="2.9" opacity="0.20"/><path d="M1051.9,1726.0l-0.2,-6.1" stroke-width="4.1" opacity="0.36"/><path d="M1049.7,1776.4l-0.9,4.0" stroke-width="3.8" opacity="0.35"/><path d="M1030.4,1709.2l-1.9,-8.0" stroke-width="2.9" opacity="0.13"/><path d="M1052.8,1774.8l3.8,6.9" stroke-width="4.1" opacity="0.27"/><path d="M1061.3,1761.6l5.8,4.5" stroke-width="4.0" opacity="0.19"/><path d="M1043.1,1792.5l-1.7,5.2" stroke-width="3.4" opacity="0.15"/><path d="M1069.7,1763.8l6.0,0.1" stroke-width="3.4" opacity="0.38"/><path d="M1063.3,1703.5l0.9,-9.1" stroke-width="4.3" opacity="0.11"/><path d="M1045.8,1762.5l-1.5,5.9" stroke-width="4.2" opacity="0.29"/><path d="M1031.0,1775.2l-3.0,5.6" stroke-width="3.9" opacity="0.18"/><path d="M1053.3,1747.2l2.7,-0.7" stroke-width="3.9" opacity="0.24"/><path d="M1074.8,1746.5l7.0,-3.9" stroke-width="2.8" opacity="0.37"/><path d="M1046.9,1756.2l-0.3,3.2" stroke-width="4.7" opacity="0.43"/><path d="M1051.5,1738.1l-4.1,-5.3" stroke-width="2.9" opacity="0.40"/><path d="M1071.3,1756.1l7.3,5.3" stroke-width="4.3" opacity="0.18"/><path d="M1008.6,1760.5l-10.3,-3.9" stroke-width="3.7" opacity="0.10"/><path d="M1020.5,1747.9l-6.0,-4.9" stroke-width="3.6" opacity="0.14"/><path d="M1083.1,1763.4l9.8,3.7" stroke-width="4.3" opacity="0.14"/><path d="M1082.5,1772.9l0.9,8.8" stroke-width="4.1" opacity="0.17"/><path d="M1031.6,1715.9l1.8,-7.8" stroke-width="4.5" opacity="0.19"/><path d="M1084.1,1759.3l5.5,1.8" stroke-width="4.5" opacity="0.19"/><path d="M1033.0,1715.8l-3.7,-6.5" stroke-width="4.4" opacity="0.09"/><path d="M1035.7,1728.7l-1.2,-9.4" stroke-width="3.6" opacity="0.25"/><path d="M1010.1,1749.4l-7.2,1.6" stroke-width="4.7" opacity="0.18"/><path d="M1074.6,1739.2l8.6,-1.7" stroke-width="4.0" opacity="0.21"/><path d="M1035.5,1732.9l-4.9,-6.5" stroke-width="4.7" opacity="0.38"/><path d="M1020.2,1738.4l-9.8,-1.1" stroke-width="4.6" opacity="0.16"/><path d="M1048.1,1782.9l-1.1,7.3" stroke-width="3.2" opacity="0.17"/><path d="M1035.1,1741.0l-2.9,-5.6" stroke-width="4.3" opacity="0.20"/><path d="M1057.8,1692.7l5.5,-8.1" stroke-width="3.5" opacity="0.07"/><path d="M1043.7,1717.0l0.6,-9.1" stroke-width="3.3" opacity="0.22"/><path d="M1074.5,1734.9l6.3,-3.8" stroke-width="4.7" opacity="0.17"/><path d="M1028.7,1768.4l-2.0,4.5" stroke-width="2.9" opacity="0.28"/><path d="M1006.2,1760.2l-5.5,2.0" stroke-width="4.3" opacity="0.10"/><path d="M1028.0,1714.1l-0.0,-8.5" stroke-width="4.0" opacity="0.09"/><path d="M1089.1,1772.2l11.4,0.8" stroke-width="2.9" opacity="0.13"/><path d="M1067.6,1724.9l5.6,-6.3" stroke-width="4.8" opacity="0.21"/><path d="M1041.3,1788.8l-2.7,6.5" stroke-width="3.2" opacity="0.13"/><path d="M1041.5,1788.9l2.0,9.4" stroke-width="3.4" opacity="0.17"/><path d="M1075.8,1764.4l8.2,1.1" stroke-width="4.7" opacity="0.22"/><path d="M1090.0,1754.9l4.4,2.6" stroke-width="3.3" opacity="0.13"/><path d="M1015.3,1766.6l-6.4,5.0" stroke-width="3.4" opacity="0.09"/><path d="M1070.3,1772.0l3.7,6.7" stroke-width="3.9" opacity="0.16"/><path d="M1081.9,1733.8l4.7,-4.5" stroke-width="3.3" opacity="0.28"/><path d="M1017.9,1745.5l-9.6,4.1" stroke-width="3.3" opacity="0.21"/></g>
</g></g>
<rect x="955.50" y="1650.50" width="200.00" height="200.00" fill="none" stroke="#555" stroke-width="1.0"/>
<text x="818.20" y="1884.00" font-size="11.55" text-anchor="middle" textLength="86.23" lengthAdjust="spacingAndGlyphs" fill="#262626">12h old IR Data</text>
<g clip-path="url(#cir4)"><g filter="url(#fir4)">
<rect x="693.20" y="1863.10" width="250.00" height="250.00" fill="#252525"/>
<polygon points="718.2,1998.1 778.2,1983.1 813.2,1948.1 828.2,1978.1 868.2,2028.1 923.2,2038.1 923.2,2093.1 718.2,2093.1" fill="#393939"/>
<ellipse cx="823.2" cy="2048.1" rx="45" ry="18" fill="#404040"/>
<ellipse cx="768.2" cy="2028.1" rx="30" ry="14" fill="#3f3f3f" transform="rotate(-20 768.2 2028.1)"/>
<ellipse cx="803.2" cy="1948.1" rx="6" ry="25" fill="#3b3b3b" transform="rotate(20 803.2 1948.1)"/>
<ellipse cx="903.2" cy="1913.1" rx="5" ry="30" fill="#393939" transform="rotate(20 903.2 1913.1)"/>
<ellipse cx="748.2" cy="2073.1" rx="25" ry="20" fill="#232323"/>
<ellipse cx="740.2" cy="2018.1" rx="20" ry="8" fill="#4e4e4e" transform="rotate(-25 740.2 2018.1)"/>
<ellipse cx="733.2" cy="2038.1" rx="12" ry="5" fill="#4e4e4e"/>
<ellipse cx="726.2" cy="1978.1" rx="4" ry="3" fill="#4e4e4e"/>
<ellipse cx="726.2" cy="2050.1" rx="8" ry="4" fill="#4e4e4e"/>
<polygon points="751.2,2058.1 768.2,2056.1 778.2,2073.1 803.2,2068.1 818.2,2060.1 838.2,2066.1 868.2,2058.1 878.2,2093.1 763.2,2093.1" fill="#545454"/>
<ellipse cx="791.2" cy="2013.1" rx="7" ry="12" fill="#626262" transform="rotate(25 791.2 2013.1)"/>
<ellipse cx="803.2" cy="2021.1" rx="8" ry="4" fill="#5e5e5e"/>
<ellipse cx="818.2" cy="2013.1" rx="12" ry="6" fill="#525252"/>
<ellipse cx="830.2" cy="2023.1" rx="6" ry="22" fill="#5e5e5e"/>
<ellipse cx="868.2" cy="2023.1" rx="8" ry="11" fill="#5e5e5e" transform="rotate(-30 868.2 2023.1)"/>
<ellipse cx="828.2" cy="2036.1" rx="10" ry="7" fill="#5e5e5e"/>
<ellipse cx="824.2" cy="2058.1" rx="5" ry="9" fill="#626262" transform="rotate(10 824.2 2058.1)"/>
<ellipse cx="778.2" cy="2076.1" rx="14" ry="12" fill="#5e5e5e" transform="rotate(30 778.2 2076.1)"/>
<ellipse cx="792.2" cy="2012.1" rx="2" ry="6" fill="#818181" transform="rotate(20 792.2 2012.1)"/>
<ellipse cx="803.2" cy="2021.1" rx="5" ry="2" fill="#818181"/>
<ellipse cx="825.2" cy="2059.1" rx="1.5" ry="5" fill="#7e7e7e" transform="rotate(10 825.2 2059.1)"/>
<ellipse cx="828.2" cy="2036.1" rx="4" ry="3" fill="#a9a9a9"/>
<ellipse cx="896.2" cy="2071.1" rx="25" ry="24" fill="#878787" stroke="#5c5c5c" stroke-width="5"/>
<ellipse cx="896.2" cy="2072.1" rx="17" ry="17" fill="#bcbcbc" stroke="#9b9b9b" stroke-width="4"/>
<ellipse cx="893.2" cy="2067.1" rx="9" ry="7" fill="#d0d0d0"/>
</g></g>
<rect x="718.20" y="1888.10" width="200.00" height="200.00" fill="none" stroke="#555" stroke-width="1.0"/>
<line x1="715.60" y1="1909.30" x2="718.20" y2="1909.30" stroke="#333" stroke-width="0.8"/>
<line x1="952.90" y1="1909.30" x2="955.50" y2="1909.30" stroke="#333" stroke-width="0.8"/>
<text x="711.80" y="1913.40" font-size="10.11" text-anchor="end" textLength="19.25" lengthAdjust="spacingAndGlyphs" fill="#262626">−10</text>
<line x1="715.60" y1="1940.60" x2="718.20" y2="1940.60" stroke="#333" stroke-width="0.8"/>
<line x1="952.90" y1="1940.60" x2="955.50" y2="1940.60" stroke="#333" stroke-width="0.8"/>
<text x="711.80" y="1944.70" font-size="10.11" text-anchor="end" textLength="19.25" lengthAdjust="spacingAndGlyphs" fill="#262626">−11</text>
<line x1="715.60" y1="1971.90" x2="718.20" y2="1971.90" stroke="#333" stroke-width="0.8"/>
<line x1="952.90" y1="1971.90" x2="955.50" y2="1971.90" stroke="#333" stroke-width="0.8"/>
<text x="711.80" y="1976.00" font-size="10.11" text-anchor="end" textLength="19.25" lengthAdjust="spacingAndGlyphs" fill="#262626">−12</text>
<line x1="715.60" y1="2003.20" x2="718.20" y2="2003.20" stroke="#333" stroke-width="0.8"/>
<line x1="952.90" y1="2003.20" x2="955.50" y2="2003.20" stroke="#333" stroke-width="0.8"/>
<text x="711.80" y="2007.30" font-size="10.11" text-anchor="end" textLength="19.25" lengthAdjust="spacingAndGlyphs" fill="#262626">−13</text>
<line x1="715.60" y1="2034.50" x2="718.20" y2="2034.50" stroke="#333" stroke-width="0.8"/>
<line x1="952.90" y1="2034.50" x2="955.50" y2="2034.50" stroke="#333" stroke-width="0.8"/>
<text x="711.80" y="2038.60" font-size="10.11" text-anchor="end" textLength="19.25" lengthAdjust="spacingAndGlyphs" fill="#262626">−14</text>
<line x1="715.60" y1="2065.80" x2="718.20" y2="2065.80" stroke="#333" stroke-width="0.8"/>
<line x1="952.90" y1="2065.80" x2="955.50" y2="2065.80" stroke="#333" stroke-width="0.8"/>
<text x="711.80" y="2069.90" font-size="10.11" text-anchor="end" textLength="19.25" lengthAdjust="spacingAndGlyphs" fill="#262626">−15</text>
<line x1="733.50" y1="2088.10" x2="733.50" y2="2090.70" stroke="#333" stroke-width="0.8"/>
<line x1="970.80" y1="2088.10" x2="970.80" y2="2090.70" stroke="#333" stroke-width="0.8"/>
<text x="733.50" y="2100.70" font-size="10.11" text-anchor="middle" textLength="12.37" lengthAdjust="spacingAndGlyphs" fill="#262626">79</text>
<line x1="764.00" y1="2088.10" x2="764.00" y2="2090.70" stroke="#333" stroke-width="0.8"/>
<line x1="1001.30" y1="2088.10" x2="1001.30" y2="2090.70" stroke="#333" stroke-width="0.8"/>
<text x="764.00" y="2100.70" font-size="10.11" text-anchor="middle" textLength="12.37" lengthAdjust="spacingAndGlyphs" fill="#262626">80</text>
<line x1="794.50" y1="2088.10" x2="794.50" y2="2090.70" stroke="#333" stroke-width="0.8"/>
<line x1="1031.80" y1="2088.10" x2="1031.80" y2="2090.70" stroke="#333" stroke-width="0.8"/>
<text x="794.50" y="2100.70" font-size="10.11" text-anchor="middle" textLength="12.37" lengthAdjust="spacingAndGlyphs" fill="#262626">81</text>
<line x1="825.00" y1="2088.10" x2="825.00" y2="2090.70" stroke="#333" stroke-width="0.8"/>
<line x1="1062.30" y1="2088.10" x2="1062.30" y2="2090.70" stroke="#333" stroke-width="0.8"/>
<text x="825.00" y="2100.70" font-size="10.11" text-anchor="middle" textLength="12.37" lengthAdjust="spacingAndGlyphs" fill="#262626">82</text>
<line x1="855.50" y1="2088.10" x2="855.50" y2="2090.70" stroke="#333" stroke-width="0.8"/>
<line x1="1092.80" y1="2088.10" x2="1092.80" y2="2090.70" stroke="#333" stroke-width="0.8"/>
<text x="855.50" y="2100.70" font-size="10.11" text-anchor="middle" textLength="12.37" lengthAdjust="spacingAndGlyphs" fill="#262626">83</text>
<line x1="886.00" y1="2088.10" x2="886.00" y2="2090.70" stroke="#333" stroke-width="0.8"/>
<line x1="1123.30" y1="2088.10" x2="1123.30" y2="2090.70" stroke="#333" stroke-width="0.8"/>
<text x="886.00" y="2100.70" font-size="10.11" text-anchor="middle" textLength="12.37" lengthAdjust="spacingAndGlyphs" fill="#262626">84</text>
<line x1="916.50" y1="2088.10" x2="916.50" y2="2090.70" stroke="#333" stroke-width="0.8"/>
<line x1="1153.80" y1="2088.10" x2="1153.80" y2="2090.70" stroke="#333" stroke-width="0.8"/>
<text x="916.50" y="2100.70" font-size="10.11" text-anchor="middle" textLength="12.37" lengthAdjust="spacingAndGlyphs" fill="#262626">85</text>
<text x="1055.50" y="1884.00" font-size="11.55" text-anchor="middle" textLength="128.98" lengthAdjust="spacingAndGlyphs" fill="#262626">SHAP Value=-20.61 kts</text>
<g filter="url(#fsh4)">
<rect x="925.50" y="1858.10" width="260.00" height="260.00" fill="#111111"/>
<ellipse cx="1055.5" cy="1983.1" rx="70" ry="65" fill="#383838"/>
</g>
<g clip-path="url(#csh4)"><g filter="url(#sblur)" stroke-linecap="round" fill="none">
<g stroke="#ff0000"><path d="M1019.9,1932.1l-6.1,-8.7" stroke-width="4.0" opacity="0.25"/><path d="M1024.8,2045.6l-4.6,7.9" stroke-width="4.7" opacity="0.16"/><path d="M1082.3,1957.4l5.7,-8.2" stroke-width="3.4" opacity="0.66"/><path d="M990.8,1991.4l-11.0,5.5" stroke-width="3.7" opacity="0.28"/><path d="M1101.2,2046.7l0.7,7.9" stroke-width="3.2" opacity="0.10"/><path d="M1020.6,1924.2l-5.1,-6.3" stroke-width="4.0" opacity="0.20"/><path d="M1059.4,1985.9l3.8,4.5" stroke-width="3.4" opacity="0.53"/><path d="M1019.5,2038.3l0.4,5.7" stroke-width="4.6" opacity="0.16"/><path d="M1058.9,1977.4l-0.4,-5.1" stroke-width="4.1" opacity="0.82"/><path d="M1001.5,1965.7l-7.6,-2.1" stroke-width="3.2" opacity="0.45"/><path d="M1054.0,2031.9l-1.8,4.6" stroke-width="2.9" opacity="0.31"/><path d="M973.3,1984.3l-8.9,-2.1" stroke-width="4.5" opacity="0.08"/><path d="M1011.1,2027.5l-6.9,9.7" stroke-width="3.5" opacity="0.32"/><path d="M1101.2,1941.1l4.7,-3.6" stroke-width="3.0" opacity="0.39"/><path d="M1052.0,1945.3l5.0,-4.9" stroke-width="2.9" opacity="0.78"/><path d="M1053.0,1942.3l-3.6,-6.3" stroke-width="3.2" opacity="0.50"/><path d="M1057.2,2048.3l2.2,6.3" stroke-width="3.0" opacity="0.27"/><path d="M1072.7,1949.6l0.2,-5.1" stroke-width="3.0" opacity="0.71"/><path d="M1063.8,1963.5l8.7,-1.8" stroke-width="3.4" opacity="0.83"/><path d="M1002.2,1922.3l-7.7,-5.3" stroke-width="2.9" opacity="0.09"/><path d="M1076.5,1917.5l-4.3,-8.9" stroke-width="3.6" opacity="0.24"/><path d="M1107.1,1953.4l9.8,-6.2" stroke-width="2.8" opacity="0.23"/><path d="M1057.8,2025.8l4.2,6.8" stroke-width="4.1" opacity="0.37"/><path d="M1005.3,2017.3l-9.5,0.1" stroke-width="3.8" opacity="0.39"/><path d="M977.5,2038.9l-14.2,5.8" stroke-width="3.7" opacity="0.07"/><path d="M1093.1,2006.1l9.7,1.7" stroke-width="3.9" opacity="0.37"/><path d="M1111.7,1955.1l9.3,-0.9" stroke-width="4.4" opacity="0.33"/><path d="M1014.3,1938.8l-5.0,-9.5" stroke-width="3.7" opacity="0.35"/><path d="M1112.7,2052.3l8.9,5.7" stroke-width="4.5" opacity="0.11"/><path d="M1025.1,1914.7l-8.4,-12.0" stroke-width="3.5" opacity="0.18"/><path d="M1101.4,1935.5l7.8,-4.0" stroke-width="2.8" opacity="0.23"/><path d="M1068.0,1965.6l2.2,-3.3" stroke-width="3.5" opacity="0.75"/><path d="M1060.6,2047.3l3.1,11.4" stroke-width="2.8" opacity="0.32"/><path d="M1115.7,1988.1l6.0,-3.0" stroke-width="3.0" opacity="0.37"/><path d="M1039.8,1941.6l0.2,-10.1" stroke-width="4.0" opacity="0.63"/><path d="M1054.0,2005.1l-7.0,4.4" stroke-width="4.5" opacity="0.99"/><path d="M1038.2,1970.7l-4.3,-1.7" stroke-width="4.2" opacity="0.98"/><path d="M1114.8,1997.6l7.1,1.1" stroke-width="3.2" opacity="0.28"/><path d="M1045.8,1951.9l-1.4,-4.8" stroke-width="4.2" opacity="0.81"/><path d="M1128.7,1954.2l11.6,-7.1" stroke-width="3.1" opacity="0.13"/><path d="M1036.9,2014.8l-6.0,4.4" stroke-width="3.6" opacity="0.57"/><path d="M1082.4,2021.5l7.8,5.8" stroke-width="4.3" opacity="0.60"/><path d="M1009.7,1954.3l-9.2,-8.7" stroke-width="4.6" opacity="0.30"/><path d="M1015.6,2036.7l-0.5,6.4" stroke-width="3.3" opacity="0.34"/><path d="M1045.2,2016.2l-4.5,5.2" stroke-width="4.3" opacity="0.56"/><path d="M1048.7,2063.7l-7.1,9.1" stroke-width="3.6" opacity="0.08"/><path d="M1099.8,1996.0l7.6,2.3" stroke-width="4.7" opacity="0.45"/><path d="M1105.3,2018.9l10.2,5.3" stroke-width="3.3" opacity="0.37"/><path d="M1001.3,1995.6l-9.7,-1.4" stroke-width="4.0" opacity="0.34"/><path d="M1084.4,1943.5l9.1,-8.1" stroke-width="4.4" opacity="0.47"/><path d="M1082.2,2012.8l2.9,9.3" stroke-width="4.4" opacity="0.67"/><path d="M1075.0,2044.3l2.4,12.2" stroke-width="3.7" opacity="0.25"/><path d="M1040.8,2015.8l-0.9,9.3" stroke-width="2.9" opacity="0.52"/><path d="M1032.3,1966.7l-2.9,-3.0" stroke-width="3.4" opacity="0.96"/><path d="M1053.3,1997.4l-0.4,3.3" stroke-width="4.2" opacity="0.66"/><path d="M1033.6,1974.7l-8.3,-4.7" stroke-width="4.1" opacity="0.70"/><path d="M1023.2,1968.9l-8.5,-2.6" stroke-width="3.0" opacity="0.53"/><path d="M1124.3,2023.8l8.6,4.2" stroke-width="4.3" opacity="0.08"/><path d="M1111.1,2040.1l7.9,10.5" stroke-width="3.2" opacity="0.14"/><path d="M1104.1,1943.0l8.3,-10.4" stroke-width="3.1" opacity="0.20"/><path d="M1051.8,2075.4l-4.8,8.2" stroke-width="4.0" opacity="0.08"/><path d="M1025.0,1990.7l-4.6,2.0" stroke-width="3.2" opacity="0.79"/><path d="M1079.6,2027.3l7.8,7.9" stroke-width="4.6" opacity="0.49"/><path d="M1038.3,1933.6l-5.0,-6.8" stroke-width="3.5" opacity="0.46"/><path d="M1020.0,1995.4l-5.6,2.1" stroke-width="4.5" opacity="0.51"/><path d="M1054.1,1934.2l-1.4,-10.7" stroke-width="3.5" opacity="0.57"/><path d="M978.9,2043.2l-5.5,6.0" stroke-width="4.0" opacity="0.09"/><path d="M1056.9,1990.8l0.2,3.7" stroke-width="3.2" opacity="1.00"/><path d="M1114.8,1936.1l5.4,-7.0" stroke-width="4.5" opacity="0.12"/><path d="M1098.9,2000.9l6.4,2.9" stroke-width="4.3" opacity="0.44"/><path d="M1034.5,1924.0l-9.5,-7.2" stroke-width="3.5" opacity="0.19"/><path d="M1110.8,2025.2l6.7,4.5" stroke-width="3.7" opacity="0.18"/><path d="M989.4,1978.9l-7.6,-0.0" stroke-width="3.1" opacity="0.29"/><path d="M1073.2,1973.5l3.5,-0.2" stroke-width="3.3" opacity="1.00"/><path d="M1002.8,1925.7l-10.9,-9.9" stroke-width="3.4" opacity="0.08"/><path d="M1009.6,2066.3l-9.8,8.7" stroke-width="4.4" opacity="0.07"/><path d="M1080.9,2053.0l2.1,7.2" stroke-width="3.9" opacity="0.11"/><path d="M1101.4,1924.6l-2.2,-10.2" stroke-width="3.7" opacity="0.22"/><path d="M1046.6,2042.2l-8.2,8.7" stroke-width="3.4" opacity="0.38"/><path d="M1145.1,1959.9l6.9,-1.2" stroke-width="3.8" opacity="0.11"/><path d="M990.3,1966.7l-13.2,-2.0" stroke-width="3.9" opacity="0.21"/><path d="M1067.8,2065.1l4.9,7.5" stroke-width="3.4" opacity="0.13"/><path d="M1104.2,1926.7l0.1,-10.9" stroke-width="3.6" opacity="0.22"/><path d="M1113.8,1947.7l7.1,-3.9" stroke-width="4.7" opacity="0.24"/><path d="M1063.9,1903.0l0.3,-11.7" stroke-width="4.1" opacity="0.10"/><path d="M1102.3,1959.4l11.7,3.1" stroke-width="4.5" opacity="0.32"/><path d="M1037.7,2052.7l-7.7,10.2" stroke-width="4.7" opacity="0.17"/><path d="M1066.3,1985.6l4.4,1.5" stroke-width="4.2" opacity="0.66"/><path d="M1055.2,1926.6l-6.3,-10.2" stroke-width="4.0" opacity="0.40"/><path d="M987.2,1951.0l-4.7,-5.0" stroke-width="4.5" opacity="0.16"/><path d="M1015.9,1965.9l-8.0,2.2" stroke-width="3.8" opacity="0.33"/><path d="M1059.4,1929.2l2.1,-6.2" stroke-width="3.4" opacity="0.22"/><path d="M1074.5,2012.5l3.1,3.3" stroke-width="4.5" opacity="0.60"/><path d="M1007.1,2023.4l-9.3,9.0" stroke-width="2.8" opacity="0.15"/><path d="M1054.2,2041.0l-2.2,11.5" stroke-width="2.9" opacity="0.33"/><path d="M1096.5,1978.5l8.0,5.9" stroke-width="3.8" opacity="0.70"/><path d="M1037.9,1914.6l-0.6,-10.2" stroke-width="3.7" opacity="0.27"/><path d="M1071.3,2016.3l4.3,9.3" stroke-width="4.7" opacity="0.59"/><path d="M1097.3,1955.9l8.8,-7.7" stroke-width="3.4" opacity="0.24"/><path d="M988.9,1988.4l-6.4,-1.9" stroke-width="4.6" opacity="0.14"/><path d="M1087.8,1941.9l4.8,-11.3" stroke-width="3.4" opacity="0.51"/><path d="M1029.3,2013.4l-2.9,7.0" stroke-width="4.1" opacity="0.43"/><path d="M1087.5,1923.2l6.9,-9.0" stroke-width="3.9" opacity="0.16"/><path d="M1062.9,2052.0l2.6,7.6" stroke-width="4.3" opacity="0.26"/><path d="M1079.5,2022.8l5.0,6.3" stroke-width="3.2" opacity="0.36"/><path d="M1067.1,1923.0l2.1,-5.8" stroke-width="3.4" opacity="0.19"/><path d="M1067.9,2024.8l3.1,5.1" stroke-width="4.8" opacity="0.68"/><path d="M1091.0,1949.6l4.8,-5.3" stroke-width="2.9" opacity="0.39"/><path d="M1055.2,1978.2l-4.7,-2.2" stroke-width="3.5" opacity="1.00"/><path d="M1048.4,1990.4l-5.8,0.1" stroke-width="4.3" opacity="0.63"/><path d="M1106.9,2035.1l5.8,7.7" stroke-width="3.1" opacity="0.26"/><path d="M1089.4,2013.3l5.7,4.7" stroke-width="3.8" opacity="0.46"/><path d="M1115.8,1965.7l7.8,-9.5" stroke-width="3.3" opacity="0.18"/><path d="M1014.5,2038.0l-4.8,5.3" stroke-width="3.2" opacity="0.23"/><path d="M1119.5,1978.1l6.9,0.3" stroke-width="2.9" opacity="0.24"/><path d="M1005.3,1994.5l-7.1,1.9" stroke-width="4.2" opacity="0.39"/><path d="M1010.0,1981.6l-3.9,3.1" stroke-width="3.7" opacity="0.59"/><path d="M1066.2,1963.5l4.1,-2.6" stroke-width="3.7" opacity="0.55"/></g>
<g stroke="#0000ff"><path d="M1091.1,2017.9l6.1,1.1" stroke-width="3.2" opacity="0.60"/><path d="M1017.5,2038.1l-3.9,7.2" stroke-width="3.0" opacity="0.15"/><path d="M1083.6,1910.9l2.4,-12.6" stroke-width="3.3" opacity="0.15"/><path d="M1015.9,2026.2l-2.9,5.0" stroke-width="4.0" opacity="0.44"/><path d="M1069.1,1946.1l5.7,-7.1" stroke-width="4.5" opacity="0.53"/><path d="M1021.0,2048.2l-11.9,7.4" stroke-width="3.2" opacity="0.20"/><path d="M995.2,1918.8l-9.9,-1.1" stroke-width="3.4" opacity="0.11"/><path d="M1078.7,2011.4l7.0,3.5" stroke-width="2.9" opacity="0.79"/><path d="M1001.6,1956.9l-3.5,-5.2" stroke-width="4.2" opacity="0.29"/><path d="M1091.6,1998.0l8.4,4.8" stroke-width="3.7" opacity="0.74"/><path d="M1091.0,1949.6l4.4,-4.1" stroke-width="3.3" opacity="0.46"/><path d="M1014.1,2062.5l-1.1,10.4" stroke-width="3.7" opacity="0.10"/><path d="M1097.2,1944.3l10.9,0.9" stroke-width="3.2" opacity="0.34"/><path d="M1066.5,1941.1l5.8,-6.0" stroke-width="4.3" opacity="0.53"/><path d="M1084.0,2008.0l3.4,2.8" stroke-width="3.5" opacity="0.51"/><path d="M1105.6,2013.0l7.0,6.8" stroke-width="3.3" opacity="0.25"/><path d="M1120.9,2001.2l8.3,3.6" stroke-width="4.8" opacity="0.17"/><path d="M1099.8,1974.5l9.3,-3.6" stroke-width="4.5" opacity="0.29"/><path d="M1080.2,2052.6l-6.0,11.4" stroke-width="4.3" opacity="0.22"/><path d="M1087.6,1992.5l7.1,2.9" stroke-width="3.0" opacity="0.46"/><path d="M1060.9,1943.3l1.4,-8.9" stroke-width="4.8" opacity="0.31"/><path d="M1121.2,2010.0l11.6,-0.3" stroke-width="4.6" opacity="0.26"/><path d="M1039.8,1931.4l-2.0,-7.4" stroke-width="2.9" opacity="0.32"/><path d="M1000.1,2021.7l-6.8,0.6" stroke-width="4.5" opacity="0.29"/><path d="M1105.1,1950.4l9.2,-5.2" stroke-width="3.1" opacity="0.26"/><path d="M1035.1,2028.1l-3.4,9.6" stroke-width="4.7" opacity="0.24"/><path d="M1105.3,2019.1l6.1,6.9" stroke-width="3.7" opacity="0.39"/><path d="M1039.5,1903.3l-0.9,-14.1" stroke-width="3.6" opacity="0.07"/><path d="M1047.3,2001.7l3.6,7.2" stroke-width="3.0" opacity="1.00"/><path d="M1003.0,1969.8l-5.7,-1.8" stroke-width="4.3" opacity="0.46"/><path d="M1038.1,2017.3l-0.9,7.6" stroke-width="3.6" opacity="0.44"/><path d="M992.4,1919.7l-9.7,-10.6" stroke-width="4.4" opacity="0.09"/><path d="M1052.8,1970.1l-1.7,-5.9" stroke-width="3.7" opacity="0.90"/><path d="M1047.9,1972.5l-5.2,-3.2" stroke-width="3.3" opacity="0.65"/><path d="M1078.3,1925.3l-0.3,-9.1" stroke-width="4.6" opacity="0.31"/><path d="M1102.3,2004.0l8.3,-1.0" stroke-width="3.2" opacity="0.53"/><path d="M1132.1,1971.4l9.3,-5.8" stroke-width="3.3" opacity="0.21"/><path d="M1048.1,1907.1l-0.3,-10.3" stroke-width="3.1" opacity="0.22"/><path d="M1002.4,2038.4l-6.8,2.3" stroke-width="4.6" opacity="0.20"/><path d="M1024.7,1960.9l-7.0,-3.1" stroke-width="4.7" opacity="0.65"/><path d="M1002.4,1976.5l-9.5,-5.5" stroke-width="4.4" opacity="0.38"/><path d="M1004.8,2002.7l-7.9,3.1" stroke-width="3.3" opacity="0.20"/><path d="M1021.1,1970.6l-4.5,-0.1" stroke-width="3.0" opacity="0.82"/><path d="M1081.7,2028.4l4.0,4.0" stroke-width="4.8" opacity="0.53"/><path d="M1052.0,2045.0l-0.1,9.0" stroke-width="4.4" opacity="0.40"/><path d="M1025.9,2030.5l0.3,10.1" stroke-width="3.6" opacity="0.43"/><path d="M1045.2,1931.3l-11.1,-5.5" stroke-width="3.0" opacity="0.52"/><path d="M1124.5,1990.7l5.9,1.5" stroke-width="3.2" opacity="0.18"/><path d="M1112.8,1920.5l9.9,-1.2" stroke-width="3.1" opacity="0.15"/><path d="M1020.4,2022.9l-4.4,4.6" stroke-width="4.8" opacity="0.38"/><path d="M1061.5,2023.6l8.8,5.7" stroke-width="3.0" opacity="0.42"/><path d="M1065.0,1979.2l2.4,-4.5" stroke-width="3.6" opacity="0.56"/><path d="M1092.4,1986.8l6.9,-2.2" stroke-width="4.0" opacity="0.41"/><path d="M1034.7,1950.8l-2.9,-4.6" stroke-width="4.7" opacity="0.71"/><path d="M1108.5,2045.6l5.2,4.4" stroke-width="4.6" opacity="0.18"/><path d="M1001.6,1922.0l-3.0,-9.7" stroke-width="3.8" opacity="0.12"/><path d="M1034.6,2039.7l0.8,6.1" stroke-width="2.9" opacity="0.33"/><path d="M978.4,1947.1l-4.8,-7.0" stroke-width="3.0" opacity="0.12"/><path d="M1058.6,2007.9l-0.1,7.6" stroke-width="3.7" opacity="0.62"/><path d="M1063.5,2028.2l-1.2,11.5" stroke-width="3.3" opacity="0.26"/><path d="M1037.0,2035.6l-3.9,5.1" stroke-width="3.5" opacity="0.36"/><path d="M1042.3,1997.6l-3.9,4.7" stroke-width="3.4" opacity="0.54"/><path d="M998.4,2030.1l-1.8,9.6" stroke-width="3.1" opacity="0.20"/><path d="M1062.5,1933.5l-2.8,-11.6" stroke-width="4.7" opacity="0.47"/><path d="M1032.3,1959.2l-4.9,-5.1" stroke-width="4.5" opacity="0.38"/><path d="M996.0,1976.3l-7.4,0.8" stroke-width="4.2" opacity="0.27"/><path d="M1123.5,1976.1l8.9,1.2" stroke-width="4.2" opacity="0.22"/><path d="M981.2,1934.4l-8.6,-4.4" stroke-width="2.8" opacity="0.07"/><path d="M1049.7,2031.9l-3.5,4.7" stroke-width="3.3" opacity="0.62"/><path d="M1077.9,2015.9l2.3,10.9" stroke-width="4.2" opacity="0.55"/><path d="M1125.2,2035.7l3.2,7.5" stroke-width="3.4" opacity="0.11"/><path d="M1017.9,1982.5l-7.6,4.3" stroke-width="3.9" opacity="0.48"/><path d="M1111.8,2035.2l2.9,4.9" stroke-width="4.1" opacity="0.14"/><path d="M1084.4,1933.8l5.8,-7.2" stroke-width="3.2" opacity="0.35"/><path d="M1087.3,1960.1l8.7,-2.0" stroke-width="3.6" opacity="0.63"/><path d="M1104.3,1988.9l4.0,2.7" stroke-width="3.0" opacity="0.47"/><path d="M1062.4,2051.0l8.5,9.0" stroke-width="4.0" opacity="0.21"/><path d="M1055.4,2043.7l3.0,12.2" stroke-width="3.3" opacity="0.17"/><path d="M1081.4,2052.5l-0.3,11.2" stroke-width="4.5" opacity="0.15"/><path d="M1098.1,1958.9l4.9,-3.8" stroke-width="3.3" opacity="0.45"/><path d="M1073.0,1980.9l5.7,2.9" stroke-width="4.8" opacity="0.55"/><path d="M1046.8,1968.3l-1.0,-7.8" stroke-width="4.7" opacity="1.00"/><path d="M1054.5,1977.3l-6.3,-2.4" stroke-width="3.8" opacity="0.51"/><path d="M1021.3,2016.5l-2.6,6.7" stroke-width="4.1" opacity="0.54"/><path d="M1069.1,1975.2l3.5,-4.1" stroke-width="4.5" opacity="0.48"/><path d="M1108.9,1955.3l6.1,-6.2" stroke-width="3.8" opacity="0.38"/><path d="M1124.7,2003.8l13.0,-0.2" stroke-width="4.8" opacity="0.19"/><path d="M1078.8,2004.1l3.4,3.5" stroke-width="4.7" opacity="0.77"/><path d="M1011.3,1985.7l-3.8,-4.5" stroke-width="4.0" opacity="0.55"/><path d="M1036.7,2024.4l-1.8,8.0" stroke-width="4.8" opacity="0.57"/><path d="M998.0,2013.3l-11.0,1.5" stroke-width="2.8" opacity="0.29"/><path d="M1005.7,2036.3l-10.6,10.1" stroke-width="3.6" opacity="0.11"/><path d="M1075.1,1957.3l4.4,-4.4" stroke-width="4.3" opacity="0.65"/><path d="M1036.4,1982.1l-7.0,-0.4" stroke-width="4.5" opacity="0.46"/><path d="M1005.5,1914.1l-6.2,-6.0" stroke-width="3.9" opacity="0.11"/><path d="M1049.6,2000.0l1.5,7.4" stroke-width="3.2" opacity="1.00"/><path d="M1072.1,1967.2l5.4,-1.6" stroke-width="3.7" opacity="0.85"/><path d="M1058.0,1983.8l5.5,-3.7" stroke-width="3.8" opacity="1.00"/><path d="M1049.9,1930.0l-2.2,-6.2" stroke-width="4.0" opacity="0.47"/><path d="M1064.4,1967.5l1.7,-6.9" stroke-width="4.4" opacity="0.64"/><path d="M1042.3,2047.6l1.0,7.1" stroke-width="3.3" opacity="0.30"/><path d="M1080.0,1936.8l5.0,-7.2" stroke-width="4.4" opacity="0.32"/><path d="M1070.9,1996.0l2.9,2.0" stroke-width="3.6" opacity="0.62"/><path d="M1033.2,2042.1l-6.4,6.6" stroke-width="3.5" opacity="0.38"/><path d="M1049.4,2031.9l1.9,7.3" stroke-width="3.3" opacity="0.33"/><path d="M1093.0,1935.4l1.3,-8.8" stroke-width="4.6" opacity="0.18"/><path d="M996.0,2017.9l-4.1,7.6" stroke-width="3.5" opacity="0.31"/><path d="M993.3,1960.4l-5.9,-0.7" stroke-width="4.4" opacity="0.30"/><path d="M1100.9,1962.9l9.7,-5.2" stroke-width="3.3" opacity="0.31"/><path d="M981.7,1951.6l-6.1,-1.9" stroke-width="4.3" opacity="0.10"/><path d="M1050.3,1973.1l-1.2,-3.7" stroke-width="3.6" opacity="0.71"/><path d="M1092.1,1925.7l3.6,-7.3" stroke-width="4.6" opacity="0.17"/><path d="M1100.4,2006.5l5.3,4.3" stroke-width="3.5" opacity="0.23"/><path d="M1109.4,2020.4l8.3,4.7" stroke-width="4.3" opacity="0.19"/><path d="M1099.2,2051.9l1.4,9.9" stroke-width="4.4" opacity="0.08"/><path d="M1045.9,1947.2l-2.8,-4.4" stroke-width="4.2" opacity="0.61"/><path d="M1075.2,2028.2l8.2,7.4" stroke-width="2.9" opacity="0.54"/><path d="M1065.1,2004.6l7.6,3.5" stroke-width="3.9" opacity="0.49"/><path d="M1035.5,2041.2l-5.8,9.2" stroke-width="4.3" opacity="0.28"/><path d="M1047.3,1976.3l-2.4,-2.0" stroke-width="2.8" opacity="0.55"/><path d="M1010.4,1938.4l-7.1,-6.2" stroke-width="4.7" opacity="0.27"/><path d="M1072.7,1961.1l6.1,-5.5" stroke-width="3.8" opacity="0.87"/><path d="M1047.4,2028.9l-8.2,8.5" stroke-width="3.8" opacity="0.43"/><path d="M1017.7,1939.4l-2.6,-10.4" stroke-width="4.7" opacity="0.29"/><path d="M1050.7,1964.2l-5.7,-5.3" stroke-width="3.1" opacity="0.93"/><path d="M1066.3,1969.3l3.7,-1.5" stroke-width="4.0" opacity="1.00"/><path d="M1083.1,2000.8l7.6,6.3" stroke-width="4.4" opacity="0.81"/><path d="M1053.8,2014.1l0.7,8.3" stroke-width="3.4" opacity="0.88"/><path d="M1086.6,1964.0l5.8,-5.2" stroke-width="4.6" opacity="0.43"/><path d="M1020.4,1979.7l-6.6,0.4" stroke-width="3.6" opacity="0.77"/><path d="M1076.1,1994.7l3.5,4.1" stroke-width="3.4" opacity="0.93"/><path d="M1004.0,1957.5l-6.2,-1.9" stroke-width="3.5" opacity="0.30"/><path d="M1111.2,1957.1l7.0,0.2" stroke-width="4.2" opacity="0.41"/><path d="M1103.1,1992.9l4.9,0.1" stroke-width="3.2" opacity="0.55"/><path d="M1121.9,2028.9l12.6,8.6" stroke-width="3.4" opacity="0.08"/><path d="M1040.9,1985.6l-6.4,1.0" stroke-width="3.6" opacity="0.54"/><path d="M1085.1,1912.0l4.7,-11.8" stroke-width="4.7" opacity="0.19"/><path d="M1048.6,1946.0l-4.2,-5.7" stroke-width="4.0" opacity="0.72"/><path d="M996.7,1992.3l-4.6,2.5" stroke-width="3.7" opacity="0.23"/><path d="M1106.2,2011.4l8.2,7.0" stroke-width="3.9" opacity="0.33"/><path d="M1032.6,1933.7l-0.1,-7.8" stroke-width="3.1" opacity="0.35"/><path d="M1046.5,1939.9l-5.3,-8.0" stroke-width="2.9" opacity="0.55"/></g>
</g></g>
<rect x="955.50" y="1888.10" width="200.00" height="200.00" fill="none" stroke="#555" stroke-width="1.0"/>
<rect x="718.20" y="2125.70" width="200.00" height="12.30" fill="url(#ircb)" stroke="#444" stroke-width="0.8"/>
<rect x="955.50" y="2125.70" width="200.00" height="12.30" fill="url(#seis)" stroke="#444" stroke-width="0.8"/>
<text x="817.70" y="2122.10" font-size="10.11" text-anchor="middle" textLength="133.48" lengthAdjust="spacingAndGlyphs" fill="#262626">Brightness Temperature [K]</text>
<text x="1055.50" y="2122.00" font-size="10.11" text-anchor="middle" textLength="60.84" lengthAdjust="spacingAndGlyphs" fill="#262626">SHAP Values</text>
<line x1="718.20" y1="2138.00" x2="718.20" y2="2140.60" stroke="#333" stroke-width="0.8"/>
<text x="718.20" y="2148.40" font-size="7.22" text-anchor="middle" textLength="13.25" lengthAdjust="spacingAndGlyphs" fill="#262626">180</text>
<line x1="748.98" y1="2138.00" x2="748.98" y2="2140.60" stroke="#333" stroke-width="0.8"/>
<text x="748.98" y="2148.40" font-size="7.22" text-anchor="middle" textLength="13.25" lengthAdjust="spacingAndGlyphs" fill="#262626">200</text>
<line x1="779.76" y1="2138.00" x2="779.76" y2="2140.60" stroke="#333" stroke-width="0.8"/>
<text x="779.76" y="2148.40" font-size="7.22" text-anchor="middle" textLength="13.25" lengthAdjust="spacingAndGlyphs" fill="#262626">220</text>
<line x1="810.54" y1="2138.00" x2="810.54" y2="2140.60" stroke="#333" stroke-width="0.8"/>
<text x="810.54" y="2148.40" font-size="7.22" text-anchor="middle" textLength="13.25" lengthAdjust="spacingAndGlyphs" fill="#262626">240</text>
<line x1="841.32" y1="2138.00" x2="841.32" y2="2140.60" stroke="#333" stroke-width="0.8"/>
<text x="841.32" y="2148.40" font-size="7.22" text-anchor="middle" textLength="13.25" lengthAdjust="spacingAndGlyphs" fill="#262626">260</text>
<line x1="872.10" y1="2138.00" x2="872.10" y2="2140.60" stroke="#333" stroke-width="0.8"/>
<text x="872.10" y="2148.40" font-size="7.22" text-anchor="middle" textLength="13.25" lengthAdjust="spacingAndGlyphs" fill="#262626">280</text>
<line x1="902.88" y1="2138.00" x2="902.88" y2="2140.60" stroke="#333" stroke-width="0.8"/>
<text x="902.88" y="2148.40" font-size="7.22" text-anchor="middle" textLength="13.25" lengthAdjust="spacingAndGlyphs" fill="#262626">300</text>
<line x1="980.50" y1="2138.00" x2="980.50" y2="2140.60" stroke="#333" stroke-width="0.8"/>
<text x="980.50" y="2150.50" font-size="10.11" text-anchor="middle" textLength="28.52" lengthAdjust="spacingAndGlyphs" fill="#262626">−0.04</text>
<line x1="1018.00" y1="2138.00" x2="1018.00" y2="2140.60" stroke="#333" stroke-width="0.8"/>
<text x="1018.00" y="2150.50" font-size="10.11" text-anchor="middle" textLength="28.52" lengthAdjust="spacingAndGlyphs" fill="#262626">−0.02</text>
<line x1="1055.50" y1="2138.00" x2="1055.50" y2="2140.60" stroke="#333" stroke-width="0.8"/>
<text x="1055.50" y="2150.50" font-size="10.11" text-anchor="middle" textLength="21.64" lengthAdjust="spacingAndGlyphs" fill="#262626">0.00</text>
<line x1="1093.00" y1="2138.00" x2="1093.00" y2="2140.60" stroke="#333" stroke-width="0.8"/>
<text x="1093.00" y="2150.50" font-size="10.11" text-anchor="middle" textLength="21.64" lengthAdjust="spacingAndGlyphs" fill="#262626">0.02</text>
<line x1="1130.50" y1="2138.00" x2="1130.50" y2="2140.60" stroke="#333" stroke-width="0.8"/>
<text x="1130.50" y="2150.50" font-size="10.11" text-anchor="middle" textLength="21.64" lengthAdjust="spacingAndGlyphs" fill="#262626">0.04</text>
</g>
</svg>
</body></html>
